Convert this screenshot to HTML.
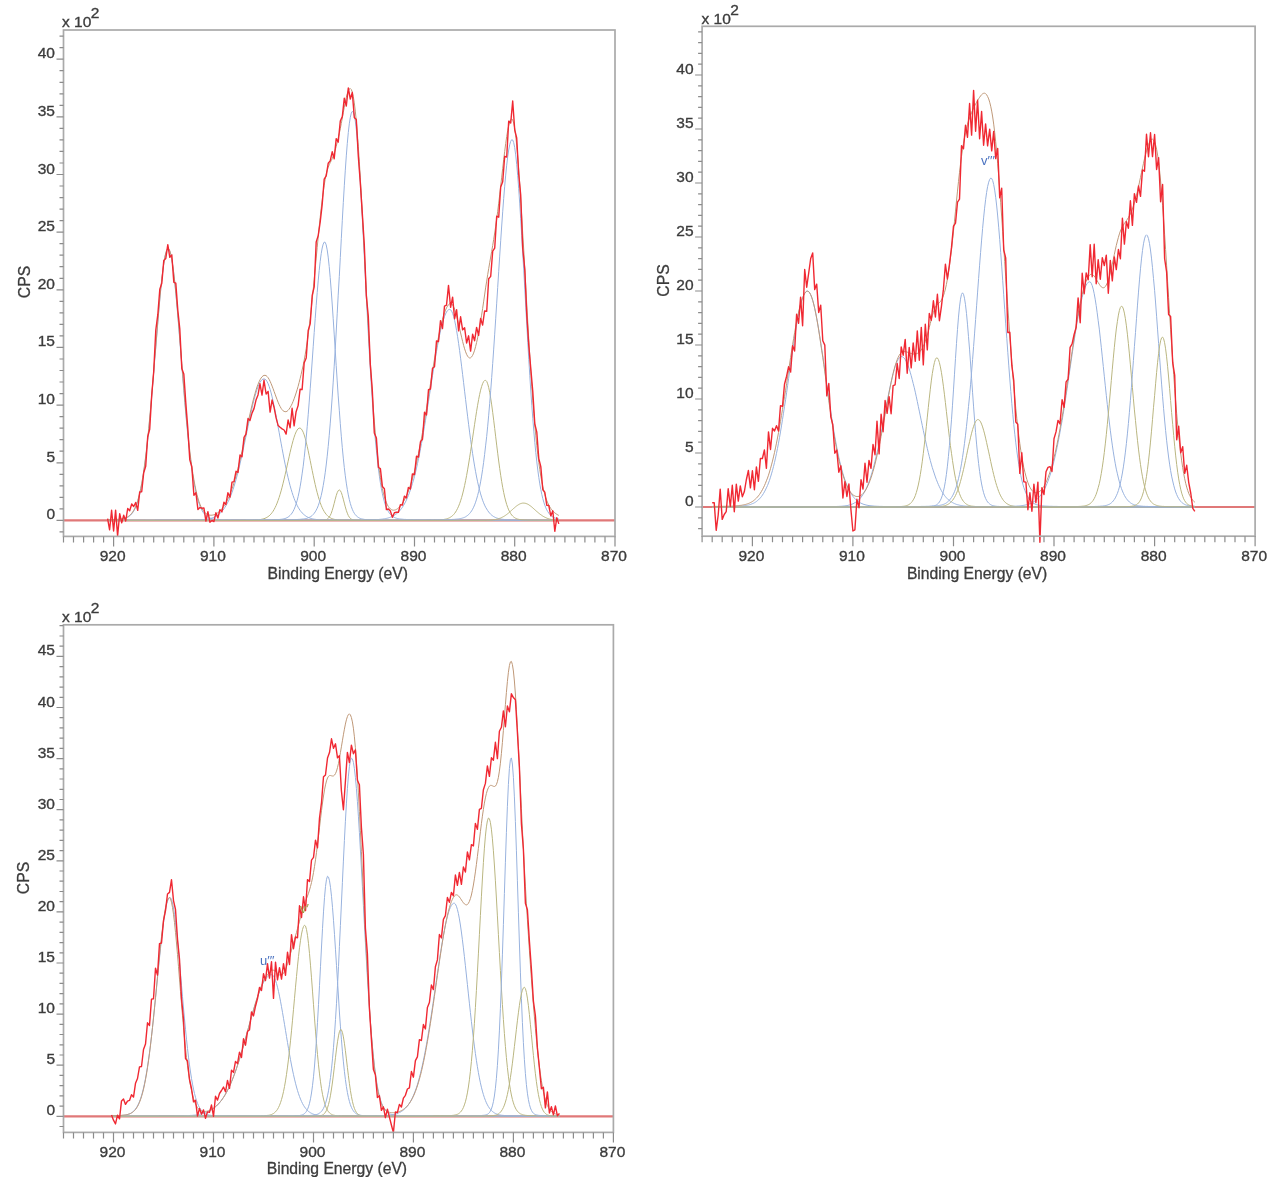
<!DOCTYPE html>
<html><head><meta charset="utf-8"><style>
html,body{margin:0;padding:0;background:#fff;}
svg{display:block;filter:blur(0.6px);}
path,rect{fill:none;}
.t{font-family:"Liberation Sans", sans-serif;font-size:15.5px;fill:#3c3c3c;stroke:#3c3c3c;stroke-width:0.35px;}
.a{font-family:"Liberation Sans", sans-serif;font-size:15.7px;fill:#3c3c3c;stroke:#3c3c3c;stroke-width:0.3px;}
.lab{font-family:"Liberation Sans", sans-serif;font-size:13px;}
</style></head><body>
<svg width="1280" height="1190" viewBox="0 0 1280 1190">
<path d="M63.5,520.4H615" stroke="#e07878" stroke-width="2.2"/>
<path d="M107.6,519.9l1 0 1 0 1,-0.1 1 0 1 0 1 0 1,-0.1 1 0 1,-0.1 1 0 1.1,-0.1 1,-0.1 1,-0.1 1,-0.1 1,-0.2 1,-0.2 1,-0.3 1,-0.3 1,-0.4 1,-0.5 1,-0.6 1,-0.8 1,-0.9 1,-1.1 1,-1.3 1,-1.5 1,-1.9 1,-2.1 1,-2.6 1,-2.9 1,-3.4 1,-4 1,-4.4 1,-5.1 1,-5.7 1,-6.4 1,-7 1,-7.8 1,-8.4 1,-9.2 1,-9.9 1,-10.5 1,-11 1,-11.6 1,-12.1 1,-12.3 1,-12.6 1.1,-12.6 1,-12.5 1,-12.3 1,-11.9 1,-11.3 1,-10.5 1,-9.7 1,-8.5 1,-7.3 1,-6 1,-4.5 1,-2.9 1,-1.3 1 0.3 1 1.9 1 3.6 1 5 1 6.6 1 7.8 1 9.1 1 10 1 11 1 11.6 1 12.2 1 12.4 1 12.7 1 12.7 1 12.5 1 12.3 1 11.9 1 11.5 1 10.9 1 10.2 1 9.6 1 8.9 1 8.1 1 7.5 1.1 6.7 1 6.1 1 5.4 1 4.8 1 4.2 1 3.7 1 3.1 1 2.8 1 2.3 1 2 1 1.7 1 1.4 1 1.2 1 1 1 0.8 1 0.6 1 0.6 1 0.4 1 0.4 1 0.3 1 0.2 1 0.2 1 0.1 1 0.2 1 0.1 1 0 1 0.1 1 0.1 1 0 1 0.1 1 0 1 0 1 0 1 0.1 1 0 1 0 1.1 0 1 0 1 0 1 0.1 1 0 1 0 1 0 1 0 1 0 1 0 1 0 1 0 1 0.1 1 0 1 0 1 0 1 0 1 0 1 0 1 0 1 0 1 0 1 0 1 0 1 0 1 0.1 1 0 1 0 1 0 1 0 1 0 1 0 1 0 1 0 1 0 1 0 1 0 1.1 0 1 0 1 0 1 0 1 0 1 0 1 0 1 0 1 0 1 0 1 0 1 0 1 0 1 0 1 0.1 1 0 1 0 1 0 1 0 1 0 1 0 1 0 1 0 1 0 1 0 1 0 1 0 1 0 1 0 1 0 1 0 1 0 1 0 1 0 1 0 1 0 1 0 1.1 0 1 0 1 0 1 0 1 0 1 0 1 0 1 0 1 0 1 0 1 0 1 0 1 0 1 0 1 0 1 0 1 0 1 0 1 0 1 0 1 0 1 0 1 0 1 0 1 0 1 0 1 0 1 0 1 0 1 0 1 0 1 0 1 0 1 0 1 0 1 0 1.1 0 1 0 1 0 1 0 1 0 1 0 1 0 1 0 1 0 1 0 1 0 1 0 1 0 1 0 1 0 1 0 1 0 1 0 1 0 1 0 1 0 1 0 1 0 1 0.1 1 0 1 0 1 0 1 0 1 0 1 0 1 0 1 0 1 0 1 0 1 0 1 0 1 0 1.1 0 1 0 1 0 1 0 1 0 1 0 1 0 1 0 1 0 1 0 1 0 1 0 1 0 1 0 1 0 1 0 1 0 1 0 1 0 1 0 1 0 1 0 1 0 1 0 1 0 1 0 1 0 1 0 1 0 1 0 1 0 1 0 1 0 1 0 1 0 1 0 1 0 1.1 0 1 0 1 0 1 0 1 0 1 0 1 0 1 0 1 0 1 0 1 0 1 0 1 0 1 0 1 0 1 0 1 0 1 0 1 0 1 0 1 0 1 0 1 0 1 0 1 0 1 0 1 0 1 0 1 0 1 0 1 0 1 0 1 0 1 0 1 0 1 0 1.1 0 1 0 1 0 1 0 1 0 1 0 1 0 1 0 1 0 1 0 1 0 1 0 1 0 1 0 1 0 1 0 1 0 1 0 1 0 1 0 1 0 1 0 1 0 1 0 1 0 1 0 1 0 1 0 1 0 1 0 1 0 1 0 1 0 1 0 1 0 1 0 1 0 1.1 0 1 0 1 0 1 0 1 0 1 0 1 0 1 0 1 0 1 0 1 0 1 0 1 0 1 0 1 0 1 0 1 0 1 0 1 0 1 0 1 0 1 0 1 0 1 0 1 0 1 0 1 0 1 0 1 0 1 0 1 0 1 0 1 0 1 0 1 0 1 0 1 0 1.1 0 1 0 1 0 1 0 1 0 1 0 1 0 1 0 1 0 1 0 1 0 1 0 1 0 1 0 1 0 1 0 1 0 1 0 1 0 1 0 1 0 1 0 1 0 1 0 1 0 1 0 1 0 1 0 1 0 1 0 1 0 1 0 1 0 1 0 1 0 1 0" stroke="#98b2de"/>
<path d="M107.6,520.3l1 0 1 0 1 0 1 0 1 0 1 0 1 0 1 0 1 0 1 0 1.1 0 1 0 1 0 1 0 1 0 1 0 1 0 1 0 1 0 1 0 1 0 1 0 1 0 1 0 1 0 1 0 1 0 1 0 1 0 1 0 1 0 1 0 1 0 1 0 1 0 1 0 1 0 1 0 1 0 1 0 1 0 1 0 1 0 1 0 1 0 1 0 1 0 1.1,-0.1 1 0 1 0 1 0 1 0 1 0 1 0 1 0 1 0 1 0 1 0 1 0 1 0 1 0 1 0 1 0 1 0 1 0 1 0 1 0 1 0 1 0 1 0 1 0 1 0 1,-0.1 1 0 1 0 1 0 1 0 1 0 1 0 1 0 1 0 1 0 1 0 1,-0.1 1.1 0 1 0 1 0 1 0 1,-0.1 1 0 1,-0.1 1 0 1,-0.1 1 0 1,-0.1 1,-0.1 1,-0.1 1,-0.1 1,-0.2 1,-0.1 1,-0.2 1,-0.2 1,-0.3 1,-0.3 1,-0.3 1,-0.4 1,-0.5 1,-0.5 1,-0.6 1,-0.7 1,-0.7 1,-0.9 1,-0.9 1,-1.1 1,-1.2 1,-1.3 1,-1.5 1,-1.6 1,-1.8 1,-1.9 1.1,-2.1 1,-2.4 1,-2.5 1,-2.6 1,-2.9 1,-3.1 1,-3.3 1,-3.5 1,-3.7 1,-3.8 1,-4.1 1,-4.2 1,-4.4 1,-4.5 1,-4.6 1,-4.7 1,-4.8 1,-4.8 1,-4.8 1,-4.8 1,-4.8 1,-4.7 1,-4.5 1,-4.4 1,-4.3 1,-3.9 1,-3.8 1,-3.4 1,-3.1 1,-2.8 1,-2.4 1,-2 1,-1.5 1,-1.2 1,-0.6 1,-0.2 1 0.3 1.1 0.9 1 1.5 1 2.1 1 2.6 1 3.1 1 3.5 1 4 1 4.3 1 4.7 1 4.9 1 5.2 1 5.3 1 5.5 1 5.4 1 5.6 1 5.4 1 5.4 1 5.3 1 5.2 1 5 1 4.8 1 4.5 1 4.3 1 4.1 1 3.9 1 3.5 1 3.3 1 3.1 1 2.8 1 2.5 1 2.3 1 2.1 1 1.9 1 1.7 1 1.5 1 1.3 1 1.2 1.1 1 1 0.9 1 0.8 1 0.7 1 0.6 1 0.5 1 0.4 1 0.4 1 0.3 1 0.3 1 0.2 1 0.2 1 0.1 1 0.2 1 0.1 1 0.1 1 0 1 0.1 1 0.1 1 0 1 0 1 0.1 1 0 1 0 1 0 1 0.1 1 0 1 0 1 0 1 0 1 0 1 0 1 0 1 0 1 0 1 0.1 1.1 0 1 0 1 0 1 0 1 0 1 0 1 0 1 0 1 0 1 0 1 0 1 0 1 0 1 0 1 0 1 0 1 0 1 0 1 0 1 0 1 0 1 0.1 1 0 1 0 1 0 1 0 1 0 1 0 1 0 1 0 1 0 1 0 1 0 1 0 1 0 1 0 1 0 1.1 0 1 0 1 0 1 0 1 0 1 0 1 0 1 0 1 0 1 0 1 0 1 0 1 0 1 0 1 0 1 0 1 0 1 0 1 0 1 0 1 0 1 0 1 0 1 0 1 0 1 0 1 0 1 0 1 0 1 0 1 0 1 0 1 0 1 0 1 0 1 0 1 0 1.1 0 1 0 1 0 1 0 1 0 1 0 1 0 1 0 1 0 1 0 1 0 1 0 1 0 1 0 1 0 1 0 1 0 1 0 1 0.1 1 0 1 0 1 0 1 0 1 0 1 0 1 0 1 0 1 0 1 0 1 0 1 0 1 0 1 0 1 0 1 0 1 0 1.1 0 1 0 1 0 1 0 1 0 1 0 1 0 1 0 1 0 1 0 1 0 1 0 1 0 1 0 1 0 1 0 1 0 1 0 1 0 1 0 1 0 1 0 1 0 1 0 1 0 1 0 1 0 1 0 1 0 1 0 1 0 1 0 1 0 1 0 1 0 1 0 1 0 1.1 0 1 0 1 0 1 0 1 0 1 0 1 0 1 0 1 0 1 0 1 0 1 0 1 0 1 0 1 0 1 0 1 0 1 0 1 0 1 0 1 0 1 0 1 0 1 0 1 0 1 0 1 0 1 0 1 0 1 0 1 0 1 0 1 0 1 0 1 0 1 0 1 0 1.1 0 1 0 1 0 1 0 1 0 1 0 1 0 1 0 1 0 1 0 1 0 1 0 1 0 1 0 1 0 1 0 1 0 1 0 1 0 1 0 1 0 1 0 1 0 1 0 1 0 1 0 1 0 1 0 1 0 1 0 1 0 1 0 1 0 1 0 1 0 1 0" stroke="#98b2de"/>
<path d="M107.6,520.4l1 0 1 0 1 0 1 0 1 0 1 0 1 0 1 0 1 0 1 0 1.1 0 1 0 1 0 1 0 1 0 1 0 1 0 1 0 1 0 1 0 1 0 1 0 1 0 1 0 1 0 1 0 1 0 1 0 1 0 1 0 1 0 1 0 1 0 1 0 1 0 1 0 1 0 1 0 1 0 1 0 1 0 1 0 1 0 1 0 1 0 1 0 1 0 1.1 0 1 0 1 0 1 0 1 0 1 0 1 0 1 0 1 0 1 0 1 0 1 0 1 0 1 0 1 0 1 0 1 0 1 0 1 0 1 0 1 0 1 0 1 0 1 0 1 0 1 0 1 0 1 0 1 0 1 0 1 0 1 0 1 0 1 0 1 0 1 0 1 0 1.1,-0.1 1 0 1 0 1 0 1 0 1 0 1 0 1 0 1 0 1 0 1 0 1 0 1 0 1 0 1 0 1 0 1 0 1 0 1 0 1 0 1 0 1 0 1 0 1 0 1 0 1 0 1 0 1 0 1 0 1 0 1 0 1 0 1 0 1 0 1 0 1 0 1.1 0 1 0 1 0 1 0 1 0 1 0 1 0 1 0 1 0 1 0 1,-0.1 1 0 1 0 1 0 1 0 1 0 1 0 1 0 1 0 1 0 1 0 1 0 1,-0.1 1 0 1 0 1 0 1,-0.1 1 0 1,-0.1 1,-0.1 1,-0.1 1,-0.1 1,-0.2 1,-0.2 1,-0.2 1,-0.3 1,-0.4 1.1,-0.5 1,-0.5 1,-0.7 1,-0.7 1,-1 1,-1 1,-1.3 1,-1.4 1,-1.7 1,-1.9 1,-2.1 1,-2.4 1,-2.7 1,-2.9 1,-3.2 1,-3.4 1,-3.7 1,-4 1,-4.1 1,-4.3 1,-4.4 1,-4.5 1,-4.6 1,-4.5 1,-4.4 1,-4.2 1,-4 1,-3.7 1,-3.3 1,-2.9 1,-2.4 1,-1.8 1,-1.3 1,-0.7 1 0 1 0.6 1 1.4 1.1 2.1 1 2.7 1 3.3 1 3.9 1 4.2 1 4.5 1 4.8 1 4.9 1 5 1 5 1 4.8 1 4.7 1 4.5 1 4.3 1 3.9 1 3.6 1 3.3 1 3 1 2.7 1 2.4 1 2 1 1.8 1 1.5 1 1.3 1 1.1 1 1 1 0.7 1 0.6 1 0.6 1 0.4 1 0.3 1 0.3 1 0.2 1 0.1 1 0.2 1 0.1 1.1 0 1 0.1 1 0.1 1 0 1 0 1 0 1 0.1 1 0 1 0 1 0 1 0 1 0 1 0 1 0 1 0 1 0 1 0.1 1 0 1 0 1 0 1 0 1 0 1 0 1 0 1 0 1 0 1 0 1 0 1 0 1 0 1 0 1 0 1 0 1 0 1 0 1 0 1 0 1.1 0 1 0 1 0 1 0 1 0 1 0 1 0 1 0 1 0 1 0 1 0 1 0 1 0 1 0 1 0 1 0 1 0 1 0 1 0 1 0 1 0 1 0.1 1 0 1 0 1 0 1 0 1 0 1 0 1 0 1 0 1 0 1 0 1 0 1 0 1 0 1 0 1 0 1.1 0 1 0 1 0 1 0 1 0 1 0 1 0 1 0 1 0 1 0 1 0 1 0 1 0 1 0 1 0 1 0 1 0 1 0 1 0 1 0 1 0 1 0 1 0 1 0 1 0 1 0 1 0 1 0 1 0 1 0 1 0 1 0 1 0 1 0 1 0 1 0 1.1 0 1 0 1 0 1 0 1 0 1 0 1 0 1 0 1 0 1 0 1 0 1 0 1 0 1 0 1 0 1 0 1 0 1 0 1 0 1 0 1 0 1 0 1 0 1 0 1 0 1 0 1 0 1 0 1 0 1 0 1 0 1 0 1 0 1 0 1 0 1 0 1 0 1.1 0 1 0 1 0 1 0 1 0 1 0 1 0 1 0 1 0 1 0 1 0 1 0 1 0 1 0 1 0 1 0 1 0 1 0 1 0 1 0 1 0 1 0 1 0 1 0 1 0 1 0 1 0 1 0 1 0 1 0 1 0 1 0 1 0 1 0 1 0 1 0 1 0 1.1 0 1 0 1 0 1 0 1 0 1 0 1 0 1 0 1 0 1 0 1 0 1 0 1 0 1 0 1 0 1 0 1 0 1 0 1 0 1 0 1 0 1 0 1 0 1 0 1 0 1 0 1 0 1 0 1 0 1 0 1 0 1 0 1 0 1 0 1 0 1 0" stroke="#bab680"/>
<path d="M107.6,520.4l1 0 1 0 1 0 1 0 1 0 1 0 1 0 1 0 1 0 1 0 1.1 0 1 0 1 0 1 0 1 0 1 0 1 0 1 0 1 0 1 0 1 0 1 0 1 0 1 0 1 0 1 0 1 0 1 0 1 0 1 0 1 0 1 0 1 0 1 0 1 0 1 0 1 0 1,-0.1 1 0 1 0 1 0 1 0 1 0 1 0 1 0 1 0 1 0 1.1 0 1 0 1 0 1 0 1 0 1 0 1 0 1 0 1 0 1 0 1 0 1 0 1 0 1 0 1 0 1 0 1 0 1 0 1 0 1 0 1 0 1 0 1 0 1 0 1 0 1 0 1 0 1 0 1 0 1 0 1 0 1 0 1 0 1 0 1 0 1 0 1 0 1.1 0 1 0 1 0 1 0 1 0 1 0 1 0 1 0 1 0 1 0 1 0 1 0 1 0 1 0 1 0 1 0 1 0 1 0 1 0 1 0 1 0 1 0 1 0 1 0 1 0 1 0 1 0 1 0 1 0 1,-0.1 1 0 1 0 1 0 1 0 1 0 1 0 1.1 0 1 0 1 0 1 0 1 0 1 0 1 0 1 0 1 0 1 0 1 0 1 0 1 0 1 0 1 0 1 0 1 0 1,-0.1 1 0 1 0 1 0 1 0 1 0 1 0 1 0 1 0 1 0 1 0 1 0 1 0 1,-0.1 1 0 1 0 1 0 1 0 1 0 1 0 1.1 0 1,-0.1 1 0 1 0 1 0 1 0 1,-0.1 1 0 1 0 1,-0.1 1 0 1 0 1,-0.1 1,-0.1 1,-0.1 1,-0.1 1,-0.1 1,-0.2 1,-0.2 1,-0.3 1,-0.4 1,-0.5 1,-0.5 1,-0.8 1,-0.9 1,-1.1 1,-1.3 1,-1.7 1,-2 1,-2.4 1,-2.9 1,-3.3 1,-4 1,-4.6 1,-5.3 1,-6 1,-6.9 1.1,-7.7 1,-8.6 1,-9.4 1,-10.3 1,-11.2 1,-11.9 1,-12.7 1,-13.3 1,-13.7 1,-14.1 1,-14.2 1,-14.2 1,-13.9 1,-13.4 1,-12.7 1,-11.7 1,-10.5 1,-9.1 1,-7.6 1,-5.7 1,-3.9 1,-2 1 0.2 1 2.6 1 5 1 7.2 1 9.3 1 11.1 1 12.6 1 13.9 1 14.7 1 15.4 1 15.7 1 15.7 1 15.4 1 15 1.1 14.3 1 13.5 1 12.5 1 11.5 1 10.4 1 9.4 1 8.3 1 7.3 1 6.3 1 5.5 1 4.6 1 3.9 1 3.2 1 2.7 1 2.2 1 1.8 1 1.4 1 1.1 1 0.9 1 0.7 1 0.6 1 0.4 1 0.4 1 0.2 1 0.2 1 0.2 1 0.1 1 0.1 1 0 1 0.1 1 0 1 0.1 1 0 1 0 1 0.1 1 0 1 0 1.1 0 1 0 1 0.1 1 0 1 0 1 0 1 0 1 0 1 0 1 0.1 1 0 1 0 1 0 1 0 1 0 1 0 1 0 1 0 1 0 1 0 1 0.1 1 0 1 0 1 0 1 0 1 0 1 0 1 0 1 0 1 0 1 0 1 0 1 0 1 0 1 0 1 0 1 0 1.1 0 1 0 1 0 1 0 1 0 1 0.1 1 0 1 0 1 0 1 0 1 0 1 0 1 0 1 0 1 0 1 0 1 0 1 0 1 0 1 0 1 0 1 0 1 0 1 0 1 0 1 0 1 0 1 0 1 0 1 0 1 0 1 0 1 0 1 0 1 0 1 0 1.1 0 1 0 1 0 1 0 1 0 1 0 1 0 1 0 1 0 1 0 1 0 1 0 1 0 1 0 1 0 1 0 1 0 1 0 1 0 1 0 1 0 1 0 1 0 1 0 1 0 1 0 1 0 1 0 1 0 1 0 1 0 1 0 1 0 1 0 1 0 1 0 1 0 1.1 0 1 0.1 1 0 1 0 1 0 1 0 1 0 1 0 1 0 1 0 1 0 1 0 1 0 1 0 1 0 1 0 1 0 1 0 1 0 1 0 1 0 1 0 1 0 1 0 1 0 1 0 1 0 1 0 1 0 1 0 1 0 1 0 1 0 1 0 1 0 1 0 1 0 1.1 0 1 0 1 0 1 0 1 0 1 0 1 0 1 0 1 0 1 0 1 0 1 0 1 0 1 0 1 0 1 0 1 0 1 0 1 0 1 0 1 0 1 0 1 0 1 0 1 0 1 0 1 0 1 0 1 0 1 0 1 0 1 0 1 0 1 0 1 0 1 0" stroke="#98b2de"/>
<path d="M107.6,520.4l1 0 1 0 1 0 1 0 1 0 1 0 1 0 1 0 1 0 1 0 1.1 0 1 0 1 0 1 0 1 0 1 0 1 0 1 0 1 0 1 0 1 0 1 0 1 0 1 0 1 0 1 0 1 0 1 0 1 0 1 0 1 0 1 0 1 0 1 0 1 0 1 0 1 0 1 0 1 0 1 0 1 0 1 0 1 0 1 0 1 0 1 0 1 0 1.1 0 1 0 1 0 1 0 1 0 1 0 1 0 1 0 1 0 1 0 1 0 1 0 1 0 1 0 1 0 1 0 1 0 1 0 1 0 1 0 1 0 1 0 1 0 1 0 1 0 1 0 1 0 1 0 1 0 1 0 1 0 1 0 1 0 1 0 1 0 1 0 1 0 1.1 0 1 0 1 0 1 0 1 0 1 0 1 0 1 0 1 0 1 0 1 0 1 0 1 0 1 0 1 0 1 0 1 0 1 0 1 0 1 0 1 0 1 0 1 0 1 0 1 0 1 0 1 0 1 0 1 0 1 0 1 0 1 0 1 0 1 0 1 0 1 0 1.1 0 1 0 1 0 1 0 1 0 1 0 1 0 1 0 1 0 1 0 1 0 1 0 1 0 1 0 1 0 1 0 1 0 1 0 1 0 1 0 1 0 1 0 1 0 1 0 1 0 1 0 1 0 1 0 1 0 1 0 1 0 1 0 1 0 1 0 1 0 1 0 1 0 1.1 0 1 0 1 0 1 0 1 0 1 0 1 0 1 0 1 0 1 0 1 0 1 0 1 0 1 0 1 0 1 0 1 0 1 0 1 0 1 0 1 0 1 0 1 0 1 0 1 0 1 0 1 0 1 0 1 0 1 0 1 0 1 0 1 0 1 0 1 0 1 0 1 0 1.1 0 1 0 1 0 1 0 1 0 1 0 1 0 1 0 1 0 1 0 1 0 1 0 1 0 1 0 1,-0.1 1 0 1 0 1 0 1 0 1 0 1,-0.1 1,-0.1 1,-0.1 1,-0.3 1,-0.5 1,-0.8 1,-1.2 1,-1.6 1,-2.2 1,-2.9 1,-3.4 1,-3.8 1,-3.9 1,-3.7 1,-3 1,-2 1.1,-0.8 1 0.7 1 1.9 1 3 1 3.7 1 3.9 1 3.8 1 3.4 1 2.9 1 2.3 1 1.7 1 1.1 1 0.8 1 0.5 1 0.3 1 0.2 1 0.1 1 0.1 1 0 1 0 1 0 1 0 1 0 1 0.1 1 0 1 0 1 0 1 0 1 0 1 0 1 0 1 0 1 0 1 0 1 0 1 0 1 0 1.1 0 1 0 1 0 1 0 1 0 1 0 1 0 1 0 1 0 1 0 1 0 1 0 1 0 1 0 1 0 1 0 1 0 1 0 1 0 1 0 1 0 1 0 1 0 1 0 1 0 1 0 1 0 1 0 1 0 1 0 1 0 1 0 1 0 1 0 1 0 1 0 1 0 1.1 0 1 0 1 0 1 0 1 0 1 0 1 0 1 0 1 0 1 0 1 0 1 0 1 0 1 0 1 0 1 0 1 0 1 0 1 0 1 0 1 0 1 0 1 0 1 0 1 0 1 0 1 0 1 0 1 0 1 0 1 0 1 0 1 0 1 0 1 0 1 0 1.1 0 1 0 1 0 1 0 1 0 1 0 1 0 1 0 1 0 1 0 1 0 1 0 1 0 1 0 1 0 1 0 1 0 1 0 1 0 1 0 1 0 1 0 1 0 1 0 1 0 1 0 1 0 1 0 1 0 1 0 1 0 1 0 1 0 1 0 1 0 1 0 1 0 1.1 0 1 0 1 0 1 0 1 0 1 0 1 0 1 0 1 0 1 0 1 0 1 0 1 0 1 0 1 0 1 0 1 0 1 0 1 0 1 0 1 0 1 0 1 0 1 0 1 0 1 0 1 0 1 0 1 0 1 0 1 0 1 0 1 0 1 0 1 0 1 0 1 0 1.1 0 1 0 1 0 1 0 1 0 1 0 1 0 1 0 1 0 1 0 1 0 1 0 1 0 1 0 1 0 1 0 1 0 1 0 1 0 1 0 1 0 1 0 1 0 1 0 1 0 1 0 1 0 1 0 1 0 1 0 1 0 1 0 1 0 1 0 1 0 1 0" stroke="#bab680"/>
<path d="M107.6,520.4l1 0 1 0 1 0 1 0 1,-0.1 1 0 1 0 1 0 1 0 1 0 1.1 0 1 0 1 0 1 0 1 0 1 0 1 0 1 0 1 0 1 0 1 0 1 0 1 0 1 0 1 0 1 0 1 0 1 0 1 0 1 0 1 0 1 0 1 0 1 0 1 0 1 0 1 0 1 0 1 0 1 0 1 0 1 0 1 0 1 0 1 0 1 0 1 0 1.1 0 1 0 1 0 1 0 1 0 1 0 1 0 1 0 1 0 1 0 1 0 1 0 1 0 1 0 1 0 1 0 1 0 1 0 1 0 1 0 1 0 1 0 1 0 1 0 1 0 1 0 1 0 1 0 1 0 1 0 1 0 1 0 1 0 1 0 1 0 1 0 1 0 1.1 0 1 0 1 0 1 0 1 0 1 0 1 0 1 0 1 0 1 0 1 0 1 0 1 0 1 0 1 0 1 0 1 0 1 0 1 0 1 0 1 0 1 0 1,-0.1 1 0 1 0 1 0 1 0 1 0 1 0 1 0 1 0 1 0 1 0 1 0 1 0 1 0 1.1 0 1 0 1 0 1 0 1 0 1 0 1 0 1 0 1 0 1 0 1 0 1 0 1 0 1 0 1 0 1 0 1 0 1,-0.1 1 0 1 0 1 0 1 0 1 0 1 0 1 0 1 0 1 0 1 0 1 0 1 0 1 0 1 0 1 0 1 0 1,-0.1 1 0 1 0 1.1 0 1 0 1 0 1 0 1 0 1 0 1 0 1 0 1,-0.1 1 0 1 0 1 0 1 0 1 0 1 0 1 0 1,-0.1 1 0 1 0 1 0 1 0 1 0 1,-0.1 1 0 1 0 1 0 1,-0.1 1 0 1 0 1 0 1,-0.1 1 0 1,-0.1 1 0 1,-0.1 1,-0.1 1,-0.1 1.1,-0.1 1,-0.1 1,-0.2 1,-0.2 1,-0.3 1,-0.4 1,-0.4 1,-0.5 1,-0.6 1,-0.8 1,-1 1,-1.2 1,-1.4 1,-1.7 1,-2 1,-2.4 1,-2.9 1,-3.4 1,-3.9 1,-4.6 1,-5.3 1,-6 1,-6.9 1,-7.8 1,-8.8 1,-9.7 1,-10.8 1,-11.8 1,-12.9 1,-13.9 1,-15 1,-15.9 1,-16.7 1,-17.5 1,-18.2 1,-18.6 1.1,-18.8 1,-18.9 1,-18.8 1,-18.4 1,-17.7 1,-16.8 1,-15.6 1,-14.3 1,-12.6 1,-10.8 1,-8.7 1,-6.5 1,-4.2 1,-1.7 1 0.7 1 3.3 1 5.8 1 8.3 1 10.5 1 12.5 1 14.4 1 15.9 1 17.3 1 18.2 1 19 1 19.4 1 19.5 1 19.6 1 19.2 1 18.7 1 18.1 1 17.2 1 16.3 1 15.2 1 14.2 1 13 1 11.9 1.1 10.7 1 9.7 1 8.6 1 7.6 1 6.7 1 5.9 1 5 1 4.3 1 3.7 1 3.2 1 2.6 1 2.2 1 1.8 1 1.5 1 1.3 1 1 1 0.8 1 0.7 1 0.5 1 0.5 1 0.3 1 0.3 1 0.2 1 0.2 1 0.1 1 0.1 1 0.1 1 0.1 1 0.1 1 0 1 0.1 1 0 1 0.1 1 0 1 0 1 0.1 1 0 1.1 0 1 0 1 0.1 1 0 1 0 1 0 1 0 1 0 1 0.1 1 0 1 0 1 0 1 0 1 0 1 0 1 0 1 0.1 1 0 1 0 1 0 1 0 1 0 1 0 1 0 1 0 1 0 1 0.1 1 0 1 0 1 0 1 0 1 0 1 0 1 0 1 0 1 0 1.1 0 1 0 1 0 1 0 1 0 1 0 1 0.1 1 0 1 0 1 0 1 0 1 0 1 0 1 0 1 0 1 0 1 0 1 0 1 0 1 0 1 0 1 0 1 0 1 0 1 0 1 0 1 0 1 0 1 0 1 0 1 0 1 0 1 0 1 0 1 0 1 0 1 0 1.1 0.1 1 0 1 0 1 0 1 0 1 0 1 0 1 0 1 0 1 0 1 0 1 0 1 0 1 0 1 0 1 0 1 0 1 0 1 0 1 0 1 0 1 0 1 0 1 0 1 0 1 0 1 0 1 0 1 0 1 0 1 0 1 0 1 0 1 0 1 0 1 0 1 0 1.1 0 1 0 1 0 1 0 1 0 1 0 1 0 1 0 1 0 1 0 1 0 1 0 1 0 1 0 1 0 1 0 1 0 1 0 1 0 1 0 1 0 1 0 1 0 1 0 1 0 1 0 1 0 1 0 1 0 1 0 1 0 1 0 1 0 1 0 1 0 1 0" stroke="#98b2de"/>
<path d="M107.6,520.4l1 0 1 0 1 0 1 0 1 0 1 0 1 0 1 0 1 0 1 0 1.1 0 1 0 1 0 1 0 1 0 1 0 1 0 1 0 1 0 1 0 1 0 1 0 1 0 1 0 1 0 1 0 1 0 1 0 1 0 1 0 1 0 1 0 1 0 1 0 1 0 1 0 1 0 1 0 1 0 1 0 1 0 1 0 1 0 1 0 1 0 1 0 1 0 1.1 0 1 0 1 0 1 0 1 0 1 0 1 0 1 0 1 0 1 0 1 0 1 0 1 0 1 0 1 0 1 0 1 0 1 0 1 0 1 0 1 0 1 0 1 0 1 0 1 0 1 0 1 0 1 0 1 0 1 0 1 0 1 0 1 0 1,-0.1 1 0 1 0 1 0 1.1 0 1 0 1 0 1 0 1 0 1 0 1 0 1 0 1 0 1 0 1 0 1 0 1 0 1 0 1 0 1 0 1 0 1 0 1 0 1 0 1 0 1 0 1 0 1 0 1 0 1 0 1 0 1 0 1 0 1 0 1 0 1 0 1 0 1 0 1 0 1 0 1.1 0 1 0 1 0 1 0 1 0 1 0 1 0 1 0 1 0 1 0 1 0 1 0 1 0 1 0 1 0 1 0 1 0 1 0 1 0 1 0 1 0 1 0 1 0 1 0 1 0 1 0 1 0 1 0 1 0 1 0 1 0 1 0 1 0 1 0 1 0 1 0 1 0 1.1 0 1 0 1 0 1 0 1 0 1 0 1 0 1 0 1 0 1 0 1 0 1 0 1 0 1 0 1 0 1 0 1 0 1 0 1 0 1 0 1 0 1 0 1 0 1 0 1 0 1 0 1 0 1 0 1 0 1 0 1 0 1 0 1 0 1 0 1,-0.1 1 0 1 0 1.1 0 1 0 1 0 1 0 1 0 1 0 1 0 1 0 1 0 1 0 1 0 1 0 1 0 1 0 1 0 1 0 1 0 1 0 1 0 1 0 1 0 1 0 1 0 1 0 1 0 1 0 1 0 1 0 1 0 1 0 1 0 1 0 1,-0.1 1 0 1 0 1 0 1.1 0 1 0 1 0 1 0 1 0 1 0 1 0 1 0 1 0 1 0 1 0 1 0 1 0 1 0 1,-0.1 1 0 1 0 1 0 1 0 1 0 1 0 1 0 1 0 1 0 1 0 1,-0.1 1 0 1 0 1 0 1 0 1 0 1,-0.1 1 0 1 0 1,-0.1 1 0 1 0 1.1,-0.1 1,-0.1 1 0 1,-0.1 1,-0.1 1,-0.1 1,-0.1 1,-0.2 1,-0.1 1,-0.2 1,-0.2 1,-0.2 1,-0.3 1,-0.3 1,-0.4 1,-0.4 1,-0.4 1,-0.5 1,-0.6 1,-0.7 1,-0.7 1,-0.9 1,-0.9 1,-1 1,-1.2 1,-1.2 1,-1.4 1,-1.6 1,-1.7 1,-1.9 1,-2 1,-2.3 1,-2.4 1,-2.6 1,-2.9 1,-3 1,-3.3 1.1,-3.5 1,-3.8 1,-4 1,-4.2 1,-4.5 1,-4.7 1,-4.9 1,-5.2 1,-5.3 1,-5.6 1,-5.7 1,-6 1,-6 1,-6.2 1,-6.3 1,-6.4 1,-6.4 1,-6.5 1,-6.4 1,-6.4 1,-6.2 1,-6.2 1,-6 1,-5.8 1,-5.6 1,-5.3 1,-5 1,-4.6 1,-4.3 1,-3.8 1,-3.4 1,-3 1,-2.4 1,-2 1,-1.4 1,-0.9 1.1,-0.3 1 0.4 1 1.3 1 2.2 1 3.1 1 3.9 1 4.8 1 5.5 1 6.1 1 6.7 1 7.2 1 7.6 1 8 1 8.2 1 8.3 1 8.5 1 8.4 1 8.4 1 8.2 1 8.1 1 7.8 1 7.5 1 7.2 1 6.8 1 6.4 1 6.1 1 5.6 1 5.3 1 4.8 1 4.4 1 4 1 3.7 1 3.3 1 3 1 2.6 1 2.3 1 2.1 1.1 1.8 1 1.6 1 1.4 1 1.2 1 1.1 1 0.9 1 0.7 1 0.7 1 0.5 1 0.5 1 0.4 1 0.3 1 0.3 1 0.2 1 0.2 1 0.2 1 0.1 1 0.1 1 0.1 1 0.1 1 0.1 1 0 1 0.1 1 0 1 0 1 0.1 1 0 1 0 1 0 1 0.1 1 0 1 0 1 0 1 0 1 0 1 0 1 0 1.1 0.1 1 0 1 0 1 0 1 0 1 0 1 0 1 0 1 0 1 0 1 0 1 0 1 0 1 0 1 0.1 1 0 1 0 1 0 1 0 1 0 1 0 1 0 1 0 1 0 1 0 1 0 1 0 1 0 1 0 1 0 1 0 1 0 1 0 1 0 1 0 1 0" stroke="#98b2de"/>
<path d="M107.6,520.4l1 0 1 0 1 0 1 0 1 0 1 0 1 0 1 0 1 0 1 0 1.1 0 1 0 1 0 1 0 1 0 1 0 1 0 1 0 1 0 1 0 1 0 1 0 1 0 1 0 1 0 1 0 1 0 1 0 1 0 1 0 1 0 1 0 1 0 1 0 1 0 1 0 1 0 1 0 1 0 1 0 1 0 1 0 1 0 1 0 1 0 1 0 1 0 1.1 0 1 0 1 0 1 0 1 0 1 0 1 0 1 0 1 0 1 0 1 0 1 0 1 0 1 0 1 0 1 0 1 0 1 0 1 0 1 0 1 0 1 0 1 0 1 0 1 0 1 0 1 0 1 0 1 0 1 0 1 0 1 0 1 0 1 0 1 0 1 0 1 0 1.1 0 1 0 1 0 1 0 1 0 1 0 1 0 1 0 1 0 1 0 1 0 1 0 1 0 1 0 1 0 1 0 1 0 1 0 1 0 1 0 1 0 1 0 1 0 1 0 1 0 1 0 1 0 1 0 1 0 1 0 1 0 1 0 1 0 1 0 1 0 1 0 1.1 0 1 0 1 0 1 0 1 0 1 0 1 0 1 0 1 0 1 0 1 0 1 0 1 0 1 0 1 0 1 0 1 0 1 0 1 0 1 0 1 0 1 0 1 0 1 0 1 0 1 0 1 0 1 0 1 0 1 0 1 0 1 0 1 0 1 0 1 0 1 0 1 0 1.1 0 1 0 1 0 1 0 1 0 1 0 1 0 1 0 1 0 1 0 1 0 1 0 1 0 1 0 1 0 1 0 1 0 1 0 1 0 1 0 1 0 1 0 1 0 1 0 1 0 1 0 1 0 1 0 1 0 1 0 1 0 1 0 1 0 1 0 1 0 1 0 1 0 1.1 0 1 0 1 0 1 0 1 0 1 0 1 0 1 0 1 0 1 0 1 0 1 0 1 0 1 0 1 0 1 0 1 0 1 0 1 0 1 0 1 0 1 0 1 0 1 0 1 0 1 0 1 0 1 0 1 0 1 0 1 0 1 0 1 0 1 0 1 0 1 0 1.1 0 1 0 1 0 1 0 1 0 1 0 1 0 1 0 1 0 1 0 1 0 1 0 1 0 1,-0.1 1 0 1 0 1 0 1 0 1 0 1 0 1 0 1 0 1 0 1 0 1 0 1 0 1 0 1 0 1 0 1 0 1 0 1 0 1 0 1 0 1 0 1 0 1 0 1.1 0 1 0 1 0 1 0 1 0 1 0 1 0 1 0 1 0 1 0 1 0 1 0 1 0 1 0 1 0 1 0 1 0 1 0 1 0 1 0 1 0 1 0 1 0 1 0 1 0 1 0 1 0 1 0 1 0 1 0 1 0 1 0 1 0 1,-0.1 1 0 1 0 1 0 1.1 0 1 0 1 0 1 0 1 0 1 0 1 0 1 0 1 0 1 0 1 0 1 0 1 0 1 0 1,-0.1 1 0 1 0 1 0 1 0 1 0 1 0 1,-0.1 1 0 1 0 1 0 1,-0.1 1 0 1,-0.1 1,-0.1 1,-0.1 1,-0.1 1,-0.2 1,-0.2 1,-0.2 1,-0.4 1,-0.3 1.1,-0.5 1,-0.6 1,-0.7 1,-0.8 1,-1 1,-1.2 1,-1.4 1,-1.7 1,-1.9 1,-2.2 1,-2.5 1,-2.9 1,-3.2 1,-3.6 1,-4.1 1,-4.4 1,-4.8 1,-5.2 1,-5.6 1,-5.9 1,-6.2 1,-6.5 1,-6.6 1,-6.8 1,-6.8 1,-6.8 1,-6.6 1,-6.4 1,-6 1,-5.6 1,-5.1 1,-4.4 1,-3.6 1,-2.9 1,-2.1 1,-1.1 1,-0.2 1.1 1.1 1 2.4 1 3.7 1 4.8 1 5.9 1 6.7 1 7.4 1 7.9 1 8.2 1 8.4 1 8.3 1 8.1 1 7.8 1 7.4 1 6.9 1 6.3 1 5.8 1 5.1 1 4.6 1 3.9 1 3.5 1 2.9 1 2.5 1 2 1 1.7 1 1.4 1 1.1 1 0.9 1 0.7 1 0.6 1 0.4 1 0.4 1 0.2 1 0.2 1 0.2 1 0.1 1 0.1 1.1 0 1 0.1 1 0 1 0 1 0.1 1 0 1 0 1 0 1 0 1 0 1 0.1 1 0 1 0 1 0 1 0 1 0 1 0 1 0 1 0 1 0 1 0 1 0 1 0 1 0 1 0.1 1 0 1 0 1 0 1 0 1 0 1 0 1 0 1 0 1 0 1 0 1 0" stroke="#bab680"/>
<path d="M107.6,520.4l1 0 1 0 1 0 1 0 1 0 1 0 1 0 1 0 1 0 1 0 1.1 0 1 0 1 0 1 0 1 0 1 0 1 0 1 0 1 0 1 0 1 0 1 0 1 0 1 0 1 0 1 0 1 0 1 0 1 0 1 0 1 0 1 0 1 0 1 0 1 0 1 0 1 0 1 0 1 0 1 0 1 0 1 0 1 0 1 0 1 0 1 0 1 0 1.1 0 1 0 1 0 1 0 1 0 1 0 1 0 1 0 1 0 1 0 1 0 1 0 1 0 1 0 1 0 1 0 1 0 1 0 1 0 1 0 1 0 1 0 1 0 1 0 1 0 1 0 1 0 1 0 1 0 1 0 1 0 1 0 1 0 1 0 1 0 1 0 1 0 1.1 0 1 0 1 0 1 0 1 0 1 0 1 0 1 0 1 0 1 0 1 0 1 0 1 0 1 0 1 0 1 0 1 0 1 0 1 0 1 0 1 0 1 0 1 0 1 0 1 0 1 0 1 0 1 0 1 0 1 0 1 0 1 0 1 0 1 0 1 0 1 0 1.1 0 1 0 1 0 1 0 1 0 1 0 1 0 1 0 1 0 1 0 1 0 1 0 1 0 1 0 1 0 1 0 1 0 1 0 1 0 1 0 1 0 1 0 1 0 1 0 1 0 1,-0.1 1 0 1 0 1 0 1 0 1 0 1 0 1 0 1 0 1 0 1 0 1 0 1.1 0 1 0 1 0 1 0 1 0 1 0 1 0 1 0 1 0 1 0 1 0 1 0 1 0 1 0 1 0 1 0 1 0 1 0 1 0 1 0 1 0 1 0 1 0 1 0 1 0 1 0 1 0 1 0 1 0 1 0 1 0 1 0 1 0 1 0 1 0 1 0 1 0 1.1 0 1 0 1 0 1 0 1 0 1 0 1 0 1 0 1 0 1 0 1 0 1 0 1 0 1 0 1 0 1 0 1 0 1 0 1 0 1 0 1 0 1 0 1 0 1 0 1 0 1 0 1 0 1 0 1 0 1 0 1 0 1 0 1 0 1 0 1 0 1 0 1.1 0 1 0 1 0 1 0 1 0 1 0 1 0 1 0 1 0 1 0 1 0 1 0 1 0 1 0 1 0 1 0 1 0 1 0 1 0 1 0 1 0 1 0 1 0 1 0 1,-0.1 1 0 1 0 1 0 1 0 1 0 1 0 1 0 1 0 1 0 1 0 1 0 1 0 1.1 0 1 0 1 0 1 0 1 0 1 0 1 0 1 0 1 0 1 0 1 0 1 0 1 0 1 0 1 0 1 0 1 0 1 0 1 0 1 0 1 0 1,-0.1 1 0 1 0 1 0 1 0 1 0 1 0 1 0 1 0 1 0 1 0 1 0 1 0 1 0 1 0 1 0 1.1 0 1 0 1 0 1,-0.1 1 0 1 0 1 0 1 0 1 0 1 0 1 0 1 0 1 0 1 0 1,-0.1 1 0 1 0 1 0 1 0 1 0 1 0 1 0 1 0 1,-0.1 1 0 1 0 1 0 1 0 1 0 1,-0.1 1 0 1 0 1 0 1 0 1,-0.1 1 0 1.1 0 1,-0.1 1 0 1,-0.1 1 0 1,-0.1 1,-0.1 1,-0.1 1,-0.1 1,-0.1 1,-0.2 1,-0.2 1,-0.2 1,-0.3 1,-0.3 1,-0.4 1,-0.5 1,-0.7 1,-0.7 1,-0.8 1,-1.1 1,-1.2 1,-1.4 1,-1.7 1,-2 1,-2.3 1,-2.7 1,-3.1 1,-3.5 1,-4 1,-4.6 1,-5.1 1,-5.8 1,-6.5 1,-7.1 1,-8 1,-8.6 1.1,-9.5 1,-10.2 1,-11 1,-11.9 1,-12.5 1,-13.3 1,-13.9 1,-14.5 1,-14.9 1,-15.4 1,-15.6 1,-15.8 1,-15.7 1,-15.6 1,-15.3 1,-14.8 1,-14.2 1,-13.3 1,-12.3 1,-11.1 1,-9.9 1,-8.4 1,-6.8 1,-5.2 1,-3.5 1,-1.6 1 0.3 1 2.6 1 5 1 7.3 1 9.4 1 11.2 1 13.1 1 14.5 1 15.7 1 16.8 1 17.4 1.1 17.9 1 18.2 1 18.1 1 17.9 1 17.5 1 16.9 1 16.2 1 15.3 1 14.3 1 13.4 1 12.4 1 11.3 1 10.2 1 9.3 1 8.2 1 7.3 1 6.5 1 5.6 1 4.9 1 4.2 1 3.5 1 3.1 1 2.6 1 2.1 1 1.8 1 1.5 1 1.2 1 1.1 1 0.8 1 0.6 1 0.6 1 0.4 1 0.4 1 0.2 1 0.3 1 0.1" stroke="#98b2de"/>
<path d="M107.6,520.4l1 0 1 0 1 0 1 0 1 0 1 0 1 0 1 0 1 0 1 0 1.1 0 1 0 1 0 1 0 1 0 1 0 1 0 1 0 1 0 1 0 1 0 1 0 1 0 1 0 1 0 1 0 1 0 1 0 1 0 1 0 1 0 1 0 1 0 1 0 1 0 1 0 1 0 1 0 1 0 1 0 1 0 1 0 1 0 1 0 1 0 1 0 1 0 1.1 0 1 0 1 0 1 0 1 0 1 0 1 0 1 0 1 0 1 0 1 0 1 0 1 0 1 0 1 0 1 0 1 0 1 0 1 0 1 0 1 0 1 0 1 0 1 0 1 0 1 0 1 0 1 0 1 0 1 0 1 0 1 0 1 0 1 0 1 0 1 0 1 0 1.1 0 1 0 1 0 1 0 1 0 1 0 1 0 1 0 1 0 1 0 1 0 1 0 1 0 1 0 1 0 1 0 1 0 1 0 1 0 1 0 1 0 1 0 1 0 1 0 1 0 1 0 1 0 1 0 1 0 1 0 1 0 1 0 1 0 1 0 1 0 1 0 1.1 0 1 0 1 0 1 0 1 0 1 0 1 0 1 0 1 0 1 0 1 0 1 0 1 0 1 0 1 0 1 0 1 0 1 0 1 0 1 0 1 0 1 0 1 0 1 0 1 0 1 0 1 0 1 0 1 0 1 0 1 0 1 0 1 0 1 0 1 0 1 0 1 0 1.1 0 1 0 1 0 1 0 1 0 1 0 1 0 1 0 1 0 1 0 1 0 1 0 1 0 1 0 1 0 1 0 1 0 1 0 1 0 1 0 1 0 1 0 1 0 1 0 1 0 1 0 1 0 1 0 1 0 1 0 1 0 1 0 1 0 1 0 1 0 1 0 1 0 1.1 0 1 0 1 0 1 0 1 0 1 0 1 0 1 0 1 0 1 0 1 0 1 0 1 0 1 0 1 0 1 0 1 0 1 0 1 0 1 0 1 0 1 0 1 0 1 0 1 0 1 0 1 0 1 0 1 0 1 0 1 0 1 0 1 0 1 0 1 0 1 0 1.1 0 1 0 1 0 1 0 1 0 1 0 1 0 1 0 1 0 1 0 1 0 1 0 1 0 1 0 1 0 1 0 1 0 1 0 1 0 1 0 1 0 1 0 1 0 1 0 1 0 1 0 1 0 1 0 1 0 1 0 1 0 1 0 1 0 1 0 1 0 1 0 1 0 1.1 0 1 0 1 0 1 0 1 0 1 0 1 0 1 0 1 0 1 0 1 0 1 0 1 0 1 0 1 0 1 0 1 0 1 0 1 0 1 0 1 0 1 0 1 0 1 0 1 0 1 0 1 0 1 0 1 0 1 0 1 0 1 0 1 0 1 0 1 0 1 0 1 0 1.1 0 1 0 1 0 1 0 1 0 1 0 1 0 1 0 1 0 1 0 1 0 1 0 1 0 1 0 1 0 1 0 1 0 1 0 1 0 1 0 1 0 1 0 1 0 1 0 1 0 1 0 1 0 1 0 1 0 1 0 1 0 1 0 1 0 1 0 1 0 1 0 1.1 0 1 0 1 0 1 0 1 0 1 0 1 0 1 0 1 0 1 0 1 0 1 0 1 0 1 0 1 0 1 0 1 0 1 0 1 0 1 0 1 0 1 0 1 0 1 0 1 0 1 0 1 0 1 0 1 0 1,-0.1 1 0 1 0 1 0 1 0 1 0 1 0 1 0 1.1,-0.1 1 0 1 0 1,-0.1 1,-0.1 1 0 1,-0.1 1,-0.2 1,-0.1 1,-0.2 1,-0.2 1,-0.2 1,-0.3 1,-0.4 1,-0.3 1,-0.5 1,-0.5 1,-0.5 1,-0.6 1,-0.7 1,-0.7 1,-0.8 1,-0.8 1,-0.9 1,-0.9 1,-0.9 1,-0.9 1,-0.9 1,-0.8 1,-0.9 1,-0.8 1,-0.7 1,-0.6 1,-0.6 1,-0.4 1,-0.3 1,-0.2 1.1 0 1 0.1 1 0.2 1 0.4 1 0.4 1 0.6 1 0.7 1 0.7 1 0.8 1 0.9 1 0.9 1 0.9 1 0.9 1 0.9 1 0.8 1 0.9 1 0.8 1 0.7 1 0.7 1 0.7 1 0.6 1 0.5 1 0.5 1 0.4 1 0.4 1 0.3 1 0.3 1 0.2 1 0.2 1 0.2 1 0.1 1 0.1 1 0.1 1 0.1 1 0 1 0.1" stroke="#bab680"/>
<path d="M107.6,519.7l1,-0.1 1 0 1 0 1 0 1,-0.1 1 0 1 0 1,-0.1 1,-0.1 1 0 1.1,-0.1 1,-0.1 1,-0.1 1,-0.2 1,-0.2 1,-0.2 1,-0.3 1,-0.3 1,-0.5 1,-0.5 1,-0.6 1,-0.8 1,-0.9 1,-1.2 1,-1.3 1,-1.6 1,-1.9 1,-2.3 1,-2.6 1,-3 1,-3.5 1,-4 1,-4.6 1,-5.1 1,-5.8 1,-6.5 1,-7.1 1,-7.8 1,-8.5 1,-9.2 1,-9.9 1,-10.5 1,-11 1,-11.6 1,-12 1,-12.3 1,-12.5 1.1,-12.5 1,-12.4 1,-12.2 1,-11.7 1,-11.2 1,-10.4 1,-9.5 1,-8.5 1,-7.2 1,-5.9 1,-4.4 1,-2.9 1,-1.3 1 0.3 1 1.8 1 3.5 1 5 1 6.4 1 7.7 1 8.9 1 9.8 1 10.8 1 11.4 1 12 1 12.3 1 12.5 1 12.5 1 12.5 1 12.2 1 11.8 1 11.4 1 10.9 1 10.2 1 9.6 1 8.9 1 8.2 1 7.6 1.1 6.8 1 6.1 1 5.5 1 4.8 1 4.3 1 3.7 1 3.3 1 2.8 1 2.3 1 2 1 1.7 1 1.4 1 1.1 1 0.9 1 0.6 1 0.5 1 0.4 1 0.2 1 0 1 0 1,-0.2 1,-0.2 1,-0.4 1,-0.4 1,-0.6 1,-0.7 1,-0.8 1,-0.9 1,-1 1,-1.1 1,-1.3 1,-1.4 1,-1.6 1,-1.7 1,-1.9 1,-2 1.1,-2.3 1,-2.4 1,-2.6 1,-2.8 1,-2.9 1,-3.2 1,-3.4 1,-3.5 1,-3.7 1,-3.9 1,-4.1 1,-4.2 1,-4.3 1,-4.5 1,-4.6 1,-4.6 1,-4.7 1,-4.8 1,-4.7 1,-4.7 1,-4.7 1,-4.5 1,-4.5 1,-4.3 1,-4.1 1,-3.9 1,-3.6 1,-3.4 1,-3.1 1,-2.7 1,-2.4 1,-2.1 1,-1.7 1,-1.3 1,-0.9 1,-0.5 1,-0.1 1.1 0.3 1 0.9 1 1.2 1 1.6 1 2 1 2.3 1 2.5 1 2.6 1 2.8 1 2.7 1 2.8 1 2.7 1 2.5 1 2.3 1 2 1 1.8 1 1.4 1 1.1 1 0.6 1 0.3 1 0 1,-0.5 1,-0.9 1,-1.1 1,-1.6 1,-1.8 1,-2 1,-2.4 1,-2.6 1,-2.8 1,-3 1,-3.2 1,-3.4 1,-3.8 1,-3.9 1,-4.2 1,-4.5 1.1,-4.7 1,-5.1 1,-5.6 1,-6.1 1,-6.6 1,-7.2 1,-7.9 1,-8.4 1,-9 1,-9.6 1,-10 1,-10.4 1,-10.6 1,-10.7 1,-10.6 1,-10.5 1,-10.1 1,-9.6 1,-9 1,-8.4 1,-7.6 1,-7 1,-6.1 1,-5 1,-3.9 1,-3.1 1,-2.4 1,-2.1 1,-2 1,-2.1 1,-2.4 1,-2.8 1,-3.3 1,-3.7 1,-4 1,-4.4 1.1,-4.5 1,-4.9 1,-5.2 1,-5.4 1,-5.5 1,-5.4 1,-5.1 1,-4.6 1,-3.8 1,-2.9 1,-1.8 1,-0.4 1 1 1 2.7 1 4.4 1 6.3 1 8.2 1 10.1 1 11.9 1 13.4 1 15 1 16.3 1 17.3 1 18.2 1 18.8 1 19.2 1 19.4 1 19.2 1 19 1 18.5 1 17.9 1 17.1 1 16.2 1 15.2 1 14.2 1 13.1 1 12.1 1.1 10.9 1 9.8 1 8.9 1 7.8 1 6.9 1 6 1 5.2 1 4.4 1 3.8 1 3.2 1 2.6 1 2.2 1 1.7 1 1.3 1 1 1 0.7 1 0.4 1 0.2 1,-0.1 1,-0.2 1,-0.5 1,-0.6 1,-0.7 1,-1 1,-1.1 1,-1.2 1,-1.5 1,-1.6 1,-1.7 1,-2 1,-2.1 1,-2.4 1,-2.5 1,-2.8 1,-2.9 1,-3.2 1,-3.4 1.1,-3.6 1,-3.9 1,-4.1 1,-4.3 1,-4.5 1,-4.8 1,-4.9 1,-5.2 1,-5.4 1,-5.6 1,-5.7 1,-5.9 1,-6 1,-6.1 1,-6.2 1,-6.3 1,-6.3 1,-6.3 1,-6.3 1,-6.2 1,-6.1 1,-6 1,-5.9 1,-5.6 1,-5.5 1,-5.1 1,-4.9 1,-4.6 1,-4.2 1,-3.9 1,-3.4 1,-3.1 1,-2.7 1,-2.2 1,-1.8 1,-1.4 1.1,-0.9 1,-0.4 1 0.3 1 1.2 1 1.9 1 2.5 1 3.1 1 3.6 1 3.9 1 4.2 1 4.4 1 4.4 1 4.3 1 4.2 1 3.9 1 3.5 1 3 1 2.5 1 1.9 1 1.2 1 0.6 1,-0.2 1,-0.9 1,-1.5 1,-2.3 1,-2.9 1,-3.6 1,-4.1 1,-4.6 1,-5.1 1,-5.5 1,-5.9 1,-6.2 1,-6.5 1,-6.8 1,-6.9 1,-7.1 1.1,-6.8 1,-6.4 1,-6.1 1,-5.8 1,-5.8 1,-5.7 1,-5.8 1,-6.1 1,-6.4 1,-6.8 1,-7.2 1,-7.7 1,-8.1 1,-8.4 1,-8.8 1,-8.8 1,-8.9 1,-8.7 1,-8.3 1,-7.7 1,-7 1,-6.1 1,-4.9 1,-3.7 1,-2.2 1,-0.8 1 1 1 3.1 1 5.3 1 7.4 1 9.4 1 11.2 1 12.9 1 14.4 1 15.6 1 16.6 1 17.3 1.1 17.8 1 18.1 1 18.1 1 18 1 17.6 1 17.1 1 16.4 1 15.6 1 14.8 1 13.8 1 12.8 1 11.9 1 10.8 1 9.8 1 8.9 1 8 1 7.1 1 6.4 1 5.5 1 4.9 1 4.3 1 3.7 1 3.3 1 2.8 1 2.4 1 2.1 1 1.8 1 1.6 1 1.3 1 1.2 1 1 1 0.9 1 0.7 1 0.7 1 0.6 1 0.5" stroke="#bf9878"/>
<path d="M107.6,518.6l2 11.2 2,-19.6 2 20.8 2,-20.9 2 25.8 2.1,-22.2 2 9.2 2,-7.6 2 5.7 2,-12.5 2 2.2 2,-6.7 2 2.5 2,-4 2 7.9 2,-18.5 2,-0.1 2,-19 2,-6.6 2,-29.5 2,-7.4 2,-34 2,-23.6 2.1,-41.7 2,-15.3 2,-25.5 2,-5.9 2,-22.9 2,-2 2,-13.8 2 12.7 2,-2.4 2 27.4 2 0.8 2 26.9 2 19.1 2 39.4 2 5.4 2 29 2 25.5 2 31.5 2 6.9 2.1 28.5 2,-2.6 2 16.8 2,-2.1 2 0.9 2,-0.4 2 13.2 2,-9.5 2 10.6 2,-1.8 2 1.2 2,-8.8 2 5.2 2,-8.4 2 2.3 2,-9.6 2 2.1 2,-11.6 2.1 4.4 2,-15 2,-0.6 2,-10.3 2 1.1 2,-17.4 2 1.8 2,-19.4 2,-3.3 2,-15.6 2 1.9 2,-7.3 2,-4.5 2,-8.5 2,-5.2 2,-11.1 2 11.3 2,-14.8 2.1 13.7 2,-2.6 2 20.7 2,-12.2 2 7.8 2 10.2 2 7.5 2 1.9 2 1.6 2 1.1 2 4.1 2,-14.1 2 7.8 2,-19.5 2 17.6 2,-14.2 2,-6.1 2,-16.4 2 0.4 2.1,-26.8 2,-4.9 2,-27.4 2,-6.6 2,-28.5 2,-8.5 2,-45 2,-6.3 2,-13.6 2,-17.7 2,-25.2 2,-3.3 2,-12.5 2,-2.4 2,-9.1 2 7 2,-20.2 2 3.6 2.1,-21.2 2,-4.4 2,-18.4 2 7.8 2,-18 2 11 2,-6.5 2 25 2 2 2 36.6 2 26.6 2 30.7 2 31.3 2 50.9 2 20.8 2 47.7 2 25.9 2 42.9 2.1 5.2 2 29.4 2 1.2 2 17.9 2 2.1 2 20.9 2,-0.6 2 2.1 2 6.2 2,-4.6 2,-0.4 2 0 2,-7.7 2 0.5 2,-9 2 1.8 2,-10.4 2 1.5 2,-15.1 2.1 0.6 2,-18.3 2 0.9 2,-15.5 2,-2.4 2,-27.1 2 2.8 2,-25.3 2,-0.6 2,-20.8 2,-1.5 2,-25.8 2 0.6 2,-20.9 2 7.9 2,-22.4 2,-0.9 2,-19.8 2.1 21.9 2,-10.2 2 21.6 2,-9.1 2 21.3 2,-14.1 2 13 2,-2.1 2 15.3 2,-7.2 2 15.3 2,-16.8 2 6.4 2,-13.3 2 7.9 2,-16.8 2 6.6 2,-14.1 2.1 0.3 2,-32.5 2,-2.4 2,-25.2 2,-3 2,-32.1 2 1.1 2,-30.3 2,-5.2 2,-25.4 2 0.7 2,-35.9 2 1.9 2,-22 2 28.8 2 8.2 2 36 2 21.1 2 52.9 2.1 21.9 2 45.5 2 30.5 2 22.8 2 23.2 2 32.1 2 8.2 2 26.5 2 7.9 2 23.2 2 2.3 2 13.2 2 0.2 2 10.4 2,-5.1 2 20.5 2,-13.7 2 6.3" stroke="#f02832" stroke-width="1.4" stroke-linejoin="round"/>
<rect x="63.5" y="30" width="551.5" height="506.4" stroke="#aaaaaa" stroke-width="1.7"/>
<path d="M59.5,531.9h4M56.5,520.4h7M59.5,508.9h4M59.5,497.3h4M59.5,485.8h4M59.5,474.3h4M56.5,462.8h7M59.5,451.2h4M59.5,439.7h4M59.5,428.2h4M59.5,416.6h4M56.5,405.1h7M59.5,393.6h4M59.5,382h4M59.5,370.5h4M59.5,359h4M56.5,347.4h7M59.5,335.9h4M59.5,324.4h4M59.5,312.9h4M59.5,301.3h4M56.5,289.8h7M59.5,278.3h4M59.5,266.7h4M59.5,255.2h4M59.5,243.7h4M56.5,232.1h7M59.5,220.6h4M59.5,209.1h4M59.5,197.6h4M59.5,186h4M56.5,174.5h7M59.5,163h4M59.5,151.4h4M59.5,139.9h4M59.5,128.4h4M56.5,116.9h7M59.5,105.3h4M59.5,93.8h4M59.5,82.3h4M59.5,70.7h4M56.5,59.2h7M59.5,47.7h4M59.5,36.1h4M615,536.4v10M605,536.4v6M594.9,536.4v6M584.9,536.4v6M574.9,536.4v6M564.9,536.4v6M554.8,536.4v6M544.8,536.4v6M534.8,536.4v6M524.8,536.4v6M514.7,536.4v10M504.7,536.4v6M494.7,536.4v6M484.6,536.4v6M474.6,536.4v6M464.6,536.4v6M454.6,536.4v6M444.5,536.4v6M434.5,536.4v6M424.5,536.4v6M414.5,536.4v10M404.4,536.4v6M394.4,536.4v6M384.4,536.4v6M374.3,536.4v6M364.3,536.4v6M354.3,536.4v6M344.3,536.4v6M334.2,536.4v6M324.2,536.4v6M314.2,536.4v10M304.2,536.4v6M294.1,536.4v6M284.1,536.4v6M274.1,536.4v6M264,536.4v6M254,536.4v6M244,536.4v6M234,536.4v6M223.9,536.4v6M213.9,536.4v10M203.9,536.4v6M193.9,536.4v6M183.8,536.4v6M173.8,536.4v6M163.8,536.4v6M153.7,536.4v6M143.7,536.4v6M133.7,536.4v6M123.7,536.4v6M113.6,536.4v10M103.6,536.4v6M93.6,536.4v6M83.6,536.4v6M73.5,536.4v6M63.5,536.4v6" stroke="#8c8c8c" stroke-width="1.2"/>
<text x="55" y="519.4" text-anchor="end" class="t">0</text>
<text x="55" y="461.8" text-anchor="end" class="t">5</text>
<text x="55" y="404.1" text-anchor="end" class="t">10</text>
<text x="55" y="346.4" text-anchor="end" class="t">15</text>
<text x="55" y="288.8" text-anchor="end" class="t">20</text>
<text x="55" y="231.1" text-anchor="end" class="t">25</text>
<text x="55" y="173.5" text-anchor="end" class="t">30</text>
<text x="55" y="115.9" text-anchor="end" class="t">35</text>
<text x="55" y="58.2" text-anchor="end" class="t">40</text>
<text x="112.6" y="560.9" text-anchor="middle" class="t">920</text>
<text x="212.9" y="560.9" text-anchor="middle" class="t">910</text>
<text x="313.2" y="560.9" text-anchor="middle" class="t">900</text>
<text x="413.5" y="560.9" text-anchor="middle" class="t">890</text>
<text x="513.7" y="560.9" text-anchor="middle" class="t">880</text>
<text x="614" y="560.9" text-anchor="middle" class="t">870</text>
<text x="337.8" y="578.5" text-anchor="middle" class="a">Binding Energy (eV)</text>
<text x="29.5" y="282" text-anchor="middle" class="a" transform="rotate(-90 29.5 282)">CPS</text>
<text x="62" y="27.2" class="t">x 10<tspan dx="-0.5" dy="-9">2</tspan></text>
<path d="M702.1,507H1255.1" stroke="#e07878" stroke-width="2.2"/>
<path d="M712.2,506.7l1 0 1 0 1 0 1 0 1,-0.1 1 0 1 0 1 0 1 0 1 0 1 0 1 0 1 0 1 0 1,-0.1 1 0 1 0 1.1 0 1 0 1 0 1,-0.1 1 0 1 0 1,-0.1 1 0 1,-0.1 1 0 1,-0.1 1,-0.1 1 0 1,-0.2 1,-0.1 1,-0.1 1,-0.2 1,-0.2 1.1,-0.2 1,-0.2 1,-0.3 1,-0.4 1,-0.4 1,-0.4 1,-0.5 1,-0.6 1,-0.7 1,-0.8 1,-0.8 1,-1 1,-1.1 1,-1.2 1,-1.4 1,-1.6 1,-1.7 1,-1.9 1,-2.1 1.1,-2.3 1,-2.6 1,-2.7 1,-3.1 1,-3.3 1,-3.5 1,-3.8 1,-4.1 1,-4.4 1,-4.7 1,-5 1,-5.2 1,-5.5 1,-5.8 1,-6 1,-6.3 1,-6.4 1,-6.7 1.1,-6.8 1,-7 1,-7 1,-7.1 1,-7.2 1,-7.1 1,-7 1,-6.9 1,-6.8 1,-6.6 1,-6.3 1,-5.9 1,-5.7 1,-5.2 1,-4.8 1,-4.3 1,-3.8 1,-3.2 1.1,-2.6 1,-2 1,-1.4 1,-0.7 1 0 1 0.5 1 1.3 1 1.9 1 2.5 1 3 1 3.7 1 4.2 1 4.7 1 5.1 1 5.6 1 5.9 1 6.3 1 6.5 1 6.7 1.1 6.9 1 7 1 7.1 1 7.2 1 7.1 1 7 1 7 1 6.9 1 6.7 1 6.5 1 6.3 1 6 1 5.9 1 5.5 1 5.3 1 5 1 4.8 1 4.4 1.1 4.2 1 3.9 1 3.6 1 3.3 1 3.1 1 2.8 1 2.6 1 2.3 1 2.2 1 1.9 1 1.8 1 1.6 1 1.4 1 1.3 1 1.1 1 1 1 0.9 1 0.8 1.1 0.6 1 0.7 1 0.5 1 0.4 1 0.5 1 0.3 1 0.3 1 0.3 1 0.2 1 0.2 1 0.2 1 0.1 1 0.1 1 0.1 1 0.1 1 0.1 1 0.1 1 0 1 0.1 1.1 0 1 0.1 1 0 1 0 1 0 1 0.1 1 0 1 0 1 0 1 0 1 0.1 1 0 1 0 1 0 1 0 1 0 1 0 1 0 1.1 0 1 0 1 0.1 1 0 1 0 1 0 1 0 1 0 1 0 1 0 1 0 1 0 1 0 1 0 1 0 1 0 1 0 1 0 1.1 0 1 0.1 1 0 1 0 1 0 1 0 1 0 1 0 1 0 1 0 1 0 1 0 1 0 1 0 1 0 1 0 1 0 1 0 1 0 1.1 0 1 0 1 0 1 0 1 0 1 0 1 0 1 0 1 0 1 0 1 0 1 0 1 0 1 0 1 0 1 0.1 1 0 1 0 1.1 0 1 0 1 0 1 0 1 0 1 0 1 0 1 0 1 0 1 0 1 0 1 0 1 0 1 0 1 0 1 0 1 0 1 0 1.1 0 1 0 1 0 1 0 1 0 1 0 1 0 1 0 1 0 1 0 1 0 1 0 1 0 1 0 1 0 1 0 1 0 1 0 1 0 1.1 0 1 0 1 0 1 0 1 0 1 0 1 0 1 0 1 0 1 0 1 0 1 0 1 0 1 0 1 0 1 0 1 0 1 0 1.1 0 1 0 1 0 1 0 1 0 1 0 1 0 1 0 1 0 1 0 1 0 1 0 1 0 1 0 1 0 1 0 1 0 1 0 1.1 0 1 0 1 0 1 0 1 0 1 0 1 0 1 0 1 0 1 0 1 0 1 0 1 0 1 0 1 0 1 0 1 0 1 0 1 0 1.1 0 1 0 1 0 1 0 1 0 1 0 1 0 1 0 1 0 1 0.1 1 0 1 0 1 0 1 0 1 0 1 0 1 0 1 0 1.1 0 1 0 1 0 1 0 1 0 1 0 1 0 1 0 1 0 1 0 1 0 1 0 1 0 1 0 1 0 1 0 1 0 1 0 1.1 0 1 0 1 0 1 0 1 0 1 0 1 0 1 0 1 0 1 0 1 0 1 0 1 0 1 0 1 0 1 0 1 0 1 0 1 0 1.1 0 1 0 1 0 1 0 1 0 1 0 1 0 1 0 1 0 1 0 1 0 1 0 1 0 1 0 1 0 1 0 1 0 1 0 1.1 0 1 0 1 0 1 0 1 0 1 0 1 0 1 0 1 0 1 0 1 0 1 0 1 0 1 0 1 0 1 0 1 0 1 0 1.1 0 1 0 1 0 1 0 1 0 1 0 1 0 1 0 1 0 1 0 1 0 1 0 1 0 1 0 1 0 1 0 1 0 1 0 1 0 1.1 0 1 0 1 0 1 0 1 0 1 0 1 0 1 0 1 0 1 0 1 0 1 0 1 0 1 0 1 0 1 0 1 0 1 0 1.1 0 1 0 1 0 1 0 1 0 1 0 1 0 1 0 1 0 1 0 1 0 1 0 1 0 1 0 1 0 1 0 1 0 1 0 1.1 0 1 0 1 0 1 0 1 0" stroke="#98b2de"/>
<path d="M712.2,506.9l1 0 1 0 1 0 1 0 1 0 1 0 1 0 1 0 1 0 1 0 1 0 1 0 1 0 1 0 1 0 1 0 1 0 1.1 0 1 0 1 0 1 0 1 0 1 0 1 0 1 0 1 0 1 0 1 0 1 0 1 0 1 0 1 0 1 0 1 0 1 0 1.1 0 1 0 1 0 1 0 1 0 1 0 1 0 1 0 1 0 1 0 1 0 1 0 1 0 1 0 1 0 1 0 1 0 1 0 1 0 1.1 0 1 0 1 0 1 0 1 0 1 0 1 0 1 0 1 0 1 0 1 0 1 0 1 0 1 0 1 0 1 0 1 0 1 0 1.1 0 1 0 1 0 1 0 1 0 1 0 1 0 1 0 1,-0.1 1 0 1 0 1 0 1 0 1 0 1 0 1 0 1 0 1 0 1.1 0 1 0 1 0 1 0 1 0 1 0 1 0 1 0 1 0 1 0 1 0 1 0 1 0 1 0 1 0 1,-0.1 1 0 1 0 1 0 1.1 0 1 0 1 0 1 0 1 0 1 0 1 0 1,-0.1 1 0 1 0 1 0 1 0 1 0 1,-0.1 1 0 1,-0.1 1 0 1,-0.1 1.1 0 1,-0.1 1,-0.1 1,-0.1 1,-0.1 1,-0.2 1,-0.1 1,-0.2 1,-0.3 1,-0.2 1,-0.3 1,-0.4 1,-0.4 1,-0.5 1,-0.6 1,-0.6 1,-0.7 1,-0.9 1.1,-0.9 1,-1.1 1,-1.1 1,-1.4 1,-1.5 1,-1.6 1,-1.8 1,-2 1,-2.2 1,-2.5 1,-2.6 1,-2.8 1,-3.1 1,-3.3 1,-3.5 1,-3.8 1,-4 1,-4.2 1,-4.4 1.1,-4.6 1,-4.8 1,-4.9 1,-5.1 1,-5.2 1,-5.2 1,-5.4 1,-5.3 1,-5.3 1,-5.3 1,-5.1 1,-5.1 1,-4.8 1,-4.6 1,-4.3 1,-4.1 1,-3.6 1,-3.3 1.1,-2.9 1,-2.4 1,-2 1,-1.5 1,-0.9 1,-0.4 1 0.1 1 0.5 1 0.9 1 1.4 1 1.8 1 2.2 1 2.5 1 2.9 1 3.3 1 3.5 1 3.8 1 4 1.1 4.3 1 4.4 1 4.6 1 4.7 1 4.8 1 4.8 1 4.8 1 4.9 1 4.8 1 4.8 1 4.6 1 4.6 1 4.5 1 4.3 1 4.2 1 4 1 3.9 1 3.6 1 3.5 1.1 3.3 1 3.1 1 3 1 2.7 1 2.5 1 2.4 1 2.2 1 2 1 1.9 1 1.7 1 1.5 1 1.4 1 1.3 1 1.2 1 1 1 1 1 0.8 1 0.7 1.1 0.7 1 0.6 1 0.5 1 0.5 1 0.4 1 0.4 1 0.3 1 0.2 1 0.3 1 0.2 1 0.2 1 0.1 1 0.2 1 0.1 1 0.1 1 0.1 1 0 1 0.1 1.1 0.1 1 0 1 0.1 1 0 1 0 1 0 1 0.1 1 0 1 0 1 0 1 0 1 0.1 1 0 1 0 1 0 1 0 1 0 1 0 1 0 1.1 0 1 0 1 0 1 0 1 0 1 0.1 1 0 1 0 1 0 1 0 1 0 1 0 1 0 1 0 1 0 1 0 1 0 1 0 1.1 0 1 0 1 0 1 0 1 0 1 0 1 0 1 0 1 0 1 0 1 0 1 0 1 0 1 0 1 0.1 1 0 1 0 1 0 1.1 0 1 0 1 0 1 0 1 0 1 0 1 0 1 0 1 0 1 0 1 0 1 0 1 0 1 0 1 0 1 0 1 0 1 0 1 0 1.1 0 1 0 1 0 1 0 1 0 1 0 1 0 1 0 1 0 1 0 1 0 1 0 1 0 1 0 1 0 1 0 1 0 1 0 1.1 0 1 0 1 0 1 0 1 0 1 0 1 0 1 0 1 0 1 0 1 0 1 0 1 0 1 0 1 0 1 0 1 0 1 0 1.1 0 1 0 1 0 1 0 1 0 1 0 1 0 1 0 1 0 1 0 1 0 1 0 1 0 1 0 1 0 1 0 1 0 1 0 1 0 1.1 0 1 0 1 0 1 0 1 0 1 0 1 0 1 0 1 0 1 0 1 0 1 0 1 0.1 1 0 1 0 1 0 1 0 1 0 1.1 0 1 0 1 0 1 0 1 0 1 0 1 0 1 0 1 0 1 0 1 0 1 0 1 0 1 0 1 0 1 0 1 0 1 0 1.1 0 1 0 1 0 1 0 1 0 1 0 1 0 1 0 1 0 1 0 1 0 1 0 1 0 1 0 1 0 1 0 1 0 1 0 1 0 1.1 0 1 0 1 0 1 0 1 0 1 0 1 0 1 0 1 0 1 0 1 0 1 0 1 0 1 0 1 0 1 0 1 0 1 0 1.1 0 1 0 1 0 1 0 1 0 1 0 1 0 1 0 1 0 1 0 1 0 1 0 1 0 1 0 1 0 1 0 1 0 1 0 1.1 0 1 0 1 0 1 0 1 0" stroke="#98b2de"/>
<path d="M712.2,507l1 0 1 0 1 0 1 0 1 0 1 0 1 0 1 0 1 0 1 0 1 0 1 0 1 0 1 0 1 0 1 0 1 0 1.1 0 1 0 1 0 1 0 1 0 1 0 1 0 1 0 1 0 1 0 1 0 1 0 1 0 1 0 1 0 1 0 1 0 1 0 1.1 0 1 0 1 0 1 0 1 0 1 0 1 0 1 0 1 0 1 0 1 0 1 0 1 0 1 0 1 0 1 0 1 0 1 0 1 0 1.1 0 1 0 1 0 1 0 1 0 1 0 1 0 1 0 1 0 1 0 1 0 1 0 1 0 1 0 1 0 1 0 1 0 1 0 1.1 0 1 0 1 0 1 0 1 0 1 0 1 0 1 0 1 0 1 0 1 0 1 0 1 0 1 0 1 0 1 0 1 0 1 0 1.1 0 1 0 1 0 1 0 1 0 1 0 1 0 1 0 1 0 1 0 1 0 1 0 1 0 1 0 1 0 1 0 1 0 1 0 1 0 1.1 0 1 0 1 0 1 0 1 0 1 0 1 0 1 0 1 0 1 0 1,-0.1 1 0 1 0 1 0 1 0 1 0 1 0 1 0 1.1 0 1 0 1 0 1 0 1 0 1 0 1 0 1 0 1 0 1 0 1 0 1 0 1 0 1 0 1 0 1 0 1 0 1 0 1.1 0 1 0 1 0 1 0 1 0 1 0 1 0 1 0 1 0 1 0 1 0 1 0 1 0 1 0 1 0 1 0 1 0 1 0 1 0 1.1,-0.1 1 0 1 0 1 0 1 0 1 0 1 0 1 0 1 0 1 0 1 0 1 0 1 0 1 0 1,-0.1 1 0 1 0 1 0 1.1 0 1 0 1,-0.1 1 0 1 0 1,-0.1 1,-0.1 1,-0.1 1,-0.1 1,-0.2 1,-0.2 1,-0.4 1,-0.4 1,-0.6 1,-0.7 1,-1 1,-1.2 1,-1.6 1.1,-1.9 1,-2.4 1,-3 1,-3.5 1,-4.1 1,-4.8 1,-5.6 1,-6.3 1,-7.1 1,-7.8 1,-8.4 1,-8.9 1,-9.4 1,-9.6 1,-9.6 1,-9.4 1,-8.9 1,-8.3 1,-7.3 1.1,-6.2 1,-4.8 1,-3.2 1,-1.5 1 0.1 1 1.6 1 3 1 4.3 1 5.4 1 6.5 1 7.4 1 8 1 8.4 1 8.8 1 8.8 1 8.7 1 8.5 1 8.2 1.1 7.7 1 7.2 1 6.5 1 6 1 5.3 1 4.7 1 4.1 1 3.5 1 3 1 2.6 1 2.1 1 1.7 1 1.4 1 1.2 1 0.9 1 0.7 1 0.6 1 0.5 1.1 0.3 1 0.3 1 0.2 1 0.1 1 0.1 1 0.1 1 0.1 1 0 1 0.1 1 0 1 0 1 0.1 1 0 1 0 1 0 1 0 1 0 1 0.1 1 0 1.1 0 1 0 1 0 1 0 1 0 1 0 1 0 1 0 1 0 1 0 1 0 1 0 1 0 1 0.1 1 0 1 0 1 0 1 0 1.1 0 1 0 1 0 1 0 1 0 1 0 1 0 1 0 1 0 1 0 1 0 1 0 1 0 1 0 1 0 1 0 1 0 1 0 1.1 0 1 0 1 0 1 0 1 0 1 0 1 0 1 0 1 0 1 0 1 0 1 0 1 0 1 0 1 0 1 0 1 0 1 0 1 0 1.1 0 1 0 1 0 1 0 1 0 1 0 1 0 1 0.1 1 0 1 0 1 0 1 0 1 0 1 0 1 0 1 0 1 0 1 0 1.1 0 1 0 1 0 1 0 1 0 1 0 1 0 1 0 1 0 1 0 1 0 1 0 1 0 1 0 1 0 1 0 1 0 1 0 1.1 0 1 0 1 0 1 0 1 0 1 0 1 0 1 0 1 0 1 0 1 0 1 0 1 0 1 0 1 0 1 0 1 0 1 0 1 0 1.1 0 1 0 1 0 1 0 1 0 1 0 1 0 1 0 1 0 1 0 1 0 1 0 1 0 1 0 1 0 1 0 1 0 1 0 1.1 0 1 0 1 0 1 0 1 0 1 0 1 0 1 0 1 0 1 0 1 0 1 0 1 0 1 0 1 0 1 0 1 0 1 0 1.1 0 1 0 1 0 1 0 1 0 1 0 1 0 1 0 1 0 1 0 1 0 1 0 1 0 1 0 1 0 1 0 1 0 1 0 1 0 1.1 0 1 0 1 0 1 0 1 0 1 0 1 0 1 0 1 0 1 0 1 0 1 0 1 0 1 0 1 0 1 0 1 0 1 0 1.1 0 1 0 1 0 1 0 1 0 1 0 1 0 1 0 1 0 1 0 1 0 1 0 1 0 1 0 1 0 1 0 1 0 1 0 1.1 0 1 0 1 0 1 0 1 0" stroke="#bab680"/>
<path d="M712.2,507l1 0 1 0 1 0 1 0 1 0 1 0 1 0 1 0 1 0 1 0 1 0 1 0 1 0 1 0 1 0 1 0 1 0 1.1 0 1 0 1 0 1 0 1 0 1 0 1 0 1 0 1 0 1 0 1 0 1 0 1 0 1 0 1 0 1 0 1 0 1 0 1.1 0 1 0 1 0 1 0 1 0 1 0 1 0 1 0 1 0 1 0 1 0 1 0 1 0 1 0 1 0 1 0 1 0 1 0 1 0 1.1 0 1 0 1 0 1 0 1 0 1 0 1 0 1 0 1 0 1 0 1 0 1 0 1 0 1 0 1 0 1 0 1 0 1 0 1.1 0 1 0 1 0 1 0 1 0 1 0 1 0 1 0 1 0 1 0 1 0 1 0 1 0 1 0 1 0 1 0 1 0 1 0 1.1 0 1 0 1 0 1 0 1 0 1 0 1 0 1 0 1 0 1 0 1 0 1 0 1 0 1 0 1 0 1 0 1 0 1 0 1 0 1.1 0 1 0 1 0 1 0 1 0 1 0 1 0 1 0 1 0 1 0 1 0 1 0 1 0 1 0 1 0 1 0 1 0 1 0 1.1 0 1 0 1 0 1 0 1 0 1 0 1 0 1 0 1 0 1 0 1 0 1 0 1 0 1,-0.1 1 0 1 0 1 0 1 0 1.1 0 1 0 1 0 1 0 1 0 1 0 1 0 1 0 1 0 1 0 1 0 1 0 1 0 1 0 1 0 1 0 1 0 1 0 1 0 1.1 0 1 0 1 0 1 0 1 0 1 0 1 0 1 0 1 0 1 0 1 0 1 0 1 0 1 0 1 0 1 0 1 0 1 0 1.1 0 1 0 1 0 1 0 1,-0.1 1 0 1 0 1 0 1 0 1 0 1 0 1 0 1 0 1 0 1 0 1 0 1 0 1 0 1.1 0 1,-0.1 1 0 1 0 1 0 1 0 1 0 1 0 1,-0.1 1 0 1 0 1 0 1 0 1,-0.1 1 0 1,-0.1 1 0 1,-0.1 1,-0.2 1.1,-0.1 1,-0.3 1,-0.3 1,-0.5 1,-0.7 1,-0.9 1,-1.3 1,-1.7 1,-2.2 1,-2.9 1,-3.7 1,-4.6 1,-5.6 1,-6.9 1,-8.2 1,-9.6 1,-10.9 1,-12.3 1.1,-13.6 1,-14.6 1,-15.3 1,-15.7 1,-15.7 1,-15 1,-14 1,-12.4 1,-10.2 1,-7.7 1,-4.8 1,-1.6 1 1.4 1 4 1 6.5 1 8.8 1 10.7 1 12.3 1.1 13.4 1 14.1 1 14.5 1 14.3 1 14.1 1 13.3 1 12.5 1 11.4 1 10.3 1 9.1 1 8 1 6.8 1 5.7 1 4.8 1 3.9 1 3.2 1 2.5 1 2 1 1.6 1.1 1.1 1 0.9 1 0.7 1 0.5 1 0.4 1 0.2 1 0.2 1 0.2 1 0.1 1 0.1 1 0 1 0.1 1 0 1 0.1 1 0 1 0 1 0 1 0 1.1 0.1 1 0 1 0 1 0 1 0 1 0 1 0 1 0 1 0 1 0.1 1 0 1 0 1 0 1 0 1 0 1 0 1 0 1 0 1.1 0 1 0 1 0 1 0 1 0 1 0 1 0.1 1 0 1 0 1 0 1 0 1 0 1 0 1 0 1 0 1 0 1 0 1 0 1 0 1.1 0 1 0 1 0 1 0 1 0 1 0 1 0 1 0 1 0 1 0 1 0 1 0 1 0 1 0 1 0 1 0 1 0 1 0 1.1 0 1 0 1 0 1 0 1 0 1 0 1 0 1 0 1 0 1 0 1 0 1 0 1 0 1 0 1 0 1 0 1 0 1 0 1.1 0 1 0 1 0.1 1 0 1 0 1 0 1 0 1 0 1 0 1 0 1 0 1 0 1 0 1 0 1 0 1 0 1 0 1 0 1 0 1.1 0 1 0 1 0 1 0 1 0 1 0 1 0 1 0 1 0 1 0 1 0 1 0 1 0 1 0 1 0 1 0 1 0 1 0 1.1 0 1 0 1 0 1 0 1 0 1 0 1 0 1 0 1 0 1 0 1 0 1 0 1 0 1 0 1 0 1 0 1 0 1 0 1.1 0 1 0 1 0 1 0 1 0 1 0 1 0 1 0 1 0 1 0 1 0 1 0 1 0 1 0 1 0 1 0 1 0 1 0 1 0 1.1 0 1 0 1 0 1 0 1 0 1 0 1 0 1 0 1 0 1 0 1 0 1 0 1 0 1 0 1 0 1 0 1 0 1 0 1.1 0 1 0 1 0 1 0 1 0 1 0 1 0 1 0 1 0 1 0 1 0 1 0 1 0 1 0 1 0 1 0 1 0 1 0 1.1 0 1 0 1 0 1 0 1 0" stroke="#98b2de"/>
<path d="M712.2,507l1 0 1 0 1 0 1 0 1 0 1 0 1 0 1 0 1 0 1 0 1 0 1 0 1 0 1 0 1 0 1 0 1 0 1.1 0 1 0 1 0 1 0 1 0 1 0 1 0 1 0 1 0 1 0 1 0 1 0 1 0 1 0 1 0 1 0 1 0 1 0 1.1 0 1 0 1 0 1 0 1 0 1 0 1 0 1 0 1 0 1 0 1 0 1 0 1 0 1 0 1 0 1 0 1 0 1 0 1 0 1.1 0 1 0 1 0 1 0 1 0 1 0 1 0 1 0 1 0 1 0 1 0 1 0 1 0 1 0 1 0 1 0 1 0 1 0 1.1 0 1 0 1 0 1 0 1 0 1 0 1 0 1 0 1 0 1 0 1 0 1 0 1 0 1 0 1 0 1 0 1 0 1 0 1.1 0 1 0 1 0 1 0 1 0 1 0 1 0 1 0 1 0 1 0 1 0 1 0 1 0 1 0 1 0 1 0 1 0 1 0 1 0 1.1 0 1 0 1 0 1 0 1 0 1 0 1 0 1 0 1 0 1 0 1 0 1 0 1 0 1 0 1 0 1 0 1 0 1 0 1.1 0 1 0 1 0 1 0 1 0 1 0 1 0 1 0 1 0 1 0 1 0 1 0 1 0 1 0 1 0 1 0 1 0 1 0 1.1 0 1 0 1 0 1 0 1 0 1 0 1 0 1 0 1 0 1 0 1 0 1 0 1 0 1 0 1 0 1 0 1 0 1 0 1 0 1.1 0 1 0 1 0 1 0 1 0 1 0 1 0 1,-0.1 1 0 1 0 1 0 1 0 1 0 1 0 1 0 1 0 1 0 1 0 1.1 0 1 0 1 0 1 0 1 0 1 0 1 0 1 0 1 0 1 0 1 0 1 0 1 0 1 0 1 0 1 0 1 0 1 0 1.1 0 1 0 1 0 1 0 1 0 1 0 1 0 1 0 1 0 1 0 1 0 1,-0.1 1 0 1 0 1 0 1 0 1 0 1 0 1 0 1.1 0 1,-0.1 1 0 1 0 1,-0.1 1 0 1,-0.1 1,-0.1 1,-0.1 1,-0.1 1,-0.2 1,-0.2 1,-0.3 1,-0.4 1,-0.4 1,-0.6 1,-0.7 1,-0.8 1.1,-1 1,-1.2 1,-1.4 1,-1.6 1,-1.9 1,-2.2 1,-2.5 1,-2.7 1,-3.1 1,-3.5 1,-3.7 1,-4 1,-4.2 1,-4.5 1,-4.6 1,-4.8 1,-4.8 1,-4.7 1.1,-4.6 1,-4.4 1,-4 1,-3.7 1,-3.2 1,-2.7 1,-2 1,-1.4 1,-0.6 1 0.1 1 0.7 1 1.5 1 2.2 1 2.8 1 3.3 1 3.7 1 4.2 1 4.4 1 4.7 1.1 4.7 1 4.8 1 4.7 1 4.6 1 4.4 1 4.2 1 4 1 3.7 1 3.3 1 3 1 2.8 1 2.4 1 2.1 1 1.8 1 1.6 1 1.4 1 1.1 1 1 1.1 0.8 1 0.6 1 0.6 1 0.4 1 0.4 1 0.2 1 0.2 1 0.2 1 0.2 1 0.1 1 0 1 0.1 1 0.1 1 0 1 0 1 0.1 1 0 1 0 1.1 0 1 0 1 0 1 0 1 0 1 0 1 0 1 0.1 1 0 1 0 1 0 1 0 1 0 1 0 1 0 1 0 1 0 1 0 1 0 1.1 0 1 0 1 0 1 0 1 0 1 0 1 0 1 0 1 0 1 0 1 0 1 0 1 0 1 0 1 0 1 0 1 0 1 0 1.1 0 1 0 1 0 1 0 1 0 1 0 1 0 1 0 1 0 1 0 1 0.1 1 0 1 0 1 0 1 0 1 0 1 0 1 0 1.1 0 1 0 1 0 1 0 1 0 1 0 1 0 1 0 1 0 1 0 1 0 1 0 1 0 1 0 1 0 1 0 1 0 1 0 1 0 1.1 0 1 0 1 0 1 0 1 0 1 0 1 0 1 0 1 0 1 0 1 0 1 0 1 0 1 0 1 0 1 0 1 0 1 0 1.1 0 1 0 1 0 1 0 1 0 1 0 1 0 1 0 1 0 1 0 1 0 1 0 1 0 1 0 1 0 1 0 1 0 1 0 1.1 0 1 0 1 0 1 0 1 0 1 0 1 0 1 0 1 0 1 0 1 0 1 0 1 0 1 0 1 0 1 0 1 0 1 0 1 0 1.1 0 1 0 1 0 1 0 1 0 1 0 1 0 1 0 1 0 1 0 1 0 1 0 1 0 1 0 1 0 1 0 1 0 1 0 1.1 0 1 0 1 0 1 0 1 0 1 0 1 0 1 0 1 0 1 0 1 0 1 0 1 0 1 0 1 0 1 0 1 0 1 0 1.1 0 1 0 1 0 1 0 1 0" stroke="#bab680"/>
<path d="M712.2,507l1 0 1 0 1 0 1 0 1 0 1 0 1 0 1 0 1 0 1 0 1 0 1 0 1 0 1 0 1 0 1 0 1 0 1.1 0 1 0 1 0 1 0 1 0 1 0 1 0 1 0 1 0 1 0 1 0 1 0 1 0 1 0 1 0 1 0 1 0 1 0 1.1 0 1 0 1 0 1 0 1,-0.1 1 0 1 0 1 0 1 0 1 0 1 0 1 0 1 0 1 0 1 0 1 0 1 0 1 0 1 0 1.1 0 1 0 1 0 1 0 1 0 1 0 1 0 1 0 1 0 1 0 1 0 1 0 1 0 1 0 1 0 1 0 1 0 1 0 1.1 0 1 0 1 0 1 0 1 0 1 0 1 0 1 0 1 0 1 0 1 0 1 0 1 0 1 0 1 0 1 0 1 0 1 0 1.1 0 1 0 1 0 1 0 1 0 1 0 1 0 1 0 1 0 1 0 1 0 1 0 1 0 1 0 1 0 1 0 1 0 1 0 1 0 1.1 0 1 0 1 0 1 0 1 0 1 0 1 0 1 0 1 0 1 0 1 0 1 0 1 0 1 0 1 0 1 0 1 0 1 0 1.1 0 1 0 1 0 1 0 1 0 1 0 1 0 1 0 1 0 1 0 1 0 1 0 1 0 1,-0.1 1 0 1 0 1 0 1 0 1.1 0 1 0 1 0 1 0 1 0 1 0 1 0 1 0 1 0 1 0 1 0 1 0 1 0 1 0 1 0 1 0 1 0 1 0 1 0 1.1 0 1 0 1 0 1 0 1 0 1 0 1 0 1,-0.1 1 0 1 0 1 0 1 0 1 0 1 0 1 0 1 0 1 0 1 0 1.1 0 1 0 1 0 1 0 1 0 1 0 1,-0.1 1 0 1 0 1 0 1 0 1 0 1 0 1 0 1 0 1 0 1 0 1,-0.1 1.1 0 1 0 1 0 1 0 1 0 1 0 1 0 1,-0.1 1 0 1 0 1 0 1 0 1,-0.1 1 0 1 0 1 0 1,-0.1 1 0 1,-0.1 1.1 0 1,-0.1 1,-0.1 1,-0.1 1,-0.1 1,-0.1 1,-0.2 1,-0.2 1,-0.2 1,-0.3 1,-0.3 1,-0.4 1,-0.5 1,-0.6 1,-0.8 1,-0.8 1,-1.1 1,-1.2 1.1,-1.4 1,-1.7 1,-1.9 1,-2.3 1,-2.6 1,-3 1,-3.5 1,-3.9 1,-4.4 1,-5 1,-5.5 1,-6.2 1,-6.8 1,-7.4 1,-8.2 1,-8.9 1,-9.5 1,-10.2 1.1,-10.9 1,-11.5 1,-12.1 1,-12.6 1,-13 1,-13.4 1,-13.6 1,-13.7 1,-13.7 1,-13.6 1,-13.3 1,-12.8 1,-12.3 1,-11.6 1,-10.6 1,-9.7 1,-8.5 1,-7.2 1,-5.9 1.1,-4.4 1,-2.8 1,-1.3 1 0.4 1 2.1 1 3.9 1 5.6 1 7.2 1 8.7 1 10 1 11.2 1 12.2 1 13 1 13.7 1 14.2 1 14.5 1 14.5 1 14.6 1.1 14.4 1 14 1 13.6 1 13.1 1 12.5 1 11.8 1 11.1 1 10.3 1 9.5 1 8.7 1 8 1 7.2 1 6.5 1 5.8 1 5.1 1 4.5 1 4 1 3.5 1.1 2.9 1 2.6 1 2.2 1 1.9 1 1.6 1 1.3 1 1.1 1 1 1 0.8 1 0.6 1 0.5 1 0.5 1 0.3 1 0.3 1 0.2 1 0.2 1 0.2 1 0.1 1 0.1 1.1 0.1 1 0.1 1 0 1 0.1 1 0 1 0.1 1 0 1 0 1 0 1 0.1 1 0 1 0 1 0 1 0 1 0.1 1 0 1 0 1 0 1.1 0 1 0 1 0 1 0.1 1 0 1 0 1 0 1 0 1 0 1 0 1 0 1 0 1 0 1 0.1 1 0 1 0 1 0 1 0 1.1 0 1 0 1 0 1 0 1 0 1 0 1 0 1 0 1 0 1 0 1 0 1 0.1 1 0 1 0 1 0 1 0 1 0 1 0 1 0 1.1 0 1 0 1 0 1 0 1 0 1 0 1 0 1 0 1 0 1 0 1 0 1 0 1 0 1 0 1 0 1 0 1 0 1 0 1.1 0 1 0 1 0 1 0 1 0.1 1 0 1 0 1 0 1 0 1 0 1 0 1 0 1 0 1 0 1 0 1 0 1 0 1 0 1.1 0 1 0 1 0 1 0 1 0 1 0 1 0 1 0 1 0 1 0 1 0 1 0 1 0 1 0 1 0 1 0 1 0 1 0 1 0 1.1 0 1 0 1 0 1 0 1 0 1 0 1 0 1 0 1 0 1 0 1 0 1 0 1 0 1 0 1 0 1 0 1 0 1 0 1.1 0 1 0 1 0 1 0 1 0 1 0 1 0 1 0 1 0 1 0 1 0 1 0 1 0 1 0 1 0 1 0 1 0 1 0 1.1 0 1 0 1 0 1 0 1 0" stroke="#98b2de"/>
<path d="M712.2,507l1 0 1 0 1 0 1 0 1 0 1 0 1 0 1 0 1 0 1 0 1 0 1 0 1 0 1 0 1 0 1 0 1 0 1.1 0 1 0 1 0 1 0 1 0 1 0 1 0 1 0 1 0 1 0 1 0 1 0 1 0 1 0 1 0 1 0 1 0 1 0 1.1 0 1 0 1 0 1 0 1 0 1 0 1 0 1 0 1 0 1 0 1 0 1 0 1 0 1 0 1 0 1 0 1 0 1 0 1 0 1.1 0 1 0 1 0 1 0 1 0 1 0 1 0 1 0 1 0 1 0 1 0 1 0 1 0 1 0 1 0 1 0 1 0 1 0 1.1 0 1 0 1 0 1 0 1 0 1 0 1 0 1 0 1 0 1 0 1 0 1 0 1 0 1 0 1 0 1 0 1 0 1 0 1.1 0 1 0 1 0 1 0 1 0 1 0 1 0 1 0 1 0 1 0 1 0 1 0 1 0 1 0 1 0 1 0 1,-0.1 1 0 1 0 1.1 0 1 0 1 0 1 0 1 0 1 0 1 0 1 0 1 0 1 0 1 0 1 0 1 0 1 0 1 0 1 0 1 0 1 0 1.1 0 1 0 1 0 1 0 1 0 1 0 1 0 1 0 1 0 1 0 1 0 1 0 1 0 1 0 1 0 1 0 1 0 1 0 1.1 0 1 0 1 0 1 0 1 0 1 0 1 0 1 0 1 0 1 0 1 0 1 0 1 0 1 0 1 0 1 0 1 0 1 0 1 0 1.1 0 1 0 1 0 1 0 1 0 1 0 1 0 1 0 1 0 1 0 1 0 1 0 1 0 1 0 1 0 1 0 1 0 1 0 1.1 0 1 0 1 0 1 0 1 0 1 0 1 0 1 0 1 0 1 0 1 0 1 0 1 0 1 0 1 0 1 0 1 0 1 0 1.1 0 1 0 1 0 1 0 1 0 1 0 1 0 1 0 1 0 1 0 1 0 1 0 1 0 1 0 1 0 1 0 1 0 1 0 1 0 1.1 0 1 0 1,-0.1 1 0 1 0 1 0 1 0 1 0 1 0 1 0 1 0 1 0 1 0 1 0 1 0 1 0 1 0 1 0 1.1 0 1 0 1 0 1 0 1 0 1 0 1 0 1 0 1 0 1 0 1 0 1 0 1 0 1 0 1 0 1 0 1 0 1 0 1.1 0 1,-0.1 1 0 1 0 1 0 1 0 1 0 1 0 1 0 1 0 1 0 1 0 1 0 1 0 1 0 1 0 1 0 1 0 1 0 1.1 0 1,-0.1 1 0 1 0 1 0 1 0 1 0 1 0 1 0 1 0 1 0 1 0 1 0 1,-0.1 1 0 1 0 1 0 1 0 1.1 0 1,-0.1 1 0 1 0 1 0 1,-0.1 1 0 1 0 1,-0.1 1 0 1,-0.1 1,-0.1 1 0 1,-0.1 1,-0.1 1,-0.2 1,-0.1 1,-0.2 1.1,-0.2 1,-0.2 1,-0.2 1,-0.3 1,-0.3 1,-0.4 1,-0.4 1,-0.4 1,-0.6 1,-0.6 1,-0.7 1,-0.7 1,-0.9 1,-0.9 1,-1.1 1,-1.2 1,-1.3 1,-1.5 1,-1.6 1.1,-1.8 1,-1.9 1,-2.1 1,-2.4 1,-2.5 1,-2.7 1,-3 1,-3.2 1,-3.4 1,-3.7 1,-4 1,-4.1 1,-4.5 1,-4.7 1,-4.9 1,-5.2 1,-5.4 1,-5.7 1.1,-5.9 1,-6.1 1,-6.2 1,-6.5 1,-6.5 1,-6.7 1,-6.8 1,-6.9 1,-6.9 1,-6.8 1,-6.9 1,-6.7 1,-6.6 1,-6.5 1,-6.3 1,-6 1,-5.7 1,-5.5 1.1,-5 1,-4.7 1,-4.2 1,-3.8 1,-3.3 1,-2.8 1,-2.2 1,-1.7 1,-1.1 1,-0.5 1 0.1 1 1.3 1 2.4 1 3.5 1 4.6 1 5.5 1 6.4 1 7.2 1 7.9 1.1 8.4 1 9 1 9.2 1 9.6 1 9.6 1 9.7 1 9.6 1 9.5 1 9.2 1 9 1 8.5 1 8.2 1 7.7 1 7.2 1 6.8 1 6.2 1 5.7 1 5.3 1.1 4.7 1 4.3 1 3.8 1 3.4 1 3.1 1 2.6 1 2.3 1 2.1 1 1.7 1 1.5 1 1.3 1 1.1 1 1 1 0.8 1 0.6 1 0.6 1 0.4 1 0.4 1.1 0.3 1 0.3 1 0.2 1 0.2 1 0.1 1 0.1 1 0.1 1 0.1 1 0.1 1 0 1 0.1 1 0 1 0 1 0.1 1 0 1 0 1 0 1 0.1 1 0 1.1 0 1 0 1 0 1 0 1 0 1 0 1 0 1 0.1 1 0 1 0 1 0 1 0 1 0 1 0 1 0 1 0 1 0 1 0 1.1 0 1 0 1 0.1 1 0 1 0 1 0 1 0 1 0 1 0 1 0 1 0 1 0 1 0 1 0 1 0 1 0 1 0 1 0 1.1 0 1 0 1 0 1 0 1 0" stroke="#98b2de"/>
<path d="M712.2,507l1 0 1 0 1 0 1 0 1 0 1 0 1 0 1 0 1 0 1 0 1 0 1 0 1 0 1 0 1 0 1 0 1 0 1.1 0 1 0 1 0 1 0 1 0 1 0 1 0 1 0 1 0 1 0 1 0 1 0 1 0 1 0 1 0 1 0 1 0 1 0 1.1 0 1 0 1 0 1 0 1 0 1 0 1 0 1 0 1 0 1 0 1 0 1 0 1 0 1 0 1 0 1 0 1 0 1 0 1 0 1.1 0 1 0 1 0 1 0 1 0 1 0 1 0 1 0 1 0 1 0 1 0 1 0 1 0 1 0 1 0 1 0 1 0 1 0 1.1 0 1 0 1 0 1 0 1 0 1 0 1 0 1 0 1 0 1 0 1 0 1 0 1 0 1 0 1 0 1 0 1 0 1 0 1.1 0 1 0 1 0 1 0 1 0 1 0 1 0 1 0 1 0 1 0 1 0 1 0 1 0 1 0 1 0 1 0 1 0 1 0 1 0 1.1 0 1 0 1 0 1 0 1 0 1 0 1 0 1 0 1 0 1 0 1 0 1 0 1 0 1 0 1 0 1 0 1 0 1 0 1.1 0 1 0 1 0 1 0 1 0 1 0 1 0 1 0 1 0 1 0 1 0 1 0 1 0 1 0 1 0 1 0 1 0 1 0 1.1 0 1 0 1 0 1 0 1 0 1 0 1 0 1 0 1 0 1 0 1 0 1 0 1 0 1 0 1 0 1 0 1 0 1 0 1 0 1.1 0 1 0 1 0 1 0 1 0 1 0 1 0 1 0 1 0 1 0 1 0 1 0 1 0 1 0 1 0 1 0 1 0 1 0 1.1 0 1 0 1 0 1 0 1 0 1 0 1 0 1 0 1 0 1 0 1 0 1 0 1 0 1 0 1 0 1 0 1 0 1 0 1.1 0 1 0 1 0 1 0 1 0 1 0 1 0 1 0 1 0 1 0 1 0 1 0 1 0 1 0 1 0 1 0 1 0 1 0 1 0 1.1 0 1 0 1 0 1 0 1 0 1 0 1 0 1 0 1 0 1 0 1 0 1 0 1 0 1 0 1 0 1 0 1 0 1 0 1.1 0 1 0 1 0 1 0 1 0 1 0 1 0 1 0 1 0 1 0 1 0 1 0 1 0 1 0 1 0 1 0 1 0 1 0 1.1 0 1 0 1 0 1 0 1 0 1 0 1 0 1 0 1 0 1 0 1 0 1 0 1 0 1 0 1 0 1,-0.1 1 0 1 0 1 0 1.1 0 1 0 1 0 1 0 1 0 1 0 1 0 1 0 1 0 1 0 1 0 1 0 1 0 1 0 1 0 1 0 1 0 1 0 1.1 0 1 0 1 0 1 0 1 0 1 0 1 0 1 0 1 0 1 0 1 0 1 0 1 0 1 0 1 0 1 0 1 0 1 0 1.1 0 1 0 1 0 1 0 1 0 1 0 1 0 1 0 1 0 1 0 1 0 1 0 1 0 1 0 1 0 1 0 1 0 1 0 1,-0.1 1.1 0 1 0 1 0 1 0 1 0 1 0 1 0 1 0 1 0 1 0 1 0 1 0 1 0 1 0 1 0 1 0 1 0 1 0 1.1,-0.1 1 0 1 0 1 0 1 0 1 0 1 0 1 0 1 0 1,-0.1 1 0 1 0 1 0 1 0 1,-0.1 1 0 1 0 1,-0.1 1.1 0 1,-0.1 1,-0.1 1,-0.1 1,-0.1 1,-0.2 1,-0.3 1,-0.3 1,-0.4 1,-0.5 1,-0.7 1,-0.9 1,-1.1 1,-1.3 1,-1.7 1,-2 1,-2.4 1,-3 1,-3.5 1.1,-4 1,-4.8 1,-5.5 1,-6.2 1,-7 1,-7.7 1,-8.6 1,-9.2 1,-10 1,-10.5 1,-11 1,-11.2 1,-11.4 1,-11.4 1,-11 1,-10.5 1,-9.8 1,-8.9 1.1,-7.6 1,-6.3 1,-4.7 1,-3 1,-1.2 1 0.5 1 2.3 1 4.1 1 5.6 1 7.1 1 8.4 1 9.4 1 10.3 1 10.9 1 11.2 1 11.4 1 11.4 1 11.1 1.1 10.7 1 10.2 1 9.5 1 8.8 1 8.1 1 7.3 1 6.6 1 5.7 1 5 1 4.4 1 3.7 1 3.2 1 2.6 1 2.2 1 1.8 1 1.4 1 1.2 1 0.9 1 0.8 1.1 0.6 1 0.4 1 0.4 1 0.3 1 0.2 1 0.2 1 0.1 1 0.1 1 0.1 1 0 1 0.1 1 0 1 0 1 0.1 1 0 1 0 1 0 1 0 1.1 0.1 1 0 1 0 1 0 1 0 1 0 1 0 1 0 1 0 1 0 1 0.1 1 0 1 0 1 0 1 0 1 0 1 0 1 0 1.1 0 1 0 1 0 1 0 1 0" stroke="#bab680"/>
<path d="M712.2,507l1 0 1 0 1 0 1 0 1 0 1 0 1 0 1 0 1 0 1 0 1 0 1 0 1 0 1 0 1 0 1 0 1 0 1.1 0 1 0 1 0 1 0 1 0 1 0 1 0 1 0 1 0 1 0 1 0 1 0 1 0 1 0 1 0 1 0 1 0 1 0 1.1 0 1 0 1 0 1 0 1 0 1 0 1 0 1 0 1 0 1 0 1 0 1 0 1 0 1 0 1 0 1 0 1 0 1 0 1 0 1.1 0 1 0 1 0 1 0 1 0 1 0 1 0 1 0 1 0 1 0 1 0 1 0 1 0 1 0 1 0 1 0 1 0 1 0 1.1 0 1 0 1 0 1 0 1 0 1 0 1 0 1 0 1 0 1 0 1 0 1 0 1 0 1 0 1 0 1 0 1 0 1 0 1.1 0 1 0 1 0 1 0 1 0 1 0 1 0 1 0 1 0 1 0 1 0 1 0 1 0 1 0 1 0 1 0 1 0 1 0 1 0 1.1 0 1 0 1 0 1 0 1 0 1 0 1 0 1 0 1 0 1 0 1 0 1 0 1 0 1 0 1 0 1 0 1 0 1 0 1.1 0 1 0 1 0 1 0 1 0 1 0 1 0 1 0 1 0 1 0 1 0 1 0 1 0 1 0 1 0 1 0 1 0 1 0 1.1 0 1 0 1 0 1 0 1 0 1 0 1 0 1 0 1 0 1 0 1 0 1 0 1 0 1 0 1 0 1 0 1 0 1 0 1 0 1.1 0 1 0 1 0 1 0 1 0 1 0 1 0 1 0 1 0 1 0 1 0 1 0 1 0 1 0 1 0 1 0 1 0 1 0 1.1 0 1 0 1 0 1 0 1 0 1 0 1 0 1 0 1 0 1 0 1 0 1 0 1 0 1 0 1 0 1 0 1 0 1 0 1.1 0 1 0 1 0 1 0 1 0 1 0 1 0 1 0 1 0 1 0 1 0 1 0 1 0 1 0 1 0 1 0 1 0 1 0 1 0 1.1 0 1 0 1 0 1 0 1 0 1 0 1 0 1 0 1 0 1 0 1 0 1 0 1 0 1 0 1 0 1 0 1 0 1 0 1.1 0 1 0 1 0 1 0 1 0 1 0 1 0 1 0 1 0 1 0 1 0 1 0 1 0 1 0 1 0 1 0 1 0 1 0 1.1 0 1,-0.1 1 0 1 0 1 0 1 0 1 0 1 0 1 0 1 0 1 0 1 0 1 0 1 0 1 0 1 0 1 0 1 0 1 0 1.1 0 1 0 1 0 1 0 1 0 1 0 1 0 1 0 1 0 1 0 1 0 1 0 1 0 1 0 1 0 1 0 1 0 1 0 1.1 0 1 0 1 0 1 0 1 0 1 0 1 0 1 0 1 0 1 0 1 0 1 0 1 0 1 0 1 0 1 0 1 0 1 0 1.1 0 1 0 1 0 1 0 1 0 1 0 1 0 1 0 1 0 1 0 1 0 1 0 1 0 1 0 1 0 1 0 1 0 1 0 1 0 1.1 0 1 0 1,-0.1 1 0 1 0 1 0 1 0 1 0 1 0 1 0 1 0 1 0 1 0 1 0 1 0 1 0 1 0 1 0 1.1 0 1 0 1 0 1 0 1 0 1 0 1 0 1,-0.1 1 0 1 0 1 0 1 0 1 0 1 0 1 0 1 0 1 0 1 0 1.1 0 1 0 1,-0.1 1 0 1 0 1 0 1 0 1 0 1 0 1,-0.1 1 0 1 0 1 0 1 0 1 0 1,-0.1 1 0 1 0 1,-0.1 1.1 0 1,-0.1 1,-0.1 1 0 1,-0.2 1,-0.1 1,-0.2 1,-0.2 1,-0.3 1,-0.4 1,-0.4 1,-0.6 1,-0.8 1,-0.9 1,-1.1 1,-1.4 1,-1.6 1,-2.1 1.1,-2.4 1,-2.9 1,-3.4 1,-4 1,-4.7 1,-5.4 1,-6.1 1,-7 1,-7.8 1,-8.6 1,-9.6 1,-10.4 1,-11.2 1,-12 1,-12.7 1,-13.3 1,-13.7 1,-13.9 1.1,-14.1 1,-13.9 1,-13.6 1,-13 1,-12.2 1,-11.1 1,-9.9 1,-8.4 1,-6.7 1,-4.9 1,-3.1 1,-1 1 1 1 2.9 1 4.8 1 6.5 1 8.1 1 9.6 1 10.8 1.1 11.8 1 12.7 1 13.2 1 13.7 1 13.7 1 13.8 1 13.5 1 13.2 1 12.6 1 12 1 11.3 1 10.5 1 9.7 1 8.8 1 8 1 7.1 1 6.4 1 5.6 1.1 4.9 1 4.2 1 3.7 1 3.1 1 2.6 1 2.2 1 1.8 1 1.5 1 1.3 1 1 1 0.8 1 0.7 1 0.5 1 0.5 1 0.3 1 0.3 1 0.2 1 0.1 1.1 0.2 1 0.1 1 0.1 1 0 1 0.1" stroke="#98b2de"/>
<path d="M712.2,507l1 0 1 0 1 0 1 0 1 0 1 0 1 0 1 0 1 0 1 0 1 0 1 0 1 0 1 0 1 0 1 0 1 0 1.1 0 1 0 1 0 1 0 1 0 1 0 1 0 1 0 1 0 1 0 1 0 1 0 1 0 1 0 1 0 1 0 1 0 1 0 1.1 0 1 0 1 0 1 0 1 0 1 0 1 0 1 0 1 0 1 0 1 0 1 0 1 0 1 0 1 0 1 0 1 0 1 0 1 0 1.1 0 1 0 1 0 1 0 1 0 1 0 1 0 1 0 1 0 1 0 1 0 1 0 1 0 1 0 1 0 1 0 1 0 1 0 1.1 0 1 0 1 0 1 0 1 0 1 0 1 0 1 0 1 0 1 0 1 0 1 0 1 0 1 0 1 0 1 0 1 0 1 0 1.1 0 1 0 1 0 1 0 1 0 1 0 1 0 1 0 1 0 1 0 1 0 1 0 1 0 1 0 1 0 1 0 1 0 1 0 1 0 1.1 0 1 0 1 0 1 0 1 0 1 0 1 0 1 0 1 0 1 0 1 0 1 0 1 0 1 0 1 0 1 0 1 0 1 0 1.1 0 1 0 1 0 1 0 1 0 1 0 1 0 1 0 1 0 1 0 1 0 1 0 1 0 1 0 1 0 1 0 1 0 1 0 1.1 0 1 0 1 0 1 0 1 0 1 0 1 0 1 0 1 0 1 0 1 0 1 0 1 0 1 0 1 0 1 0 1 0 1 0 1 0 1.1 0 1 0 1 0 1 0 1 0 1 0 1 0 1 0 1 0 1 0 1 0 1 0 1 0 1 0 1 0 1 0 1 0 1 0 1.1 0 1 0 1 0 1 0 1 0 1 0 1 0 1 0 1 0 1 0 1 0 1 0 1 0 1 0 1 0 1 0 1 0 1 0 1.1 0 1 0 1 0 1 0 1 0 1 0 1 0 1 0 1 0 1 0 1 0 1 0 1 0 1 0 1 0 1 0 1 0 1 0 1 0 1.1 0 1 0 1 0 1 0 1 0 1 0 1 0 1 0 1 0 1 0 1 0 1 0 1 0 1 0 1 0 1 0 1 0 1 0 1.1 0 1 0 1 0 1 0 1 0 1 0 1 0 1 0 1 0 1 0 1 0 1 0 1 0 1 0 1 0 1 0 1 0 1 0 1.1 0 1 0 1 0 1 0 1 0 1 0 1 0 1 0 1 0 1 0 1 0 1 0 1 0 1 0 1 0 1 0 1 0 1 0 1 0 1.1 0 1 0 1 0 1 0 1 0 1 0 1 0 1 0 1 0 1 0 1 0 1 0 1 0 1 0 1 0 1 0 1 0 1 0 1.1 0 1 0 1 0 1 0 1 0 1 0 1 0 1 0 1 0 1 0 1 0 1 0 1 0 1 0 1 0 1 0 1 0 1 0 1.1 0 1 0 1 0 1 0 1 0 1 0 1 0 1 0 1 0 1 0 1 0 1 0 1 0 1 0 1 0 1 0 1 0 1 0 1 0 1.1 0 1 0 1 0 1 0 1 0 1 0 1 0 1 0 1 0 1 0 1 0 1 0 1 0 1 0 1 0 1 0 1 0 1 0 1.1,-0.1 1 0 1 0 1 0 1 0 1 0 1 0 1 0 1 0 1 0 1 0 1 0 1 0 1 0 1 0 1 0 1 0 1 0 1.1 0 1 0 1 0 1 0 1 0 1 0 1 0 1 0 1 0 1 0 1 0 1 0 1 0 1 0 1 0 1 0 1 0 1 0 1 0 1.1 0 1 0 1 0 1 0 1 0 1 0 1,-0.1 1 0 1 0 1 0 1 0 1 0 1 0 1 0 1 0 1 0 1 0 1 0 1.1 0 1,-0.1 1 0 1 0 1 0 1 0 1 0 1 0 1,-0.1 1 0 1 0 1,-0.1 1 0 1,-0.1 1,-0.1 1,-0.2 1,-0.2 1,-0.3 1.1,-0.4 1,-0.5 1,-0.7 1,-1 1,-1.3 1,-1.7 1,-2.2 1,-2.7 1,-3.5 1,-4.2 1,-5 1,-6.1 1,-7 1,-8.1 1,-9.1 1,-10 1,-10.9 1,-11.5 1,-12 1.1,-12 1,-11.9 1,-11.2 1,-10.3 1,-8.9 1,-7.3 1,-5.3 1,-3 1,-0.7 1 1.6 1 4 1 6.1 1 8 1 9.5 1 10.7 1 11.5 1 12 1 12 1.1 11.8 1 11.3 1 10.6 1 9.7 1 8.7 1 7.6 1 6.7 1 5.6 1 4.7 1 3.9 1 3.1 1 2.6 1 1.9 1 1.5 1 1.2 1 0.9 1 0.6 1 0.5 1.1 0.4 1 0.2 1 0.2 1 0.1 1 0.1" stroke="#bab680"/>
<path d="M712.2,506.5l1,-0.1 1 0 1 0 1 0 1 0 1 0 1 0 1 0 1,-0.1 1 0 1 0 1 0 1 0 1 0 1,-0.1 1 0 1 0 1.1,-0.1 1 0 1 0 1,-0.1 1 0 1,-0.1 1,-0.1 1,-0.1 1 0 1,-0.2 1,-0.1 1,-0.1 1,-0.2 1,-0.2 1,-0.2 1,-0.2 1,-0.3 1,-0.3 1.1,-0.4 1,-0.4 1,-0.5 1,-0.5 1,-0.6 1,-0.7 1,-0.8 1,-0.9 1,-0.9 1,-1.1 1,-1.2 1,-1.3 1,-1.5 1,-1.6 1,-1.8 1,-1.9 1,-2.1 1,-2.3 1,-2.6 1.1,-2.7 1,-2.9 1,-3.2 1,-3.4 1,-3.7 1,-3.8 1,-4.2 1,-4.3 1,-4.7 1,-4.8 1,-5.1 1,-5.3 1,-5.6 1,-5.7 1,-5.9 1,-6.1 1,-6.3 1,-6.4 1.1,-6.4 1,-6.6 1,-6.6 1,-6.6 1,-6.5 1,-6.6 1,-6.4 1,-6.3 1,-6.1 1,-5.9 1,-5.6 1,-5.4 1,-5 1,-4.7 1,-4.2 1,-3.9 1,-3.3 1,-2.9 1.1,-2.4 1,-1.8 1,-1.3 1,-0.8 1,-0.2 1 0.5 1 1.1 1 1.9 1 2.5 1 3.1 1 3.7 1 4.3 1 4.8 1 5.3 1 5.7 1 6.1 1 6.5 1 6.7 1 6.9 1.1 7.1 1 7.2 1 7.3 1 7.3 1 7.3 1 7.2 1 7.1 1 7 1 6.7 1 6.6 1 6.3 1 6.1 1 5.8 1 5.5 1 5.2 1 5 1 4.6 1 4.3 1.1 4 1 3.7 1 3.4 1 3.1 1 2.8 1 2.6 1 2.3 1 2.1 1 1.8 1 1.6 1 1.3 1 1.2 1 0.9 1 0.8 1 0.5 1 0.4 1 0.1 1 0 1.1,-0.2 1,-0.4 1,-0.5 1,-0.8 1,-1 1,-1.2 1,-1.4 1,-1.6 1,-1.8 1,-2.1 1,-2.3 1,-2.5 1,-2.8 1,-3.1 1,-3.3 1,-3.6 1,-3.8 1,-4.1 1,-4.3 1.1,-4.6 1,-4.7 1,-5 1,-5.1 1,-5.3 1,-5.4 1,-5.5 1,-5.5 1,-5.6 1,-5.5 1,-5.4 1,-5.3 1,-5.2 1,-4.9 1,-4.7 1,-4.4 1,-4.1 1,-3.7 1.1,-3.3 1,-2.8 1,-2.4 1,-2 1,-1.5 1,-1 1,-0.7 1,-0.4 1,-0.1 1 0 1 0.2 1 0.3 1 0.4 1 0.3 1 0.4 1 0.3 1 0.3 1 0.2 1.1 0 1 0 1,-0.2 1,-0.4 1,-0.5 1,-0.8 1,-1 1,-1.2 1,-1.6 1,-1.9 1,-2.3 1,-2.7 1,-3 1,-3.4 1,-3.7 1,-3.9 1,-3.9 1,-4 1,-3.7 1.1,-3.4 1,-2.9 1,-2.4 1,-1.7 1,-1.1 1,-0.7 1,-0.9 1,-1.1 1,-1.5 1,-1.9 1,-2.4 1,-3.1 1,-3.7 1,-4.5 1,-5.4 1,-6.1 1,-7 1,-7.8 1.1,-8.4 1,-9.1 1,-9.6 1,-9.9 1,-10.1 1,-10.1 1,-9.9 1,-9.5 1,-9 1,-8.4 1,-7.7 1,-6.9 1,-6.3 1,-5.6 1,-5 1,-4.5 1,-3.9 1,-3.4 1.1,-3 1,-2.8 1,-2.5 1,-2.3 1,-2.2 1,-2.1 1,-1.9 1,-1.9 1,-1.8 1,-1.6 1,-1.5 1,-1.4 1,-1.2 1,-0.9 1,-0.5 1,-0.1 1 0.5 1 1 1 1.8 1.1 2.4 1 3.3 1 4 1 4.9 1 5.9 1 7.1 1 8.3 1 9.4 1 10.4 1 11.5 1 12.3 1 13.1 1 13.7 1 14.2 1 14.7 1 14.9 1 15.1 1 15.1 1.1 15 1 14.8 1 14.6 1 14.1 1 13.7 1 13.1 1 12.6 1 11.9 1 11.3 1 10.5 1 9.9 1 9.1 1 8.4 1 7.7 1 7 1 6.3 1 5.8 1 5 1.1 4.6 1 3.9 1 3.5 1 3 1 2.5 1 2.1 1 1.8 1 1.4 1 1 1 0.8 1 0.5 1 0.2 1,-0.1 1,-0.2 1,-0.6 1,-0.7 1,-0.9 1,-1.2 1,-1.4 1.1,-1.6 1,-1.8 1,-2 1,-2.3 1,-2.4 1,-2.8 1,-2.9 1,-3.2 1,-3.4 1,-3.7 1,-4 1,-4.2 1,-4.4 1,-4.7 1,-5 1,-5.2 1,-5.4 1,-5.7 1.1,-5.8 1,-6.1 1,-6.2 1,-6.4 1,-6.6 1,-6.6 1,-6.8 1,-6.7 1,-6.8 1,-6.8 1,-6.8 1,-6.7 1,-6.5 1,-6.4 1,-6.2 1,-6 1,-5.7 1,-5.5 1.1,-5.1 1,-4.7 1,-4.3 1,-4 1,-3.5 1,-3.1 1,-2.7 1,-2.2 1,-1.9 1,-1.4 1,-1 1,-0.4 1 0.1 1 0.7 1 1 1 1.4 1 1.7 1 1.7 1 1.8 1.1 1.7 1 1.4 1 1.2 1 0.7 1 0.2 1,-0.3 1,-0.9 1,-1.6 1,-2.2 1,-2.7 1,-3.4 1,-3.8 1,-4.2 1,-4.6 1,-4.7 1,-4.8 1,-4.7 1,-4.5 1.1,-4.3 1,-3.8 1,-3.4 1,-2.9 1,-2.3 1,-1.9 1,-1.7 1,-1.6 1,-1.4 1,-1.5 1,-1.4 1,-1.6 1,-1.8 1,-2 1,-2.2 1,-2.6 1,-2.9 1,-3.3 1.1,-3.6 1,-3.9 1,-4.2 1,-4.4 1,-4.6 1,-4.7 1,-4.8 1,-4.7 1,-4.6 1,-4.5 1,-4.1 1,-3.9 1,-3.4 1,-2.9 1,-2.4 1,-1.8 1,-1 1,-0.1 1 0.8 1.1 1.9 1 3 1 4.3 1 5.8 1 7.1 1 8.7 1 10.2 1 11.7 1 13 1 13.8 1 14.7 1 15.3 1 15.7 1 16.1 1 16.1 1 16.1 1 16 1 15.6 1.1 15.1 1 14.5 1 13.8 1 13.1 1 12.1 1 11.3 1 10.4 1 9.4 1 8.5 1 7.6 1 6.8 1 5.9 1 5.2 1 4.5 1 3.8 1 3.3 1 2.8 1 2.3 1.1 1.9 1 1.6 1 1.3 1 1.1 1 0.8" stroke="#bf9878"/>
<path d="M712.2,502.8l2,-0.2 2 27.7 2,-15.3 2,-25.9 2 30.3 2,-4.9 2,-2.8 2,-22.9 2.1 17.7 2,-21.2 2 26.5 2,-27.6 2 16.9 2,-15.2 2 10.8 2,-4.9 2,-11.8 2.1,-9.5 2 17.4 2,-17.1 2 18.9 2,-22.8 2 14.4 2,-22.9 2 0.1 2,-8.5 2 18.3 2.1,-36.4 2 17.6 2,-21.2 2 2.7 2,-5.3 2 5.4 2,-25.5 2 0.8 2,-22.2 2.1,-8 2,-9.6 2 5.5 2,-26.4 2 5.3 2,-36.8 2 9.1 2,-26.2 2 28.7 2.1,-56.3 2 17.7 2,-14.2 2,-14.5 2,-5.6 2 36.7 2,-5.5 2 28.4 2,-7.4 2.1 35.6 2 4.4 2 50.8 2,-12.4 2 33.4 2 7.8 2 28.5 2,-3.1 2 22.2 2.1,-6.5 2 32.2 2,-16.3 2 14.8 2,-12.5 2 25.3 2 21.7 2,-1.2 2,-30.5 2.1 8.4 2,-28 2 9.3 2,-25.7 2 18.9 2,-21.8 2 7.9 2,-23.8 2 10.2 2,-33.6 2.1 32.8 2,-39.7 2 17.5 2,-31.2 2 12.8 2,-16.7 2 17.1 2,-28.1 2,-0.8 2.1,-21.3 2 15 2,-31.5 2 8.2 2,-15.8 2 33.8 2,-25.8 2 20.5 2,-24.9 2.1 18.3 2,-30.4 2 29.4 2,-32.9 2 37.5 2,-40.7 2 25.7 2,-36.4 2 6.8 2.1,-19.5 2 16.2 2,-22.7 2 26.4 2,-14 2,-17.3 2,-25.2 2 14.8 2,-14.2 2.1,-17.4 2,-21.3 2,-3 2,-21 2,-3 2,-53.4 2 3.1 2,-23.6 2 12.1 2.1,-33.8 2 31.6 2,-44.7 2 40.9 2,-31 2 38.4 2,-27.2 2 33.7 2,-21.3 2 22 2.1,-16.7 2 21.7 2,-19.5 2 27.2 2,-10.1 2 49.3 2,-9.5 2 61.5 2 8.1 2.1 74.7 2,-0.3 2 32.9 2 15.6 2 41.2 2 2.3 2 49.1 2,-20.7 2 29.1 2.1 0.3 2 27.6 2,-16.9 2 18.4 2,-27.1 2 18.5 2,-20.5 2 60.1 2,-54.5 2.1 6.8 2,-22.8 2,-4.3 2,-0.8 2 4.9 2,-32.8 2,-6.8 2,-11.5 2 3.5 2.1,-24.1 2 7.4 2,-25.4 2,-2.7 2,-31.8 2,-3.4 2,-9.4 2,-6.9 2,-29.7 2.1 24.9 2,-49.6 2 20.5 2,-20.8 2 6.8 2,-35.1 2 32.2 2,-32.5 2 39.5 2,-24.2 2.1 19.6 2,-21.6 2 8 2,-10.4 2 38.1 2,-32.9 2 20.5 2,-24 2 12.7 2.1,-20.1 2 9.2 2,-40.4 2 25.8 2,-22.5 2 6.6 2,-27.5 2 24.7 2,-31.8 2.1 8.8 2,-16.4 2 10.4 2,-26.5 2 1.4 2,-37 2 22.5 2,-24 2 23.8 2.1,-22.1 2 35 2,-11.9 2 44.1 2,-17.3 2 74.1 2 13.4 2 42.5 2 2 2.1 46.3 2 12.6 2 64.5 2,-13.6 2 26.7 2,-6.3 2 26.8 2,-8.1 2 17 2.1 11.2 2 14.9 2 2.9" stroke="#f02832" stroke-width="1.4" stroke-linejoin="round"/>
<rect x="702.1" y="26.3" width="553" height="509.9" stroke="#aaaaaa" stroke-width="1.7"/>
<path d="M698.1,528.6h4M698.1,517.8h4M695.1,507h7M698.1,496.2h4M698.1,485.4h4M698.1,474.6h4M698.1,463.8h4M695.1,453h7M698.1,442.2h4M698.1,431.4h4M698.1,420.6h4M698.1,409.8h4M695.1,399h7M698.1,388.2h4M698.1,377.4h4M698.1,366.6h4M698.1,355.8h4M695.1,345h7M698.1,334.2h4M698.1,323.4h4M698.1,312.6h4M698.1,301.8h4M695.1,291h7M698.1,280.2h4M698.1,269.4h4M698.1,258.6h4M698.1,247.8h4M695.1,237h7M698.1,226.2h4M698.1,215.4h4M698.1,204.6h4M698.1,193.8h4M695.1,183h7M698.1,172.2h4M698.1,161.4h4M698.1,150.6h4M698.1,139.8h4M695.1,129h7M698.1,118.2h4M698.1,107.4h4M698.1,96.6h4M698.1,85.8h4M695.1,75h7M698.1,64.2h4M698.1,53.4h4M698.1,42.6h4M698.1,31.8h4M1255.1,536.2v10M1245,536.2v6M1235,536.2v6M1224.9,536.2v6M1214.9,536.2v6M1204.8,536.2v6M1194.8,536.2v6M1184.7,536.2v6M1174.7,536.2v6M1164.6,536.2v6M1154.6,536.2v10M1144.5,536.2v6M1134.4,536.2v6M1124.4,536.2v6M1114.3,536.2v6M1104.3,536.2v6M1094.2,536.2v6M1084.2,536.2v6M1074.1,536.2v6M1064.1,536.2v6M1054,536.2v10M1044,536.2v6M1033.9,536.2v6M1023.8,536.2v6M1013.8,536.2v6M1003.7,536.2v6M993.7,536.2v6M983.6,536.2v6M973.6,536.2v6M963.5,536.2v6M953.5,536.2v10M943.4,536.2v6M933.4,536.2v6M923.3,536.2v6M913.2,536.2v6M903.2,536.2v6M893.1,536.2v6M883.1,536.2v6M873,536.2v6M863,536.2v6M852.9,536.2v10M842.9,536.2v6M832.8,536.2v6M822.8,536.2v6M812.7,536.2v6M802.6,536.2v6M792.6,536.2v6M782.5,536.2v6M772.5,536.2v6M762.4,536.2v6M752.4,536.2v10M742.3,536.2v6M732.3,536.2v6M722.2,536.2v6M712.2,536.2v6M702.1,536.2v6" stroke="#8c8c8c" stroke-width="1.2"/>
<text x="693.6" y="506" text-anchor="end" class="t">0</text>
<text x="693.6" y="452" text-anchor="end" class="t">5</text>
<text x="693.6" y="398" text-anchor="end" class="t">10</text>
<text x="693.6" y="344" text-anchor="end" class="t">15</text>
<text x="693.6" y="290" text-anchor="end" class="t">20</text>
<text x="693.6" y="236" text-anchor="end" class="t">25</text>
<text x="693.6" y="182" text-anchor="end" class="t">30</text>
<text x="693.6" y="128" text-anchor="end" class="t">35</text>
<text x="693.6" y="74" text-anchor="end" class="t">40</text>
<text x="751.4" y="560.7" text-anchor="middle" class="t">920</text>
<text x="851.9" y="560.7" text-anchor="middle" class="t">910</text>
<text x="952.5" y="560.7" text-anchor="middle" class="t">900</text>
<text x="1053" y="560.7" text-anchor="middle" class="t">890</text>
<text x="1153.6" y="560.7" text-anchor="middle" class="t">880</text>
<text x="1254.1" y="560.7" text-anchor="middle" class="t">870</text>
<text x="977.1" y="578.5" text-anchor="middle" class="a">Binding Energy (eV)</text>
<text x="669.2" y="280.5" text-anchor="middle" class="a" transform="rotate(-90 669.2 280.5)">CPS</text>
<text x="701.5" y="23.7" class="t">x 10<tspan dx="-0.5" dy="-9">2</tspan></text>
<path d="M63.5,1116.3H613.4" stroke="#e07878" stroke-width="2.2"/>
<path d="M111.5,1115.9l1 0 1,-0.1 1 0 1 0 1 0 1,-0.1 1 0 1,-0.1 1 0 1,-0.1 1,-0.1 1,-0.1 1,-0.1 1,-0.2 1,-0.2 1,-0.3 1,-0.3 1,-0.4 1,-0.4 1,-0.6 1,-0.7 1,-0.9 1,-1 1,-1.2 1,-1.5 1,-1.7 1,-2 1,-2.3 1,-2.7 1,-3.2 1,-3.5 1,-4 1,-4.6 1,-5.1 1,-5.6 1,-6.2 1,-6.7 1,-7.4 1,-7.9 1,-8.4 1,-8.9 1,-9.3 1,-9.7 1,-9.9 1,-10.1 1,-10.2 1,-10.2 1,-9.9 1,-9.6 1,-9.2 1,-8.6 1,-7.8 1,-7 1,-6 1,-4.9 1,-3.7 1,-2.5 1,-1.2 1 0.2 1 1.8 1 3.5 1 5 1 6.5 1 7.7 1 8.9 1 9.7 1 10.5 1 11.1 1 11.3 1 11.5 1 11.5 1 11.3 1 10.9 1 10.4 1 9.9 1 9.3 1 8.6 1 7.8 1 7.1 1 6.4 1 5.7 1 5 1 4.4 1 3.8 1 3.3 1 2.7 1 2.3 1 2 1 1.6 1 1.3 1 1.1 1 0.9 1 0.7 1 0.6 1 0.4 1 0.4 1 0.2 1 0.3 1 0.1 1 0.2 1 0.1 1 0.1 1 0 1 0.1 1 0 1 0.1 1 0 1 0 1 0.1 1 0 1 0 1 0 1 0 1 0 1 0 1 0.1 1 0 1 0 1 0 1 0 1 0 1 0 1 0 1 0 1 0 1 0 1 0.1 1 0 1 0 1 0 1 0 1 0 1 0 1 0 1 0 1 0 1 0 1 0 1 0 1 0 1 0 1 0 1 0 1 0 1 0 1 0 1 0.1 1 0 1 0 1 0 1 0 1 0 1 0 1 0 1 0 1 0 1 0 1 0 1 0 1 0 1 0 1 0 1 0 1 0 1 0 1 0 1 0 1 0 1 0 1 0 1 0 1 0 1 0 1 0 1 0 1 0 1 0 1 0 1 0 1 0 1 0 1 0 1 0 1 0 1 0 1 0 1 0 1 0 1 0 1 0 1 0 1 0 1 0 1 0 1 0 1 0 1 0 1 0 1 0 1 0 1 0 1 0 1 0 1 0 1 0 1 0 1 0 1 0 1 0 1 0 1 0 1 0 1 0.1 1 0 1 0 1 0 1 0 1 0 1 0 1 0 1 0 1 0 1 0 1 0 1 0 1 0 1 0 0.9 0 1 0 1 0 1 0 1 0 1 0 1 0 1 0 1 0 1 0 1 0 1 0 1 0 1 0 1 0 1 0 1 0 1 0 1 0 1 0 1 0 1 0 1 0 1 0 1 0 1 0 1 0 1 0 1 0 1 0 1 0 1 0 1 0 1 0 1 0 1 0 1 0 1 0 1 0 1 0 1 0 1 0 1 0 1 0 1 0 1 0 1 0 1 0 1 0 1 0 1 0 1 0 1 0 1 0 1 0 1 0 1 0 1 0 1 0 1 0 1 0 1 0 1 0 1 0 1 0 1 0 1 0 1 0 1 0 1 0 1 0 1 0 1 0 1 0 1 0 1 0 1 0 1 0 1 0 1 0 1 0 1 0 1 0 1 0 1 0 1 0 1 0 1 0 1 0 1 0 1 0 1 0 1 0 1 0 1 0 1 0 1 0 1 0 1 0 1 0 1 0 1 0 1 0 1 0 1 0 1 0 1 0 1 0 1 0 1 0 1 0 1 0 1 0 1 0 1 0 1 0 1 0 1 0 1 0 1 0 1 0 1 0 1 0 1 0 1 0 1 0 1 0 1 0 1 0 1 0 1 0 1 0 1 0 1 0 1 0 1 0 1 0 1 0 1 0 1 0 1 0 1 0 1 0 1 0 1 0 1 0 1 0 1 0 1 0 1 0 1 0 1 0 1 0 1 0 1 0 1 0 1 0 1 0 1 0 1 0 1 0 1 0 1 0 1 0 1 0 1 0 1 0 1 0 1 0 1 0 1 0 1 0 1 0 1 0 1 0 1 0 1 0 1 0 1 0 1 0 1 0 1 0 1 0 1 0 1 0 1 0 1 0 1 0 1 0 1 0 1 0 1 0 1 0 1 0 1 0 1 0 1 0 1 0 1 0 1 0 1 0 1 0 1 0 1 0 1 0 1 0 1 0 1 0 1 0 1 0 1 0 1 0 1 0 1 0 1 0 1 0 1 0 1 0 1 0 1 0 1 0" stroke="#98b2de"/>
<path d="M111.5,1116.2l1 0 1 0 1 0 1 0 1 0 1 0 1 0 1 0 1 0 1 0 1 0 1 0 1 0 1,-0.1 1 0 1 0 1 0 1 0 1 0 1 0 1 0 1 0 1 0 1 0 1 0 1 0 1 0 1 0 1 0 1 0 1 0 1 0 1 0 1 0 1 0 1 0 1 0 1 0 1 0 1 0 1 0 1 0 1 0 1 0 1 0 1 0 1 0 1,-0.1 1 0 1 0 1 0 1 0 1 0 1 0 1 0 1 0 1 0 1 0 1 0 1 0 1 0 1 0 1,-0.1 1 0 1 0 1 0 1 0 1 0 1,-0.1 1 0 1 0 1 0 1,-0.1 1 0 1 0 1,-0.1 1 0 1,-0.1 1,-0.1 1 0 1,-0.1 1,-0.1 1,-0.1 1,-0.1 1,-0.2 1,-0.1 1,-0.2 1,-0.2 1,-0.2 1,-0.2 1,-0.2 1,-0.3 1,-0.3 1,-0.4 1,-0.3 1,-0.5 1,-0.4 1,-0.5 1,-0.6 1,-0.6 1,-0.6 1,-0.7 1,-0.8 1,-0.8 1,-0.9 1,-1 1,-1.1 1,-1.1 1,-1.3 1,-1.3 1,-1.4 1,-1.5 1,-1.6 1,-1.7 1,-1.8 1,-1.9 1,-2.1 1,-2.1 1,-2.2 1,-2.4 1,-2.5 1,-2.5 1,-2.7 1,-2.8 1,-2.9 1,-3 1,-3 1,-3.2 1,-3.3 1,-3.3 1,-3.4 1,-3.4 1,-3.5 1,-3.6 1,-3.5 1,-3.6 1,-3.6 1,-3.6 1,-3.6 1,-3.5 1,-3.5 1,-3.4 1,-3.3 1,-3.3 1,-3.1 1,-3 1,-2.9 1,-2.8 1,-2.5 1,-2.4 1,-2.3 1,-2 1,-1.8 1,-1.6 1,-1.3 1,-1.1 1,-0.9 1,-0.6 1,-0.4 1,-0.1 1 0.3 1 1.1 1 1.8 1 2.5 1 3.1 1 3.7 1 4.2 1 4.7 1 5.1 1 5.5 1 5.7 1 5.9 1 6 1 6.1 1 6.1 1 6 1 5.9 1 5.7 1 5.6 1 5.3 1 5 1 4.7 1 4.4 1 4.1 1 3.8 1 3.5 1 3.2 1 2.8 1 2.6 1 2.3 1 2.1 1 1.8 1 1.6 1 1.3 1 1.3 1 1 1 0.9 1 0.7 1 0.7 1 0.5 1 0.5 1 0.4 1 0.3 1 0.3 1 0.2 1 0.2 1 0.1 1 0.2 1 0.1 1 0 1 0.1 1 0.1 1 0 1 0.1 1 0 1 0 1 0 1 0.1 1 0 1 0 1 0 1 0 1 0 1 0 1 0 1 0 1 0.1 0.9 0 1 0 1 0 1 0 1 0 1 0 1 0 1 0 1 0 1 0 1 0 1 0 1 0 1 0 1 0 1 0 1 0 1 0 1 0 1 0.1 1 0 1 0 1 0 1 0 1 0 1 0 1 0 1 0 1 0 1 0 1 0 1 0 1 0 1 0 1 0 1 0 1 0 1 0 1 0 1 0 1 0 1 0 1 0 1 0 1 0 1 0 1 0 1 0 1 0 1 0 1 0 1 0 1 0 1 0 1 0 1 0 1 0 1 0 1 0 1 0 1 0 1 0 1 0 1 0 1 0 1 0 1 0 1 0 1 0 1 0 1 0 1 0 1 0 1 0 1 0 1 0 1 0 1 0 1 0 1 0 1 0 1 0 1 0 1 0 1 0.1 1 0 1 0 1 0 1 0 1 0 1 0 1 0 1 0 1 0 1 0 1 0 1 0 1 0 1 0 1 0 1 0 1 0 1 0 1 0 1 0 1 0 1 0 1 0 1 0 1 0 1 0 1 0 1 0 1 0 1 0 1 0 1 0 1 0 1 0 1 0 1 0 1 0 1 0 1 0 1 0 1 0 1 0 1 0 1 0 1 0 1 0 1 0 1 0 1 0 1 0 1 0 1 0 1 0 1 0 1 0 1 0 1 0 1 0 1 0 1 0 1 0 1 0 1 0 1 0 1 0 1 0 1 0 1 0 1 0 1 0 1 0 1 0 1 0 1 0 1 0 1 0 1 0 1 0 1 0 1 0 1 0 1 0 1 0 1 0 1 0 1 0 1 0 1 0 1 0 1 0 1 0 1 0 1 0 1 0 1 0 1 0 1 0 1 0 1 0 1 0 1 0 1 0 1 0 1 0 1 0 1 0 1 0 1 0 1 0 1 0 1 0 1 0 1 0 1 0 1 0 1 0 1 0 1 0 1 0 1 0 1 0 1 0 1 0 1 0 1 0 1 0 1 0 1 0 1 0 1 0 1 0 1 0 1 0 1 0 1 0 1 0" stroke="#98b2de"/>
<path d="M111.5,1116.3l1 0 1 0 1 0 1 0 1 0 1 0 1 0 1 0 1 0 1 0 1 0 1 0 1 0 1 0 1 0 1 0 1 0 1 0 1 0 1 0 1 0 1 0 1 0 1 0 1 0 1 0 1 0 1 0 1 0 1 0 1 0 1 0 1 0 1 0 1 0 1 0 1 0 1 0 1 0 1 0 1 0 1 0 1 0 1 0 1 0 1 0 1 0 1 0 1 0 1 0 1 0 1 0 1 0 1 0 1 0 1 0 1 0 1 0 1 0 1 0 1 0 1 0 1,-0.1 1 0 1 0 1 0 1 0 1 0 1 0 1 0 1 0 1 0 1 0 1 0 1 0 1 0 1 0 1 0 1 0 1 0 1 0 1 0 1 0 1 0 1 0 1 0 1 0 1 0 1 0 1 0 1 0 1 0 1 0 1 0 1 0 1 0 1 0 1 0 1 0 1 0 1 0 1 0 1 0 1 0 1 0 1 0 1 0 1 0 1 0 1 0 1 0 1 0 1 0 1 0 1 0 1 0 1 0 1 0 1,-0.1 1 0 1 0 1 0 1 0 1 0 1 0 1 0 1 0 1 0 1 0 1 0 1 0 1 0 1 0 1 0 1 0 1,-0.1 1 0 1 0 1 0 1 0 1 0 1 0 1 0 1 0 1,-0.1 1 0 1 0 1 0 1 0 1,-0.1 1 0 1 0 1,-0.1 1,-0.1 1,-0.1 1,-0.1 1,-0.1 1,-0.2 1,-0.3 1,-0.3 1,-0.5 1,-0.5 1,-0.8 1,-0.9 1,-1.1 1,-1.4 1,-1.8 1,-2.2 1,-2.6 1,-3.1 1,-3.7 1,-4.3 1,-5 1,-5.7 1,-6.5 1,-7.3 1,-8 1,-8.8 1,-9.5 1,-10 1,-10.6 1,-10.9 1,-11 1,-11.1 1,-10.7 1,-10.4 1,-9.6 1,-8.7 1,-7.5 1,-6.2 1,-4.6 1,-3 1,-1.3 1 0.8 1 3.5 1 5.9 1 8.2 1 10 1 11.6 1 12.6 1 13.3 1 13.6 1 13.4 1 13 1 12.2 1 11.3 1 10.2 1 9.1 1 7.9 1 6.8 1 5.7 1 4.7 1 3.9 1 3.1 1 2.4 1 1.9 1 1.5 1 1.1 1 0.8 1 0.6 1 0.5 1 0.3 1 0.2 1 0.2 1 0.1 1 0.1 1 0.1 0.9 0 1 0.1 1 0 1 0 1 0 1 0.1 1 0 1 0 1 0 1 0 1 0 1 0 1 0 1 0.1 1 0 1 0 1 0 1 0 1 0 1 0 1 0 1 0 1 0 1 0 1 0 1 0 1 0 1 0.1 1 0 1 0 1 0 1 0 1 0 1 0 1 0 1 0 1 0 1 0 1 0 1 0 1 0 1 0 1 0 1 0 1 0 1 0 1 0 1 0 1 0 1 0 1 0 1 0 1 0 1 0 1 0 1 0 1 0 1 0 1 0 1 0 1 0 1 0 1 0 1 0 1 0 1 0 1 0 1 0 1 0 1 0 1 0 1 0 1 0.1 1 0 1 0 1 0 1 0 1 0 1 0 1 0 1 0 1 0 1 0 1 0 1 0 1 0 1 0 1 0 1 0 1 0 1 0 1 0 1 0 1 0 1 0 1 0 1 0 1 0 1 0 1 0 1 0 1 0 1 0 1 0 1 0 1 0 1 0 1 0 1 0 1 0 1 0 1 0 1 0 1 0 1 0 1 0 1 0 1 0 1 0 1 0 1 0 1 0 1 0 1 0 1 0 1 0 1 0 1 0 1 0 1 0 1 0 1 0 1 0 1 0 1 0 1 0 1 0 1 0 1 0 1 0 1 0 1 0 1 0 1 0 1 0 1 0 1 0 1 0 1 0 1 0 1 0 1 0 1 0 1 0 1 0 1 0 1 0 1 0 1 0 1 0 1 0 1 0 1 0 1 0 1 0 1 0 1 0 1 0 1 0 1 0 1 0 1 0 1 0 1 0 1 0 1 0 1 0 1 0 1 0 1 0 1 0 1 0 1 0 1 0 1 0 1 0 1 0 1 0 1 0 1 0 1 0 1 0 1 0 1 0 1 0 1 0 1 0 1 0 1 0 1 0 1 0 1 0 1 0 1 0 1 0 1 0 1 0 1 0 1 0 1 0 1 0 1 0 1 0 1 0 1 0 1 0 1 0 1 0 1 0 1 0 1 0" stroke="#bab680"/>
<path d="M111.5,1116.3l1 0 1 0 1 0 1 0 1 0 1 0 1 0 1 0 1 0 1 0 1 0 1 0 1 0 1 0 1 0 1 0 1 0 1 0 1 0 1 0 1 0 1 0 1 0 1 0 1 0 1 0 1 0 1 0 1 0 1 0 1 0 1 0 1 0 1 0 1 0 1 0 1 0 1 0 1 0 1 0 1 0 1 0 1 0 1 0 1 0 1 0 1 0 1 0 1 0 1 0 1 0 1 0 1 0 1 0 1 0 1 0 1 0 1 0 1 0 1 0 1 0 1 0 1 0 1 0 1 0 1 0 1 0 1 0 1 0 1 0 1 0 1 0 1 0 1 0 1 0 1 0 1 0 1 0 1 0 1 0 1 0 1 0 1 0 1 0 1 0 1 0 1 0 1 0 1 0 1 0 1 0 1 0 1 0 1 0 1 0 1 0 1 0 1 0 1 0 1 0 1 0 1 0 1 0 1 0 1 0 1 0 1 0 1 0 1 0 1 0 1 0 1,-0.1 1 0 1 0 1 0 1 0 1 0 1 0 1 0 1 0 1 0 1 0 1 0 1 0 1 0 1 0 1 0 1 0 1 0 1 0 1 0 1 0 1 0 1 0 1 0 1 0 1 0 1 0 1 0 1 0 1 0 1 0 1 0 1 0 1 0 1 0 1 0 1 0 1 0 1 0 1 0 1 0 1 0 1 0 1 0 1 0 1,-0.1 1 0 1 0 1 0 1 0 1 0 1 0 1 0 1 0 1 0 1 0 1 0 1 0 1 0 1,-0.1 1 0 1 0 1 0 1 0 1 0 1 0 1,-0.1 1 0 1 0 1 0 1 0 1,-0.1 1 0 1,-0.1 1 0 1,-0.1 1,-0.1 1,-0.2 1,-0.2 1,-0.3 1,-0.5 1,-0.7 1,-1 1,-1.3 1,-1.9 1,-2.6 1,-3.5 1,-4.5 1,-5.8 1,-7.3 1,-8.9 1,-10.8 1,-12.7 1,-14.6 1,-16.3 1,-17.8 1,-18.9 1,-19.4 1,-19.3 1,-18.4 1,-16.7 1,-14.3 1,-11.1 1,-7.2 1,-3.1 1 0.9 1 3.7 1 6.5 1 9 1 11.1 1 12.9 1 14.3 1 15.2 1 15.8 1 15.8 1 15.6 0.9 15 1 14.1 1 13.1 1 12 1 10.7 1 9.4 1 8.2 1 7.1 1 5.9 1 4.9 1 4 1 3.3 1 2.6 1 2 1 1.6 1 1.3 1 0.9 1 0.7 1 0.5 1 0.4 1 0.3 1 0.2 1 0.2 1 0.1 1 0.1 1 0.1 1 0 1 0.1 1 0 1 0 1 0 1 0.1 1 0 1 0 1 0 1 0 1 0.1 1 0 1 0 1 0 1 0 1 0 1 0 1 0 1 0 1 0.1 1 0 1 0 1 0 1 0 1 0 1 0 1 0 1 0 1 0 1 0 1 0 1 0 1 0 1 0 1 0 1 0 1 0.1 1 0 1 0 1 0 1 0 1 0 1 0 1 0 1 0 1 0 1 0 1 0 1 0 1 0 1 0 1 0 1 0 1 0 1 0 1 0 1 0 1 0 1 0 1 0 1 0 1 0 1 0 1 0 1 0 1 0 1 0 1 0 1 0 1 0 1 0 1 0 1 0 1 0 1 0 1 0 1 0 1 0 1 0 1 0 1 0 1 0 1 0 1 0 1 0 1 0 1 0 1 0 1 0 1 0 1 0 1 0.1 1 0 1 0 1 0 1 0 1 0 1 0 1 0 1 0 1 0 1 0 1 0 1 0 1 0 1 0 1 0 1 0 1 0 1 0 1 0 1 0 1 0 1 0 1 0 1 0 1 0 1 0 1 0 1 0 1 0 1 0 1 0 1 0 1 0 1 0 1 0 1 0 1 0 1 0 1 0 1 0 1 0 1 0 1 0 1 0 1 0 1 0 1 0 1 0 1 0 1 0 1 0 1 0 1 0 1 0 1 0 1 0 1 0 1 0 1 0 1 0 1 0 1 0 1 0 1 0 1 0 1 0 1 0 1 0 1 0 1 0 1 0 1 0 1 0 1 0 1 0 1 0 1 0 1 0 1 0 1 0 1 0 1 0 1 0 1 0 1 0 1 0 1 0 1 0 1 0 1 0 1 0 1 0 1 0 1 0 1 0 1 0 1 0 1 0 1 0 1 0 1 0 1 0 1 0" stroke="#98b2de"/>
<path d="M111.5,1116.3l1 0 1 0 1 0 1 0 1 0 1 0 1 0 1 0 1 0 1 0 1 0 1 0 1 0 1 0 1 0 1 0 1 0 1 0 1 0 1 0 1 0 1 0 1 0 1 0 1 0 1 0 1 0 1 0 1 0 1 0 1 0 1 0 1 0 1 0 1 0 1 0 1 0 1 0 1 0 1 0 1 0 1 0 1 0 1 0 1 0 1 0 1 0 1 0 1 0 1 0 1 0 1 0 1 0 1 0 1 0 1 0 1 0 1 0 1 0 1 0 1 0 1 0 1 0 1 0 1 0 1 0 1 0 1 0 1 0 1 0 1 0 1 0 1 0 1 0 1 0 1 0 1 0 1 0 1 0 1 0 1 0 1 0 1 0 1 0 1 0 1 0 1 0 1 0 1 0 1 0 1 0 1 0 1 0 1 0 1 0 1 0 1 0 1 0 1 0 1 0 1 0 1 0 1 0 1 0 1 0 1 0 1 0 1 0 1 0 1 0 1 0 1 0 1 0 1 0 1 0 1 0 1 0 1 0 1 0 1 0 1 0 1 0 1 0 1 0 1 0 1 0 1 0 1 0 1 0 1 0 1 0 1 0 1 0 1 0 1 0 1 0 1 0 1 0 1 0 1 0 1 0 1 0 1 0 1 0 1 0 1 0 1 0 1 0 1 0 1 0 1 0 1 0 1 0 1 0 1 0 1 0 1 0 1 0 1 0 1 0 1 0 1 0 1 0 1 0 1 0 1 0 1 0 1 0 1 0 1 0 1 0 1 0 1 0 1 0 1 0 1 0 1 0 1,-0.1 1 0 1 0 1 0 1 0 1 0 1 0 1 0 1 0 1 0 1 0 1 0 1 0 1 0 1 0 1 0 1 0 1 0 1 0 1 0 1 0 1 0 1,-0.1 1 0 1 0 1 0 1 0 1 0 1,-0.1 1,-0.1 1,-0.1 1,-0.1 1,-0.3 1,-0.4 1,-0.6 1,-1 1,-1.3 1,-1.8 1,-2.5 1,-3.3 1,-4.1 1,-5.2 1,-6.2 1,-7 1,-7.9 1,-8.4 1,-8.4 1,-8.2 1,-7.3 1,-5.9 0.9,-4.2 1,-2.1 1 0.2 1 2.5 1 4.6 1 6.3 1 7.5 1 8.2 1 8.5 1 8.3 1 7.7 1 7 1 5.9 1 5 1 4 1 3.1 1 2.3 1 1.7 1 1.3 1 0.8 1 0.6 1 0.4 1 0.2 1 0.2 1 0.1 1 0 1 0.1 1 0 1 0 1 0 1 0 1 0.1 1 0 1 0 1 0 1 0 1 0 1 0 1 0 1 0 1 0 1 0 1 0 1 0 1 0 1 0 1 0 1 0 1 0 1 0 1 0 1 0 1 0 1 0 1 0.1 1 0 1 0 1 0 1 0 1 0 1 0 1 0 1 0 1 0 1 0 1 0 1 0 1 0 1 0 1 0 1 0 1 0 1 0 1 0 1 0 1 0 1 0 1 0 1 0 1 0 1 0 1 0 1 0 1 0 1 0 1 0 1 0 1 0 1 0 1 0 1 0 1 0 1 0 1 0 1 0 1 0 1 0 1 0 1 0 1 0 1 0 1 0 1 0 1 0 1 0 1 0 1 0 1 0 1 0 1 0 1 0 1 0 1 0 1 0 1 0 1 0 1 0 1 0 1 0 1 0 1 0 1 0 1 0 1 0 1 0 1 0 1 0 1 0 1 0 1 0 1 0 1 0 1 0 1 0 1 0 1 0 1 0 1 0 1 0 1 0 1 0 1 0 1 0 1 0 1 0 1 0 1 0 1 0 1 0 1 0 1 0 1 0 1 0 1 0 1 0 1 0 1 0 1 0 1 0 1 0 1 0 1 0 1 0 1 0 1 0 1 0 1 0 1 0 1 0 1 0 1 0 1 0 1 0 1 0 1 0 1 0 1 0 1 0 1 0 1 0 1 0 1 0 1 0 1 0 1 0 1 0 1 0 1 0 1 0 1 0 1 0 1 0 1 0 1 0 1 0 1 0 1 0 1 0 1 0 1 0 1 0 1 0 1 0 1 0 1 0 1 0 1 0 1 0 1 0 1 0 1 0 1 0 1 0 1 0 1 0 1 0 1 0 1 0 1 0 1 0 1 0" stroke="#bab680"/>
<path d="M111.5,1116.3l1 0 1 0 1 0 1 0 1 0 1 0 1 0 1 0 1 0 1 0 1 0 1 0 1 0 1 0 1 0 1 0 1 0 1 0 1 0 1 0 1 0 1 0 1 0 1 0 1 0 1 0 1 0 1 0 1 0 1 0 1 0 1 0 1 0 1 0 1 0 1 0 1 0 1 0 1 0 1 0 1 0 1 0 1 0 1 0 1 0 1 0 1 0 1 0 1 0 1 0 1 0 1 0 1 0 1 0 1 0 1 0 1 0 1 0 1 0 1 0 1 0 1 0 1 0 1 0 1 0 1 0 1 0 1 0 1,-0.1 1 0 1 0 1 0 1 0 1 0 1 0 1 0 1 0 1 0 1 0 1 0 1 0 1 0 1 0 1 0 1 0 1 0 1 0 1 0 1 0 1 0 1 0 1 0 1 0 1 0 1 0 1 0 1 0 1 0 1 0 1 0 1 0 1 0 1 0 1 0 1 0 1 0 1 0 1 0 1 0 1 0 1 0 1 0 1 0 1 0 1 0 1 0 1 0 1 0 1 0 1 0 1 0 1 0 1 0 1 0 1 0 1 0 1 0 1 0 1 0 1 0 1 0 1 0 1 0 1 0 1 0 1 0 1 0 1 0 1 0 1 0 1 0 1,-0.1 1 0 1 0 1 0 1 0 1 0 1 0 1 0 1 0 1 0 1 0 1 0 1 0 1 0 1 0 1 0 1 0 1 0 1 0 1 0 1 0 1 0 1 0 1,-0.1 1 0 1 0 1 0 1 0 1 0 1 0 1 0 1 0 1 0 1 0 1 0 1,-0.1 1 0 1 0 1 0 1 0 1 0 1 0 1,-0.1 1 0 1 0 1 0 1 0 1 0 1,-0.1 1 0 1 0 1 0 1,-0.1 1 0 1 0 1,-0.1 1 0 1,-0.1 1,-0.1 1 0 1,-0.2 1,-0.1 1,-0.2 1,-0.3 1,-0.3 1,-0.5 1,-0.6 1,-0.8 1,-1 1,-1.3 1,-1.7 1,-2.2 1,-2.7 1,-3.4 1,-4.1 1,-5.1 1,-6.1 1,-7.3 1,-8.6 1,-10 1,-11.5 1,-13.1 1,-14.7 1,-16.2 1,-17.7 1,-19 0.9,-20.1 1,-21 1,-21.5 1,-21.6 1,-21.3 1,-20.5 1,-19.3 1,-17.4 1,-15.2 1,-12.6 1,-9.4 1,-6.1 1,-2.5 1 0.8 1 3.5 1 6.2 1 8.7 1 11.1 1 13 1 14.8 1 16.3 1 17.4 1 18.1 1 18.7 1 18.8 1 18.8 1 18.3 1 17.7 1 17 1 16 1 14.9 1 13.8 1 12.6 1 11.5 1 10.2 1 9.1 1 8 1 6.9 1 6 1 5.2 1 4.4 1 3.6 1 3.1 1 2.5 1 2.1 1 1.7 1 1.4 1 1.1 1 0.9 1 0.7 1 0.6 1 0.4 1 0.4 1 0.2 1 0.2 1 0.2 1 0.1 1 0.1 1 0.1 1 0.1 1 0 1 0.1 1 0 1 0.1 1 0 1 0 1 0.1 1 0 1 0 1 0 1 0 1 0.1 1 0 1 0 1 0 1 0 1 0 1 0.1 1 0 1 0 1 0 1 0 1 0 1 0 1 0 1 0 1 0.1 1 0 1 0 1 0 1 0 1 0 1 0 1 0 1 0 1 0 1 0 1 0 1 0 1 0 1 0.1 1 0 1 0 1 0 1 0 1 0 1 0 1 0 1 0 1 0 1 0 1 0 1 0 1 0 1 0 1 0 1 0 1 0 1 0 1 0 1 0 1 0 1 0 1 0 1 0 1 0 1 0.1 1 0 1 0 1 0 1 0 1 0 1 0 1 0 1 0 1 0 1 0 1 0 1 0 1 0 1 0 1 0 1 0 1 0 1 0 1 0 1 0 1 0 1 0 1 0 1 0 1 0 1 0 1 0 1 0 1 0 1 0 1 0 1 0 1 0 1 0 1 0 1 0 1 0 1 0 1 0 1 0 1 0 1 0 1 0 1 0 1 0 1 0 1 0 1 0 1 0 1 0 1 0 1 0 1 0 1 0 1 0 1 0 1 0 1 0 1 0 1 0 1 0 1 0 1 0 1 0 1 0 1 0 1 0 1 0 1 0 1 0 1 0 1 0 1 0 1 0 1 0 1 0 1 0 1 0 1 0 1 0 1 0 1 0 1 0 1 0.1 1 0 1 0 1 0 1 0 1 0 1 0 1 0 1 0 1 0 1 0" stroke="#98b2de"/>
<path d="M111.5,1116.3l1 0 1 0 1 0 1 0 1 0 1 0 1 0 1 0 1 0 1 0 1 0 1 0 1 0 1 0 1 0 1 0 1 0 1 0 1 0 1 0 1 0 1 0 1 0 1 0 1 0 1 0 1 0 1 0 1 0 1 0 1 0 1 0 1 0 1 0 1 0 1 0 1 0 1 0 1 0 1 0 1 0 1 0 1 0 1 0 1 0 1 0 1 0 1 0 1 0 1 0 1 0 1 0 1 0 1 0 1 0 1 0 1 0 1 0 1 0 1 0 1 0 1 0 1 0 1 0 1 0 1 0 1 0 1 0 1 0 1 0 1 0 1 0 1 0 1 0 1 0 1 0 1 0 1 0 1 0 1 0 1 0 1 0 1 0 1 0 1 0 1 0 1 0 1 0 1 0 1 0 1 0 1 0 1 0 1 0 1,-0.1 1 0 1 0 1 0 1 0 1 0 1 0 1 0 1 0 1 0 1 0 1 0 1 0 1 0 1 0 1 0 1 0 1 0 1 0 1 0 1 0 1 0 1 0 1 0 1 0 1 0 1 0 1 0 1 0 1 0 1 0 1 0 1 0 1 0 1 0 1 0 1 0 1 0 1 0 1 0 1 0 1 0 1 0 1 0 1 0 1 0 1 0 1 0 1 0 1 0 1 0 1 0 1 0 1 0 1 0 1 0 1 0 1 0 1 0 1 0 1 0 1 0 1 0 1 0 1 0 1 0 1 0 1 0 1 0 1 0 1 0 1 0 1 0 1 0 1 0 1 0 1 0 1 0 1 0 1 0 1 0 1 0 1 0 1 0 1 0 1 0 1 0 1 0 1 0 1 0 1 0 1 0 1 0 1 0 1 0 1 0 1 0 1 0 1 0 1 0 1 0 1 0 1 0 1 0 1 0 1 0 1,-0.1 1 0 1 0 1 0 1 0 1 0 1 0 1 0 1 0 1 0 1 0 1 0 1 0 1 0 1 0 1 0 1 0 1 0 1 0 1 0 1 0 1 0 1 0 1 0 1 0 1 0 1 0 0.9 0 1 0 1 0 1 0 1 0 1 0 1,-0.1 1 0 1 0 1 0 1 0 1 0 1 0 1 0 1 0 1 0 1 0 1 0 1 0 1 0 1 0 1 0 1 0 1 0 1,-0.1 1 0 1 0 1 0 1 0 1 0 1 0 1 0 1 0 1 0 1,-0.1 1 0 1 0 1 0 1 0 1,-0.1 1 0 1 0 1 0 1,-0.1 1 0 1,-0.1 1 0 1,-0.1 1,-0.1 1,-0.1 1,-0.1 1,-0.1 1,-0.1 1,-0.2 1,-0.2 1,-0.2 1,-0.3 1,-0.3 1,-0.3 1,-0.4 1,-0.4 1,-0.5 1,-0.6 1,-0.7 1,-0.7 1,-0.9 1,-0.9 1,-1.1 1,-1.2 1,-1.3 1,-1.5 1,-1.6 1,-1.8 1,-2 1,-2.2 1,-2.4 1,-2.7 1,-2.8 1,-3.1 1,-3.4 1,-3.6 1,-3.9 1,-4.1 1,-4.4 1,-4.7 1,-4.9 1,-5.2 1,-5.5 1,-5.7 1,-5.9 1,-6.1 1,-6.4 1,-6.5 1,-6.6 1,-6.7 1,-6.9 1,-6.8 1,-6.9 1,-6.9 1,-6.7 1,-6.7 1,-6.5 1,-6.2 1,-6.1 1,-5.7 1,-5.4 1,-5 1,-4.6 1,-4.1 1,-3.6 1,-3.1 1,-2.5 1,-1.9 1,-1.4 1,-0.7 1,-0.1 1 0.9 1 2.1 1 3.2 1 4.2 1 5.3 1 6.1 1 7 1 7.7 1 8.2 1 8.7 1 9.1 1 9.3 1 9.4 1 9.5 1 9.3 1 9.2 1 9 1 8.6 1 8.3 1 7.8 1 7.4 1 6.8 1 6.4 1 5.9 1 5.3 1 4.9 1 4.4 1 3.9 1 3.5 1 3.1 1 2.7 1 2.4 1 2 1 1.8 1 1.5 1 1.3 1 1.1 1 1 1 0.7 1 0.7 1 0.5 1 0.5 1 0.3 1 0.3 1 0.3 1 0.2 1 0.2 1 0.1 1 0.1 1 0.1 1 0.1 1 0 1 0.1 1 0 1 0.1 1 0 1 0 1 0 1 0.1 1 0 1 0 1 0 1 0 1 0 1 0 1 0 1 0.1 1 0 1 0 1 0 1 0 1 0 1 0 1 0 1 0 1 0 1 0 1 0 1 0 1 0.1 1 0 1 0 1 0 1 0 1 0 1 0 1 0 1 0 1 0 1 0 1 0 1 0 1 0 1 0 1 0 1 0 1 0 1 0 1 0 1 0 1 0 1 0 1 0.1 1 0 1 0" stroke="#98b2de"/>
<path d="M111.5,1116.3l1 0 1 0 1 0 1 0 1 0 1 0 1 0 1 0 1 0 1 0 1 0 1 0 1 0 1 0 1 0 1 0 1 0 1 0 1 0 1 0 1 0 1 0 1 0 1 0 1 0 1 0 1 0 1 0 1 0 1 0 1 0 1 0 1 0 1 0 1 0 1 0 1 0 1 0 1 0 1 0 1 0 1 0 1 0 1 0 1 0 1 0 1 0 1 0 1 0 1 0 1 0 1 0 1 0 1 0 1 0 1 0 1 0 1 0 1 0 1 0 1 0 1 0 1 0 1 0 1 0 1 0 1 0 1 0 1 0 1 0 1 0 1 0 1 0 1 0 1 0 1 0 1 0 1 0 1 0 1 0 1 0 1 0 1 0 1 0 1 0 1 0 1 0 1 0 1 0 1 0 1 0 1 0 1 0 1 0 1 0 1 0 1 0 1 0 1 0 1 0 1 0 1 0 1 0 1 0 1 0 1 0 1 0 1 0 1 0 1 0 1 0 1 0 1 0 1 0 1 0 1 0 1 0 1 0 1 0 1 0 1 0 1 0 1 0 1 0 1 0 1 0 1 0 1 0 1 0 1 0 1 0 1 0 1 0 1 0 1 0 1 0 1 0 1 0 1 0 1 0 1 0 1 0 1 0 1 0 1 0 1 0 1 0 1 0 1 0 1 0 1 0 1 0 1 0 1 0 1 0 1 0 1 0 1 0 1 0 1 0 1 0 1 0 1 0 1 0 1 0 1 0 1 0 1 0 1 0 1 0 1 0 1 0 1 0 1 0 1 0 1 0 1 0 1 0 1 0 1 0 1 0 1 0 1 0 1 0 1 0 1 0 1 0 1 0 1 0 1 0 1 0 1 0 1 0 1 0 1 0 1 0 1 0 1 0 1 0 1 0 1 0 1 0 1 0 1 0 1 0 1 0 1 0 1 0 1 0 1 0 1 0 1 0 1 0 1 0 1 0 1 0 1 0 1 0 1 0 1 0 1 0 1 0 1 0 1 0 1 0 1 0 1 0 0.9 0 1 0 1 0 1,-0.1 1 0 1 0 1 0 1 0 1 0 1 0 1 0 1 0 1 0 1 0 1 0 1 0 1 0 1 0 1 0 1 0 1 0 1 0 1 0 1 0 1 0 1 0 1 0 1 0 1 0 1 0 1 0 1 0 1 0 1 0 1 0 1 0 1 0 1 0 1 0 1 0 1 0 1 0 1 0 1 0 1 0 1 0 1 0 1 0 1 0 1 0 1 0 1 0 1 0 1 0 1 0 1 0 1 0 1 0 1 0 1 0 1 0 1 0 1 0 1 0 1 0 1 0 1,-0.1 1 0 1 0 1 0 1 0 1 0 1 0 1 0 1 0 1 0 1 0 1 0 1 0 1 0 1 0 1 0 1 0 1 0 1 0 1,-0.1 1 0 1 0 1 0 1 0 1 0 1 0 1 0 1 0 1 0 1,-0.1 1 0 1 0 1 0 1 0 1 0 1 0 1,-0.1 1 0 1 0 1 0 1 0 1,-0.1 1 0 1 0 1,-0.1 1 0 1,-0.1 1,-0.1 1,-0.1 1,-0.2 1,-0.2 1,-0.3 1,-0.3 1,-0.5 1,-0.7 1,-0.9 1,-1.2 1,-1.5 1,-2 1,-2.6 1,-3.1 1,-4 1,-4.9 1,-5.9 1,-7.2 1,-8.4 1,-9.8 1,-11.3 1,-12.8 1,-14.2 1,-15.7 1,-17 1,-17.9 1,-18.8 1,-19.2 1,-19.2 1,-18.7 1,-17.8 1,-16.4 1,-14.4 1,-12.1 1,-9.2 1,-6.1 1,-2.8 1 0.7 1 3.7 1 6.8 1 9.6 1 12 1 14.2 1 15.8 1 17.2 1 17.9 1 18.4 1 18.3 1 18 1 17.4 1 16.4 1 15.2 1 14 1 12.7 1 11.3 1 9.9 1 8.7 1 7.3 1 6.3 1 5.2 1 4.4 1 3.5 1 2.8 1 2.3 1 1.8 1 1.4 1 1.1 1 0.8 1 0.7 1 0.4 1 0.4 1 0.3 1 0.2 1 0.2 1 0.1 1 0.1 1 0 1 0.1 1 0 1 0.1 1 0 1 0 1 0.1 1 0 1 0 1 0 1 0 1 0.1 1 0 1 0 1 0 1 0 1 0 1 0 1 0.1 1 0 1 0 1 0 1 0 1 0 1 0 1 0 1 0 1 0 1 0 1 0.1 1 0 1 0" stroke="#bab680"/>
<path d="M111.5,1116.3l1 0 1 0 1 0 1 0 1 0 1 0 1 0 1 0 1 0 1 0 1 0 1 0 1 0 1 0 1 0 1 0 1 0 1 0 1 0 1 0 1 0 1 0 1 0 1 0 1 0 1 0 1 0 1 0 1 0 1 0 1 0 1 0 1 0 1 0 1 0 1 0 1 0 1 0 1 0 1 0 1 0 1 0 1 0 1 0 1 0 1 0 1 0 1 0 1 0 1 0 1 0 1 0 1 0 1 0 1 0 1 0 1 0 1 0 1 0 1 0 1 0 1 0 1 0 1 0 1 0 1 0 1 0 1 0 1 0 1 0 1 0 1 0 1 0 1 0 1 0 1 0 1 0 1 0 1 0 1 0 1 0 1 0 1 0 1 0 1 0 1 0 1 0 1 0 1 0 1 0 1 0 1 0 1 0 1 0 1 0 1 0 1 0 1 0 1 0 1 0 1 0 1 0 1 0 1 0 1 0 1 0 1 0 1 0 1 0 1 0 1 0 1 0 1 0 1 0 1 0 1 0 1 0 1 0 1 0 1 0 1 0 1 0 1 0 1 0 1 0 1 0 1 0 1 0 1 0 1 0 1 0 1 0 1 0 1 0 1 0 1 0 1 0 1 0 1 0 1 0 1 0 1 0 1 0 1 0 1 0 1 0 1 0 1 0 1 0 1 0 1 0 1 0 1 0 1 0 1 0 1 0 1 0 1 0 1 0 1 0 1 0 1 0 1 0 1 0 1 0 1 0 1 0 1 0 1 0 1 0 1 0 1 0 1 0 1 0 1 0 1 0 1 0 1 0 1 0 1 0 1 0 1 0 1 0 1 0 1 0 1 0 1 0 1 0 1 0 1 0 1 0 1 0 1 0 1 0 1 0 1 0 1 0 1 0 1 0 1 0 1 0 1 0 1 0 1 0 1 0 1 0 1 0 1 0 1 0 1 0 1 0 1 0 1 0 1 0 1 0 1 0 1 0 1 0 1 0 1 0 1 0 1 0 1 0 1 0 1 0 1 0 1 0 0.9 0 1 0 1 0 1 0 1 0 1 0 1 0 1 0 1 0 1 0 1 0 1 0 1 0 1 0 1 0 1 0 1 0 1 0 1 0 1 0 1 0 1 0 1 0 1 0 1 0 1 0 1 0 1 0 1 0 1 0 1 0 1 0 1 0 1 0 1 0 1 0 1 0 1 0 1 0 1 0 1 0 1 0 1 0 1 0 1 0 1 0 1 0 1 0 1 0 1 0 1 0 1 0 1 0 1 0 1,-0.1 1 0 1 0 1 0 1 0 1 0 1 0 1 0 1 0 1 0 1 0 1 0 1 0 1 0 1 0 1 0 1 0 1 0 1 0 1 0 1 0 1 0 1 0 1 0 1 0 1 0 1 0 1 0 1 0 1 0 1 0 1 0 1 0 1 0 1 0 1 0 1 0 1 0 1 0 1 0 1 0 1 0 1 0 1 0 1 0 1 0 1 0 1 0 1 0 1 0 1,-0.1 1 0 1 0 1 0 1 0 1 0 1 0 1 0 1 0 1 0 1 0 1 0 1 0 1 0 1 0 1 0 1,-0.1 1 0 1 0 1 0 1 0 1 0 1 0 1 0 1,-0.1 1 0 1 0 1 0 1 0 1,-0.1 1 0 1 0 1 0 1,-0.1 1 0 1 0 1,-0.1 1 0 1,-0.1 1,-0.1 1,-0.1 1,-0.1 1,-0.2 1,-0.3 1,-0.4 1,-0.7 1,-1 1,-1.5 1,-2.1 1,-3.1 1,-4.2 1,-5.7 1,-7.7 1,-10 1,-12.7 1,-15.7 1,-19 1,-22.3 1,-25.5 1,-28.2 1,-30.2 1,-31.3 1,-31.2 1,-29.5 1,-26.4 1,-21.9 1,-15.9 1,-9 1,-1.6 1 6.1 1 13.3 1 19.6 1 24.8 1 28.5 1 30.6 1 31.4 1 30.8 1 29.1 1 26.6 1 23.7 1 20.3 1 17 1 13.9 1 11 1 8.6 1 6.4 1 4.8 1 3.5 1 2.4 1 1.8 1 1.1 1 0.8 1 0.5 1 0.4 1 0.2 1 0.2 1 0.1 1 0.1 1 0.1 1 0 1 0.1 1 0 1 0 1 0.1 1 0 1 0 1 0 1 0.1 1 0 1 0 1 0 1 0 1 0.1 1 0 1 0 1 0 1 0" stroke="#98b2de"/>
<path d="M111.5,1116.3l1 0 1 0 1 0 1 0 1 0 1 0 1 0 1 0 1 0 1 0 1 0 1 0 1 0 1 0 1 0 1 0 1 0 1 0 1 0 1 0 1 0 1 0 1 0 1 0 1 0 1 0 1 0 1 0 1 0 1 0 1 0 1 0 1 0 1 0 1 0 1 0 1 0 1 0 1 0 1 0 1 0 1 0 1 0 1 0 1 0 1 0 1 0 1 0 1 0 1 0 1 0 1 0 1 0 1 0 1 0 1 0 1 0 1 0 1 0 1 0 1 0 1 0 1 0 1 0 1 0 1 0 1 0 1 0 1 0 1 0 1 0 1 0 1 0 1 0 1 0 1 0 1 0 1 0 1 0 1 0 1 0 1 0 1 0 1 0 1 0 1 0 1 0 1 0 1 0 1 0 1 0 1 0 1 0 1 0 1 0 1 0 1 0 1 0 1 0 1 0 1 0 1 0 1 0 1 0 1 0 1 0 1 0 1 0 1 0 1 0 1 0 1 0 1 0 1 0 1 0 1 0 1 0 1 0 1 0 1 0 1 0 1 0 1 0 1 0 1 0 1 0 1 0 1 0 1 0 1 0 1 0 1 0 1 0 1 0 1 0 1 0 1 0 1 0 1 0 1 0 1 0 1 0 1 0 1 0 1 0 1 0 1 0 1 0 1 0 1 0 1 0 1 0 1 0 1 0 1 0 1 0 1 0 1 0 1 0 1 0 1 0 1 0 1 0 1 0 1 0 1 0 1 0 1 0 1 0 1 0 1 0 1 0 1 0 1 0 1 0 1 0 1 0 1 0 1 0 1 0 1 0 1 0 1 0 1 0 1 0 1 0 1 0 1 0 1 0 1 0 1 0 1 0 1 0 1 0 1 0 1 0 1 0 1 0 1 0 1 0 1 0 1 0 1 0 1 0 1 0 1 0 1 0 1 0 1 0 1 0 1 0 1 0 1 0 1 0 1 0 1 0 1 0 1 0 1 0 1 0 1 0 1 0 1 0 1 0 1 0 1 0 1 0 0.9 0 1 0 1 0 1 0 1 0 1 0 1 0 1 0 1 0 1 0 1 0 1 0 1 0 1 0 1 0 1 0 1 0 1 0 1 0 1 0 1 0 1 0 1 0 1 0 1 0 1 0 1 0 1 0 1 0 1 0 1 0 1 0 1 0 1 0 1 0 1 0 1 0 1 0 1 0 1 0 1 0 1 0 1 0 1 0 1 0 1 0 1 0 1 0 1 0 1 0 1 0 1 0 1 0 1 0 1 0 1 0 1 0 1 0 1 0 1 0 1 0 1 0 1 0 1 0 1 0 1 0 1 0 1 0 1 0 1 0 1 0 1 0 1 0 1 0 1 0 1 0 1 0 1 0 1 0 1 0 1 0 1 0 1 0 1 0 1 0 1 0 1 0 1 0 1 0 1 0 1 0 1 0 1 0 1 0 1,-0.1 1 0 1 0 1 0 1 0 1 0 1 0 1 0 1 0 1 0 1 0 1 0 1 0 1 0 1 0 1 0 1 0 1 0 1 0 1 0 1 0 1 0 1 0 1 0 1 0 1 0 1 0 1 0 1 0 1 0 1 0 1 0 1 0 1 0 1 0 1 0 1 0 1 0 1 0 1,-0.1 1 0 1 0 1 0 1 0 1 0 1 0 1 0 1 0 1 0 1 0 1 0 1,-0.1 1 0 1 0 1 0 1 0 1,-0.1 1 0 1,-0.1 1,-0.1 1,-0.1 1,-0.2 1,-0.2 1,-0.3 1,-0.4 1,-0.6 1,-0.7 1,-1 1,-1.2 1,-1.6 1,-1.9 1,-2.4 1,-3 1,-3.5 1,-4.2 1,-4.8 1,-5.6 1,-6.3 1,-6.9 1,-7.6 1,-8.1 1,-8.5 1,-8.6 1,-8.7 1,-8.5 1,-8 1,-7.3 1,-6.4 1,-5.2 1,-3.7 1,-2.3 1,-0.7 1 1.4 1 3.7 1 5.8 1 7.5 1 8.9 1 9.8 1 10.3 1 10.5 1 10.2 1 9.6 1 8.9 1 7.9 1 6.9 1 5.9 1 4.9 1 4 1 3.2 1 2.5 1 1.9 1 1.5 1 1 1 0.8 1 0.5 1 0.4 1 0.3 1 0.1 1 0.2 1 0.1 1 0 1 0.1 1 0 1 0 1 0 1 0.1 1 0" stroke="#bab680"/>
<path d="M111.5,1115.6l1 0 1 0 1 0 1 0 1,-0.1 1 0 1 0 1,-0.1 1 0 1,-0.1 1,-0.1 1,-0.1 1,-0.1 1,-0.1 1,-0.2 1,-0.2 1,-0.3 1,-0.3 1,-0.4 1,-0.6 1,-0.6 1,-0.8 1,-0.9 1,-1.1 1,-1.4 1,-1.6 1,-1.9 1,-2.3 1,-2.6 1,-3 1,-3.5 1,-4 1,-4.5 1,-5.1 1,-5.6 1,-6.3 1,-6.9 1,-7.5 1,-8.1 1,-8.6 1,-9.2 1,-9.6 1,-10 1,-10.3 1,-10.4 1,-10.6 1,-10.4 1,-10.2 1,-9.8 1,-9.4 1,-8.6 1,-7.8 1,-6.8 1,-5.8 1,-4.5 1,-3.2 1,-1.9 1,-0.5 1 1.3 1 3.3 1 5.2 1 6.8 1 8.4 1 9.7 1 10.7 1 11.6 1 12.1 1 12.4 1 12.5 1 12.3 1 11.9 1 11.5 1 10.8 1 10 1 9.2 1 8.4 1 7.5 1 6.6 1 5.8 1 5 1 4.3 1 3.6 1 3 1 2.5 1 2 1 1.6 1 1.2 1 1 1 0.7 1 0.5 1 0.3 1 0.1 1 0.1 1,-0.1 1,-0.1 1,-0.3 1,-0.3 1,-0.4 1,-0.4 1,-0.6 1,-0.5 1,-0.7 1,-0.7 1,-0.8 1,-0.8 1,-1 1,-1 1,-1.1 1,-1.2 1,-1.2 1,-1.4 1,-1.5 1,-1.5 1,-1.7 1,-1.8 1,-1.9 1,-2 1,-2.1 1,-2.2 1,-2.3 1,-2.5 1,-2.5 1,-2.7 1,-2.8 1,-2.9 1,-3 1,-3.1 1,-3.2 1,-3.2 1,-3.4 1,-3.4 1,-3.5 1,-3.6 1,-3.6 1,-3.6 1,-3.6 1,-3.7 1,-3.6 1,-3.7 1,-3.6 1,-3.5 1,-3.5 1,-3.4 1,-3.4 1,-3.2 1,-3.1 1,-3 1,-2.8 1,-2.7 1,-2.5 1,-2.3 1,-2.1 1,-1.9 1,-1.8 1,-1.5 1,-1.4 1,-1.2 1,-1 1,-1 1,-0.8 1,-0.4 1 0 1 0.5 1 0.7 1 1 1 0.9 1 0.9 1 0.7 1 0.3 1,-0.1 1,-0.7 1,-1.1 1,-1.7 1,-2.2 1,-2.6 1,-3 1,-3.2 1,-3.4 1,-3.5 1,-3.5 1,-3.5 1,-3.6 1,-3.5 1,-3.6 1,-3.6 1,-3.7 1,-3.7 1,-3.8 1,-3.7 1,-3.6 1,-3.5 1,-3.2 1,-3.1 1,-2.8 1,-2.6 1,-2.7 1,-2.8 1,-3.2 1,-3.5 1,-4 1,-4.6 1,-5.3 1,-6 1,-6.8 1,-7.4 1,-8 1,-8.4 1,-8.6 1,-8.5 1,-8.2 1,-7.7 1,-7 1,-6.1 1,-5 1,-4 1,-2.9 1,-1.7 1,-0.7 1,-0.1 1 0.3 1 0.2 1,-0.1 1,-0.8 1,-1.5 1,-2.5 1,-3.5 1,-4.3 0.9,-5 1,-5.6 1,-5.9 1,-6 1,-6 1,-5.6 1,-5.1 1,-4.3 1,-3.2 1,-2.1 1,-0.6 1 1 1 2.6 1 4.4 1 6.3 1 8.6 1 10.9 1 13.2 1 15.1 1 16.9 1 18.4 1 19.5 1 20.4 1 20.8 1 21 1 20.8 1 20.4 1 19.6 1 18.7 1 17.5 1 16.3 1 14.9 1 13.5 1 12.1 1 10.7 1 9.4 1 8.2 1 7 1 5.9 1 5 1 4.2 1 3.4 1 2.8 1 2.3 1 1.8 1 1.4 1 1.1 1 0.8 1 0.7 1 0.5 1 0.3 1 0.2 1 0.2 1 0 1 0 1 0 1,-0.2 1,-0.1 1,-0.3 1,-0.2 1,-0.4 1,-0.4 1,-0.5 1,-0.5 1,-0.7 1,-0.7 1,-0.8 1,-1 1,-1 1,-1.2 1,-1.4 1,-1.5 1,-1.7 1,-1.8 1,-2.1 1,-2.2 1,-2.5 1,-2.7 1,-2.9 1,-3.2 1,-3.5 1,-3.7 1,-4 1,-4.3 1,-4.6 1,-4.8 1,-5.1 1,-5.4 1,-5.6 1,-5.9 1,-6.1 1,-6.3 1,-6.5 1,-6.7 1,-6.8 1,-6.9 1,-7 1,-7 1,-7 1,-6.9 1,-6.8 1,-6.7 1,-6.6 1,-6.3 1,-6 1,-5.7 1,-5.4 1,-5 1,-4.6 1,-4.1 1,-3.7 1,-3.3 1,-2.8 1,-2.3 1,-1.9 1,-1.4 1,-0.9 1,-0.3 1 0.3 1 0.7 1 1.2 1 1.3 1 1.6 1 1.5 1 1.4 1 1.1 1 0.7 1 0.3 1,-0.4 1,-1.2 1,-1.9 1,-2.8 1,-3.6 1,-4.6 1,-5.4 1,-6.2 1,-6.9 1,-7.4 1,-8 1,-8.2 1,-8.3 1,-8.3 1,-8 1,-7.5 1,-6.9 1,-6.2 1,-5.2 1,-4.4 1,-3.4 1,-2.4 1,-1.6 1,-0.7 1 0 1 0.4 1 0.5 1 0.2 1,-0.4 1,-1.5 1,-2.9 1,-4.4 1,-6.2 1,-7.9 1,-9.7 1,-11 1,-12.2 1,-12.7 1,-12.9 1,-12.2 1,-11 1,-9.2 1,-6.7 1,-3.7 1,-0.5 1 3.1 1 6.5 1 10 1 13 1 15.7 1 17.7 1 19.3 1 20.3 1 20.8 1 20.9 1 20.5 1 19.9 1 19 1 18.1 1 17 1 16.4 1 15.6 1 15.1 1 14.5 1 13.9 1 13.3 1 12.8 1 12.1 1 11.4 1 10.8 1 9.9 1 9.2 1 8.3 1 7.5 1 6.7 1 5.9 1 5.1 1 4.3 1 3.7 1 3.1 1 2.6 1 2.1 1 1.6 1 1.4 1 1 1 0.9 1 0.6 1 0.5 1 0.4 1 0.3 1 0.2 1 0.2 1 0.1" stroke="#bf9878"/>
<path d="M111.5,1114.9l2 5.3 2 3.7 2,-8.7 2 3.6 2,-17.9 2,-1.9 2 5.4 2,-3.3 2,-0.7 2,-5.7 2 2.4 2,-13.8 2,-4.8 2,-11.6 2,-0.4 2,-17 2,-5.4 2,-21.3 2 2.7 2,-26.4 2,-0.3 2,-30.6 2 6.8 2,-31.4 2,-0.6 2,-22.3 2,-10.1 2,-16.6 2,-1.6 2,-12.7 2 20.9 2 8.9 2 29.6 2 20.3 2 39 2 20.8 2 39.3 2 2.5 2 18.5 2 9 2 13.4 2,-1.6 2 15.8 2,-7.6 2 5.7 2,-4.3 2 8.4 2,-6.4 2 0.5 2,-7.4 2 11.3 2,-20 2 3.8 2,-6.6 2,-3 2,-3.4 2 4.7 2,-11.4 2 8 2,-18.2 2 2.2 2,-11 2 2.2 2,-11.5 2 5.4 2,-18.7 2 6.4 2,-13.6 2,-1.8 2,-17.9 2 4 2,-9.7 2,-7.7 2,-11 2 3 2,-16.7 2 6.7 2,-16.9 2 14.5 2,-16.3 2 36.6 2,-36.2 2 17.7 2,-12.3 2 11.5 2,-15.5 2 11.7 2,-23.1 2 12.3 2,-29.8 2 14 2,-11.7 2 0.8 2,-32 2 11.7 2,-20.7 2 13.8 2,-31 2 2 2,-21.5 2,-2.7 2,-17.2 2 7.5 2,-29.7 2,-15.4 2,-25.8 2,-1.9 2,-16.8 2,-5.5 2,-13.8 2 9.5 2,-4.5 2 14 1.9,-2.1 2 35.1 2 19 2,-28.3 2,-29.1 2 10.1 2,-17.4 2 8.6 2,-3.8 2 30.3 2 4.6 2 42.4 2 27.3 2 73.5 2 25.9 2 54.4 2 31.1 2 30.2 2 5.2 2 22.7 2,-1.8 2 14.6 2,-3.4 2 10.8 2,-8.6 2 8.1 2 7.8 2 7.6 2,-20.6 2 0.7 2,-8.3 2 2.6 2,-8.9 2,-2.8 2,-6.3 2,-1.1 2,-16.4 2 5.7 2,-16.5 2,-3.8 2,-17.2 2 0.8 2,-16 2 4.4 2,-21.4 2,-5 2,-17.5 2 4.6 2,-22.8 2,-6.9 2,-25.4 2 3.4 2,-18.5 2,-3.8 2,-18.1 2 4.8 2,-9.9 2 3.4 2,-20.8 2 10.4 2,-13 2 12 2,-17.4 2 5.1 2,-20.1 2 7.9 2,-15.3 2 1.3 2,-22.5 2 6 2,-20 2,-1.1 2,-18.6 2,-6.3 2,-17.5 2 10.5 2,-18.6 2 2.4 2,-17.9 2 16.3 2,-27.3 2,-4 2,-16.4 2 15.8 2,-20.7 2 5.9 2,-18.2 2 3.9 2 2.1 2 32.8 2 34.4 2 56.7 2 25.7 2 53.9 2 6.6 2 31.3 2 27.9 2 32 2 14.9 2 32 2 20.1 2 20.7 2,-1.5 2 20.7 2,-16 2 21.1 2,-6.4 2 8.3 2,-8.9 2 9.9 2,-2.5" stroke="#f02832" stroke-width="1.4" stroke-linejoin="round"/>
<rect x="63.5" y="624.8" width="549.9" height="507.6" stroke="#aaaaaa" stroke-width="1.7"/>
<path d="M59.5,1126.5h4M56.5,1116.3h7M59.5,1106.1h4M59.5,1095.9h4M59.5,1085.6h4M59.5,1075.4h4M56.5,1065.2h7M59.5,1055h4M59.5,1044.8h4M59.5,1034.5h4M59.5,1024.3h4M56.5,1014.1h7M59.5,1003.9h4M59.5,993.7h4M59.5,983.4h4M59.5,973.2h4M56.5,963h7M59.5,952.8h4M59.5,942.6h4M59.5,932.3h4M59.5,922.1h4M56.5,911.9h7M59.5,901.7h4M59.5,891.5h4M59.5,881.2h4M59.5,871h4M56.5,860.8h7M59.5,850.6h4M59.5,840.4h4M59.5,830.1h4M59.5,819.9h4M56.5,809.7h7M59.5,799.5h4M59.5,789.3h4M59.5,779h4M59.5,768.8h4M56.5,758.6h7M59.5,748.4h4M59.5,738.2h4M59.5,727.9h4M59.5,717.7h4M56.5,707.5h7M59.5,697.3h4M59.5,687.1h4M59.5,676.8h4M59.5,666.6h4M56.5,656.4h7M59.5,646.2h4M59.5,636h4M59.5,625.7h4M613.4,1132.4v10M603.4,1132.4v6M593.4,1132.4v6M583.4,1132.4v6M573.4,1132.4v6M563.4,1132.4v6M553.4,1132.4v6M543.4,1132.4v6M533.4,1132.4v6M523.4,1132.4v6M513.4,1132.4v10M503.4,1132.4v6M493.4,1132.4v6M483.4,1132.4v6M473.4,1132.4v6M463.4,1132.4v6M453.4,1132.4v6M443.4,1132.4v6M433.4,1132.4v6M423.4,1132.4v6M413.4,1132.4v10M403.4,1132.4v6M393.4,1132.4v6M383.4,1132.4v6M373.4,1132.4v6M363.4,1132.4v6M353.4,1132.4v6M343.4,1132.4v6M333.5,1132.4v6M323.5,1132.4v6M313.5,1132.4v10M303.5,1132.4v6M293.5,1132.4v6M283.5,1132.4v6M273.5,1132.4v6M263.5,1132.4v6M253.5,1132.4v6M243.5,1132.4v6M233.5,1132.4v6M223.5,1132.4v6M213.5,1132.4v10M203.5,1132.4v6M193.5,1132.4v6M183.5,1132.4v6M173.5,1132.4v6M163.5,1132.4v6M153.5,1132.4v6M143.5,1132.4v6M133.5,1132.4v6M123.5,1132.4v6M113.5,1132.4v10M103.5,1132.4v6M93.5,1132.4v6M83.5,1132.4v6M73.5,1132.4v6M63.5,1132.4v6" stroke="#8c8c8c" stroke-width="1.2"/>
<text x="55" y="1115.3" text-anchor="end" class="t">0</text>
<text x="55" y="1064.2" text-anchor="end" class="t">5</text>
<text x="55" y="1013.1" text-anchor="end" class="t">10</text>
<text x="55" y="962" text-anchor="end" class="t">15</text>
<text x="55" y="910.9" text-anchor="end" class="t">20</text>
<text x="55" y="859.8" text-anchor="end" class="t">25</text>
<text x="55" y="808.7" text-anchor="end" class="t">30</text>
<text x="55" y="757.6" text-anchor="end" class="t">35</text>
<text x="55" y="706.5" text-anchor="end" class="t">40</text>
<text x="55" y="655.4" text-anchor="end" class="t">45</text>
<text x="112.5" y="1156.9" text-anchor="middle" class="t">920</text>
<text x="212.5" y="1156.9" text-anchor="middle" class="t">910</text>
<text x="312.5" y="1156.9" text-anchor="middle" class="t">900</text>
<text x="412.4" y="1156.9" text-anchor="middle" class="t">890</text>
<text x="512.4" y="1156.9" text-anchor="middle" class="t">880</text>
<text x="612.4" y="1156.9" text-anchor="middle" class="t">870</text>
<text x="336.9" y="1173.7" text-anchor="middle" class="a">Binding Energy (eV)</text>
<text x="29.2" y="878" text-anchor="middle" class="a" transform="rotate(-90 29.2 878)">CPS</text>
<text x="62" y="622" class="t">x 10<tspan dx="-0.5" dy="-9">2</tspan></text>
<text x="981" y="165" class="lab" fill="#4a72c0">v′′′</text>
<text x="260" y="965" class="lab" fill="#4a72c0">u′′′</text>
<text x="300" y="913" class="lab" fill="#9a9a40">v′</text>
</svg>
</body></html>
